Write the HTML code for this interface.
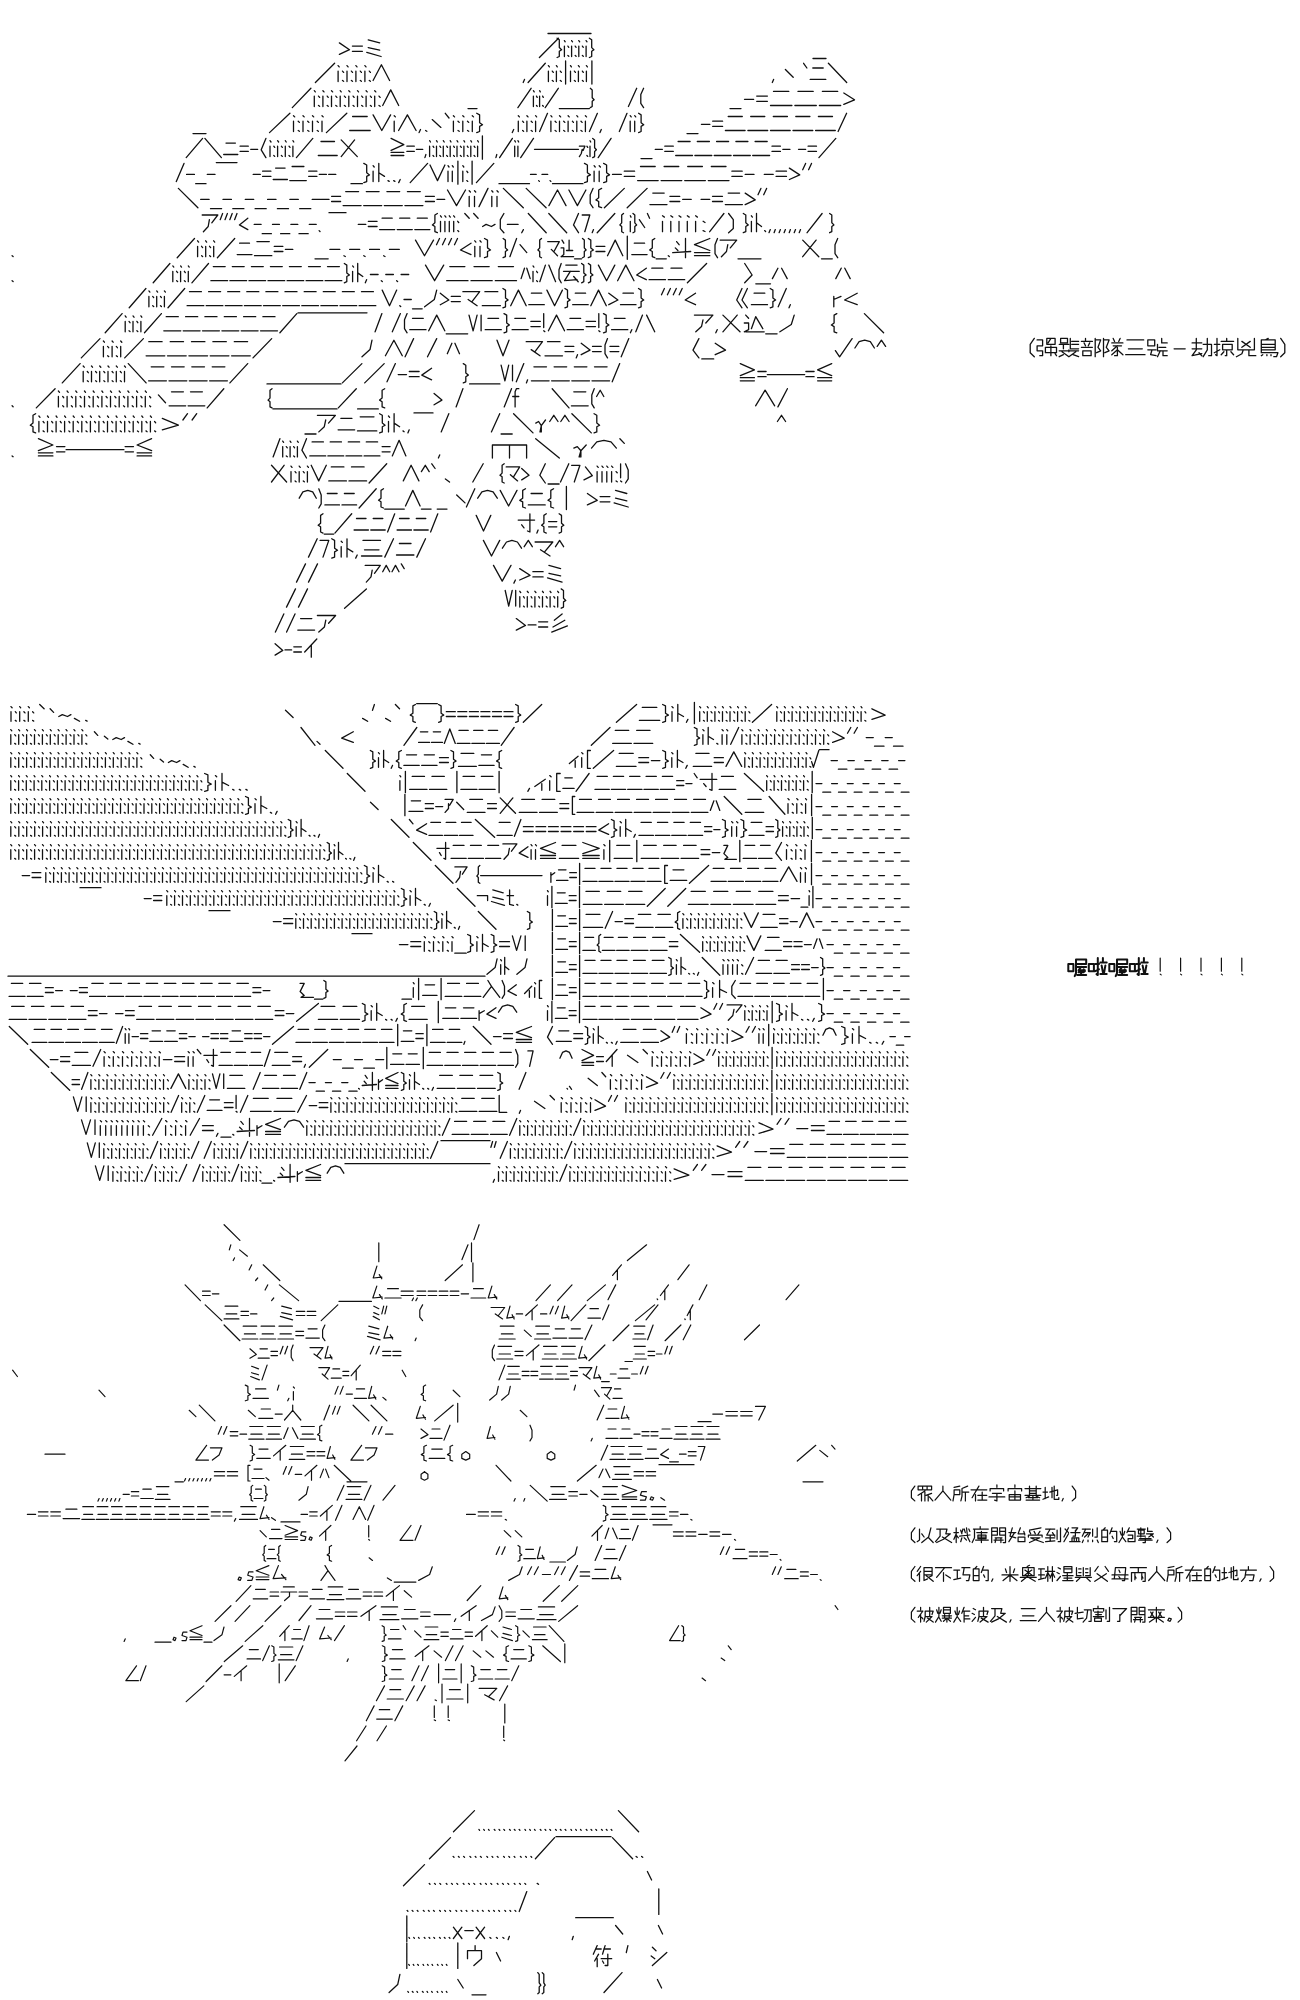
<!DOCTYPE html>
<html><head><meta charset="utf-8"><style>
html,body{margin:0;padding:0;background:#fff;width:1300px;height:2000px;overflow:hidden}
svg{position:absolute;left:0;top:0}
</style></head><body>
<svg width="1300" height="2000" viewBox="0 0 1300 2000"><g fill="none" stroke="#111" stroke-linecap="round" stroke-linejoin="round">
<path stroke-width="1.3" d="M548 33.5L562.3 33.5M562.3 33.5L576.7 33.5M576.7 33.5L591 33.5M339.4 42.9L349.5 49.7L339.4 54.4M352.4 46.1L362.4 46.1M352.4 51.3L362.4 51.3M368.2 39.8L379.7 42.9M368.2 47.6L379.7 50.2M366.8 52.3L381.1 56.5M539.4 57.5L558.5 38.2M557.1 38.2L559.3 39.8L559.3 47.6L561.6 49.7L559.3 51.3L559.3 56.5L557.1 57.5M564.4 40.6L565.2 41.8M564.4 46.1L564.4 56.5M567.9 46.1L568.8 47.3M567.9 55.4L568.8 56.2M571.6 40.6L572.5 41.8M571.6 46.1L571.6 56.5M575.2 46.1L576.1 47.3M575.2 55.4L576.1 56.2M578.8 40.6L579.7 41.8M578.8 46.1L578.8 56.5M582.4 46.1L583.3 47.3M582.4 55.4L583.3 56.2M586.1 40.6L587 41.8M586.1 46.1L586.1 56.5M589.4 38.2L591.7 39.8L591.7 47.6L593.9 49.7L591.7 51.3L591.7 56.5L589.4 57.5M813 58.5L826 58.5M315.4 82.5L334.6 63.3M338.1 65.6L339.2 66.9M338.1 71.1L338.1 81.5M342.5 71.1L343.6 72.4M342.5 80.5L343.6 81.3M347 65.6L348.1 66.9M347 71.1L347 81.5M351.4 71.1L352.5 72.4M351.4 80.5L352.5 81.3M355.9 65.6L357 66.9M355.9 71.1L355.9 81.5M360.3 71.1L361.4 72.4M360.3 80.5L361.4 81.3M364.9 65.6L366 66.9M364.9 71.1L364.9 81.5M369.3 71.1L370.4 72.4M369.3 80.5L370.4 81.3M373.1 80.5L381.4 64.8L389.6 80.5M524.5 79.4L523.2 82.5M528.1 82.5L545.3 63.3M548.4 65.6L549.4 66.9M548.4 71.1L548.4 81.5M552.3 71.1L553.3 72.4M552.3 80.5L553.3 81.3M556.4 65.6L557.3 66.9M556.4 71.1L556.4 81.5M560.3 71.1L561.3 72.4M560.3 80.5L561.3 81.3M565.6 60.9L565.6 84.1M570.5 65.6L571.4 66.9M570.5 71.1L570.5 81.5M574.4 71.1L575.4 72.4M574.4 80.5L575.4 81.3M578.4 65.6L579.4 66.9M578.4 71.1L578.4 81.5M582.4 71.1L583.3 72.4M582.4 80.5L583.3 81.3M586.4 65.6L587.4 66.9M586.4 71.1L586.4 81.5M591.9 60.9L591.9 84.1M773.6 79.4L772.3 82.5M785.4 69.5L793.2 77.3M803.6 63.3L806.9 68M812.8 68L823.2 68M810.2 79.4L825.8 79.4M828.4 63.3L846.7 82.5M292.3 107.6L310.9 88.3M314.3 90.7L315.3 91.9M314.3 96.1L314.3 106.5M318.5 96.1L319.6 97.4M318.5 105.5L319.6 106.3M322.9 90.7L324 91.9M322.9 96.1L322.9 106.5M327.2 96.1L328.2 97.4M327.2 105.5L328.2 106.3M331.5 90.7L332.6 91.9M331.5 96.1L331.5 106.5M335.8 96.1L336.9 97.4M335.8 105.5L336.9 106.3M340.2 90.7L341.2 91.9M340.2 96.1L340.2 106.5M344.4 96.1L345.5 97.4M344.4 105.5L345.5 106.3M348.8 90.7L349.9 91.9M348.8 96.1L348.8 106.5M353.1 96.1L354.1 97.4M353.1 105.5L354.1 106.3M357.5 90.7L358.5 91.9M357.5 96.1L357.5 106.5M361.7 96.1L362.8 97.4M361.7 105.5L362.8 106.3M366.1 90.7L367.2 91.9M366.1 96.1L366.1 106.5M370.4 96.1L371.4 97.4M370.4 105.5L371.4 106.3M374.7 90.7L375.8 91.9M374.7 96.1L374.7 106.5M379 96.1L380.1 97.4M379 105.5L380.1 106.3M382.7 105.5L390.7 89.9L398.7 105.5M468 108.6L477 108.6M517.9 107.6L531.1 88.3M533.4 90.7L534.2 91.9M533.4 96.1L533.4 106.5M536.5 96.1L537.2 97.4M536.5 105.5L537.2 106.3M539.6 90.7L540.3 91.9M539.6 96.1L539.6 106.5M542.6 96.1L543.3 97.4M542.6 105.5L543.3 106.3M545.2 107.6L558.3 88.3M559.3 108.6L574.3 108.6M574.3 108.6L589.4 108.6M590.3 88.3L592.2 89.9L592.2 97.7L594.1 99.8L592.2 101.3L592.2 106.5L590.3 107.6M628.4 106.5L636.7 88.3M643.6 88.3L640.8 94.6L640.8 103.4L643.6 107.6M730 108.6L741 108.6M744.5 99.3L753.7 99.3M756.7 96.1L767.4 96.1M756.7 101.3L767.4 101.3M773.5 91.4L788.8 91.4M770.5 105.5L791.9 105.5M798 91.4L813.2 91.4M794.9 105.5L816.3 105.5M822.4 91.4L837.7 91.4M819.4 105.5L840.7 105.5M843.8 93L854.5 99.8L843.8 104.4M193 133.6L206 133.6M269.5 132.6L289.9 113.3M293.5 115.7L294.7 116.9M293.5 121.2L293.5 131.5M298.2 121.2L299.4 122.4M298.2 130.5L299.4 131.3M303 115.7L304.2 116.9M303 121.2L303 131.5M307.7 121.2L308.9 122.4M307.7 130.5L308.9 131.3M312.5 115.7L313.7 116.9M312.5 121.2L312.5 131.5M317.2 121.2L318.4 122.4M317.2 130.5L318.4 131.3M322 115.7L323.2 116.9M322 121.2L322 131.5M326.4 132.6L346.8 113.3M352.6 116.5L367.2 116.5M349.7 130.5L370.2 130.5M373.1 114.9L381.8 130.5L390.6 114.9M394.2 115.7L395.4 116.9M394.2 121.2L394.2 131.5M398.6 130.5L407.4 114.9L416.1 130.5M420.5 129.5L419.1 132.6M425.6 130.5L426.8 131.3M432.2 119.6L440.9 127.4M445.3 113.3L449 118M453.4 115.7L454.5 116.9M453.4 121.2L453.4 131.5M458 121.2L459.2 122.4M458 130.5L459.2 131.3M462.8 115.7L464 116.9M462.8 121.2L462.8 131.5M467.5 121.2L468.7 122.4M467.5 130.5L468.7 131.3M472.3 115.7L473.5 116.9M472.3 121.2L472.3 131.5M476.7 113.3L479.6 114.9L479.6 122.7L482.5 124.8L479.6 126.4L479.6 131.5L476.7 132.6M513.7 129.5L512.3 132.6M518.3 115.7L519.4 116.9M518.3 121.2L518.3 131.5M522.6 121.2L523.6 122.4M522.6 130.5L523.6 131.3M526.9 115.7L528 116.9M526.9 121.2L526.9 131.5M531.2 121.2L532.3 122.4M531.2 130.5L532.3 131.3M535.6 115.7L536.6 116.9M535.6 121.2L535.6 131.5M539.6 131.5L547.5 113.3M550.9 115.7L551.9 116.9M550.9 121.2L550.9 131.5M555.1 121.2L556.2 122.4M555.1 130.5L556.2 131.3M559.5 115.7L560.6 116.9M559.5 121.2L559.5 131.5M563.7 121.2L564.8 122.4M563.7 130.5L564.8 131.3M568.1 115.7L569.2 116.9M568.1 121.2L568.1 131.5M572.4 121.2L573.4 122.4M572.4 130.5L573.4 131.3M576.8 115.7L577.8 116.9M576.8 121.2L576.8 131.5M581 121.2L582.1 122.4M581 130.5L582.1 131.3M585.4 115.7L586.5 116.9M585.4 121.2L585.4 131.5M589.4 131.5L597.4 113.3M601.3 129.5L600 132.6M619.3 131.5L627 113.3M630.2 115.7L631.2 116.9M630.2 121.2L630.2 131.5M634.7 115.7L635.7 116.9M634.7 121.2L634.7 131.5M638.6 113.3L641.1 114.9L641.1 122.7L643.7 124.8L641.1 126.4L641.1 131.5L638.6 132.6M687 133.6L698 133.6M701.4 124.3L709.9 124.3M712.7 121.2L722.6 121.2M712.7 126.4L722.6 126.4M728.2 116.5L742.3 116.5M725.4 130.5L745.1 130.5M750.7 116.5L764.8 116.5M747.9 130.5L767.7 130.5M773.3 116.5L787.4 116.5M770.5 130.5L790.2 130.5M795.8 116.5L809.9 116.5M793 130.5L812.8 130.5M818.4 116.5L832.5 116.5M815.6 130.5L835.3 130.5M838.1 131.5L846.6 113.3M186.2 157.6L202.6 138.4M204.9 138.4L221.4 157.6M226 143.1L235.4 143.1M223.7 154.5L237.8 154.5M240.1 146.2L248.3 146.2M240.1 151.4L248.3 151.4M250.7 149.3L257.7 149.3M265.9 138.4L261.2 149.8L265.9 157.6M270 140.7L271 142M270 146.2L270 156.6M273.8 146.2L274.7 147.4M273.8 155.5L274.7 156.4M277.6 140.7L278.6 142M277.6 146.2L277.6 156.6M281.4 146.2L282.3 147.4M281.4 155.5L282.3 156.4M285.3 140.7L286.2 142M285.3 146.2L285.3 156.6M289 146.2L290 147.4M289 155.5L290 156.4M292.9 140.7L293.8 142M292.9 146.2L292.9 156.6M296.4 157.6L312.8 138.4M321 141.5L334.5 141.5M318.3 155.5L337.2 155.5M341.2 139.9L357.3 156.6M354.6 139.9L341.2 156.6M391.1 138.4L403.8 144.6L391.1 150.4M391.1 152.4L403.8 152.4M391.1 155.5L403.8 155.5M406.9 146.2L414.3 146.2M406.9 151.4L414.3 151.4M416.4 149.3L422.8 149.3M425.9 154.5L424.9 157.6M429.6 140.7L430.5 142M429.6 146.2L429.6 156.6M433 146.2L433.8 147.4M433 155.5L433.8 156.4M436.5 140.7L437.3 142M436.5 146.2L436.5 156.6M439.8 146.2L440.7 147.4M439.8 155.5L440.7 156.4M443.3 140.7L444.2 142M443.3 146.2L443.3 156.6M446.7 146.2L447.5 147.4M446.7 155.5L447.5 156.4M450.2 140.7L451 142M450.2 146.2L450.2 156.6M453.6 146.2L454.4 147.4M453.6 155.5L454.4 156.4M457 140.7L457.9 142M457 146.2L457 156.6M460.4 146.2L461.3 147.4M460.4 155.5L461.3 156.4M463.9 140.7L464.7 142M463.9 146.2L463.9 156.6M467.3 146.2L468.1 147.4M467.3 155.5L468.1 156.4M470.8 140.7L471.6 142M470.8 146.2L470.8 156.6M474.1 146.2L475 147.4M474.1 155.5L475 156.4M477.6 140.7L478.5 142M477.6 146.2L477.6 156.6M482.4 136L482.4 159.2M496.8 154.5L495.9 157.6M499.6 157.6L512.4 138.4M514.7 140.7L515.5 142M514.7 146.2L514.7 156.6M517.9 140.7L518.7 142M517.9 146.2L517.9 156.6M520.7 157.6L533.5 138.4M534.5 149.3L549.1 149.3M549.1 149.3L563.8 149.3M563.8 149.3L578.5 149.3M579.4 146.2L584.9 146.2L583.1 150.4M582.2 149.3L581.3 153.5L579.4 156.6M586.9 146.2L587.7 147.4M586.9 155.5L587.7 156.4M590 140.7L590.7 142M590 146.2L590 156.6M592.7 138.4L594.6 139.9L594.6 147.8L596.4 149.8L594.6 151.4L594.6 156.6L592.7 157.6M598.2 157.6L611.1 138.4M641 158.6L652 158.6M655.2 149.3L662.4 149.3M664.8 146.2L673.3 146.2M664.8 151.4L673.3 151.4M678.1 141.5L690.1 141.5M675.7 155.5L692.5 155.5M697.3 141.5L709.4 141.5M694.9 155.5L711.8 155.5M716.6 141.5L728.6 141.5M714.2 155.5L731.1 155.5M735.9 141.5L747.9 141.5M733.5 155.5L750.3 155.5M755.1 141.5L767.2 141.5M752.7 155.5L769.6 155.5M772 146.2L780.4 146.2M772 151.4L780.4 151.4M782.8 149.3L790 149.3M798.5 149.3L805.7 149.3M808.1 146.2L816.5 146.2M808.1 151.4L816.5 151.4M818.9 157.6L835.8 138.4M176.3 181.6L184 163.4M186.6 174.4L194.4 174.4M195.7 183.7L206 183.7M207.3 174.4L215 174.4M216.3 162.6L237 162.6M253.2 174.4L260.3 174.4M262.6 171.2L270.9 171.2M262.6 176.4L270.9 176.4M275.6 168.1L285.1 168.1M273.2 179.5L287.4 179.5M292.1 166.5L303.9 166.5M289.8 180.6L306.3 180.6M308.7 171.2L316.9 171.2M308.7 176.4L316.9 176.4M319.3 174.4L326.4 174.4M328.7 174.4L335.8 174.4M351 183.7L362.4 183.7M363.8 163.4L366.7 165L366.7 172.8L369.5 174.9L366.7 176.4L366.7 181.6L363.8 182.6M373.1 165.7L374.2 167M373.1 171.2L373.1 181.6M378.8 163.4L378.8 181.6M378.8 172.8L384.5 176.4M388 180.6L389.2 181.4M393.7 180.6L394.9 181.4M400.2 179.5L398.7 182.6M410.2 182.6L427.6 163.4M430 165L437.5 180.6L444.9 165M448 165.7L449 167M448 171.2L448 181.6M452.3 165.7L453.3 167M452.3 171.2L452.3 181.6M457.9 161.1L457.9 184.2M462.8 165.7L463.8 167M462.8 171.2L462.8 181.6M466.8 171.2L467.8 172.5M466.8 180.6L467.8 181.4M472.1 161.1L472.1 184.2M476.4 182.6L493.8 163.4M499 183.7L514.3 183.7M514.3 183.7L529.5 183.7M530.5 174.4L536.2 174.4M538.6 180.6L539.4 181.4M542 174.4L547.7 174.4M550.1 180.6L550.8 181.4M552.5 183.7L567.7 183.7M567.7 183.7L583 183.7M584.5 163.4L587.4 165L587.4 172.8L590.4 174.9L587.4 176.4L587.4 181.6L584.5 182.6M594.1 165.7L595.2 167M594.1 171.2L594.1 181.6M599.2 165.7L600.4 167M599.2 171.2L599.2 181.6M603.6 163.4L606.6 165L606.6 172.8L609.5 174.9L606.6 176.4L606.6 181.6L603.6 182.6M612.5 174.4L621.3 174.4M624.3 171.2L634.6 171.2M624.3 176.4L634.6 176.4M640.5 166.5L655.2 166.5M637.6 180.6L658.2 180.6M664.1 166.5L678.8 166.5M661.1 180.6L681.8 180.6M687.7 166.5L702.4 166.5M684.7 180.6L705.4 180.6M711.3 166.5L726 166.5M708.3 180.6L729 180.6M731.9 171.2L742.2 171.2M731.9 176.4L742.2 176.4M745.2 174.4L754 174.4M764.3 174.4L773.2 174.4M776.1 171.2L786.5 171.2M776.1 176.4L786.5 176.4M789.4 168.1L799.7 174.9L789.4 179.5M805.6 163.4L802.7 169.7M811.5 163.4L808.6 169.7M178.4 188.4L197.9 207.7M200.7 199.4L209.1 199.4M210.5 208.7L221.6 208.7M223 199.4L231.4 199.4M232.8 208.7L243.9 208.7M245.3 199.4L253.7 199.4M255.1 208.7L266.2 208.7M267.6 199.4L276 199.4M277.4 208.7L288.5 208.7M289.9 199.4L298.3 199.4M299.7 208.7L310.8 208.7M312.2 199.4L320.6 199.4M321.3 199.4L329 199.4M331.6 196.3L340.6 196.3M331.6 201.5L340.6 201.5M345.7 191.6L358.6 191.6M343.1 205.6L361.1 205.6M366.3 191.6L379.1 191.6M363.7 205.6L381.7 205.6M386.9 191.6L399.7 191.6M384.3 205.6L402.3 205.6M407.4 191.6L420.3 191.6M404.9 205.6L422.9 205.6M425.4 196.3L434.4 196.3M425.4 201.5L434.4 201.5M437 199.4L444.7 199.4M447.5 190L456.5 205.6L465.5 190M469.2 190.8L470.4 192M469.2 196.3L469.2 206.6M474.5 190.8L475.7 192M474.5 196.3L474.5 206.6M479 206.6L488 188.4M491.8 190.8L492.9 192M491.8 196.3L491.8 206.6M497 190.8L498.2 192M497 196.3L497 206.6M503.4 188.4L523.3 207.7M526.2 188.4L546.1 207.7M548.9 205.6L557.5 190L566 205.6M568.9 190L577.4 205.6L585.9 190M593 188.4L590.2 194.7L590.2 203.5L593 207.7M601.6 188.4L598.7 190L598.7 197.8L595.9 199.9L598.7 201.5L598.7 206.6L601.6 207.7M604.4 207.7L624.3 188.4M627.2 207.7L647.1 188.4M652.8 193.1L664.2 193.1M649.9 204.6L667 204.6M669.9 196.3L679.8 196.3M669.9 201.5L679.8 201.5M682.7 199.4L691.2 199.4M701.1 199.4L709.7 199.4M712.5 196.3L722.5 196.3M712.5 201.5L722.5 201.5M728.2 193.1L739.6 193.1M725.3 204.6L742.4 204.6M745.2 193.1L755.2 199.9L745.2 204.6M760.9 188.4L758 194.7M766.6 188.4L763.7 194.7M202.2 215L217.8 215L211.8 222.8M209.4 219.7L208.2 226.5L203.4 231.7M222.6 213.5L220.2 219.7M227.4 213.5L225 219.7M232.2 213.5L229.8 219.7M237 213.5L234.6 219.7M247.8 218.2L239.4 224.9L247.8 229.6M254.2 224.4L261.1 224.4M262.2 233.7L271.4 233.7M272.5 224.4L279.4 224.4M280.6 233.7L289.8 233.7M290.9 224.4L297.8 224.4M299 233.7L308.2 233.7M309.3 224.4L316.2 224.4M319.1 230.6L320 231.5M329 212.7L346 212.7M358.3 224.4L365.8 224.4M368.3 221.3L377.1 221.3M368.3 226.5L377.1 226.5M382.1 218.2L392.2 218.2M379.6 229.6L394.7 229.6M399.7 218.2L409.8 218.2M397.2 229.6L412.3 229.6M417.3 218.2L427.3 218.2M414.8 229.6L429.9 229.6M437.4 213.5L434.9 215L434.9 222.8L432.4 224.9L434.9 226.5L434.9 231.7L437.4 232.7M440.5 215.8L441.5 217.1M440.5 221.3L440.5 231.7M444.9 215.8L445.9 217.1M444.9 221.3L444.9 231.7M449.3 215.8L450.3 217.1M449.3 221.3L449.3 231.7M453.7 215.8L454.7 217.1M453.7 221.3L453.7 231.7M457.7 221.3L458.7 222.5M457.7 230.6L458.7 231.5M464.8 213.5L469.2 218.2M473.7 213.5L478.1 218.2M482.6 226.5L486.1 224.4L491.4 226.5L495 224.4M503.9 213.5L500.3 219.7L500.3 228.6L503.9 232.7M507.4 224.4L518.1 224.4M523.4 229.6L521.7 232.7M528.3 213.5L546.2 232.7M548.8 213.5L566.7 232.7M578.5 213.5L573.5 224.9L578.5 232.7M582.2 215L589.8 215L584.8 231.7M593.5 229.6L592.2 232.7M597.2 232.7L614.8 213.5M623.5 213.5L621.7 215L621.7 222.8L619.9 224.9L621.7 226.5L621.7 231.7L623.5 232.7M630.3 215.8L631 217.1M630.3 221.3L630.3 231.7M633 213.5L634.8 215L634.8 222.8L636.6 224.9L634.8 226.5L634.8 231.7L633 232.7M639.3 219.7L644.7 227.5M647.4 213.5L649.6 218.2M662.5 215.8L664.4 217.1M662.5 221.3L662.5 231.7M670.8 215.8L672.7 217.1M670.8 221.3L670.8 231.7M679 215.8L680.9 217.1M679 221.3L679 231.7M687.3 215.8L689.2 217.1M687.3 221.3L687.3 231.7M695.6 215.8L697.4 217.1M695.6 221.3L695.6 231.7M703.1 221.3L705 222.5M703.1 230.6L705 231.5M709.7 231.7L723.9 213.5M728.6 213.5L733.3 219.7L733.3 228.6L728.6 232.7M743.3 213.5L745.8 215L745.8 222.8L748.3 224.9L745.8 226.5L745.8 231.7L743.3 232.7M751.4 215.8L752.4 217.1M751.4 221.3L751.4 231.7M756.5 213.5L756.5 231.7M756.5 222.8L761.5 226.5M764.6 230.6L765.6 231.5M770.3 229.6L769 232.7M775.3 229.6L774.1 232.7M780.4 229.6L779.1 232.7M785.4 229.6L784.1 232.7M790.4 229.6L789.2 232.7M795.5 229.6L794.2 232.7M800.5 229.6L799.2 232.7M807.1 232.7L822.1 213.5M829.6 213.5L831.8 215L831.8 222.8L833.9 224.9L831.8 226.5L831.8 231.7L829.6 232.7M12.1 255.7L13.1 256.5M177.2 257.7L194.5 238.5M197.6 240.8L198.6 242.1M197.6 246.3L197.6 256.7M201.6 246.3L202.6 247.6M201.6 255.7L202.6 256.5M205.7 240.8L206.6 242.1M205.7 246.3L205.7 256.7M209.6 246.3L210.6 247.6M209.6 255.7L210.6 256.5M213.7 240.8L214.7 242.1M213.7 246.3L213.7 256.7M217.4 257.7L234.7 238.5M239.6 243.2L249.5 243.2M237.2 254.6L252 254.6M256.9 241.6L269.3 241.6M254.5 255.7L271.8 255.7M274.2 246.3L282.9 246.3M274.2 251.5L282.9 251.5M285.4 249.4L292.8 249.4M315 258.8L328.2 258.8M329.9 249.4L339.8 249.4M343.9 255.7L345.3 256.5M349.7 249.4L359.7 249.4M363.8 255.7L365.1 256.5M369.6 249.4L379.5 249.4M383.6 255.7L385 256.5M389.4 249.4L399.3 249.4M415.5 240.1L424.5 255.7L433.5 240.1M439.5 238.5L436.5 244.7M445.5 238.5L442.5 244.7M451.5 238.5L448.5 244.7M457.5 238.5L454.5 244.7M471 243.2L460.5 250L471 254.6M474.8 240.8L475.9 242.1M474.8 246.3L474.8 256.7M480 240.8L481.2 242.1M480 246.3L480 256.7M484.5 238.5L487.5 240.1L487.5 247.9L490.5 250L487.5 251.5L487.5 256.7L484.5 257.7M503.1 238.5L505.4 240.1L505.4 247.9L507.6 250L505.4 251.5L505.4 256.7L503.1 257.7M509.9 256.7L516.6 238.5M520 244.7L526.8 252.6M541.5 238.5L539.7 240.1L539.7 247.9L537.9 250L539.7 251.5L539.7 256.7L541.5 257.7M547.7 241.6L559.3 241.6L554 251.5M551.3 249.4L557.5 255.7M562 240.1L563.8 243.2M561.1 247.9L563.8 247.9L563.8 254.6L561.1 256.7M562 256.7L573.6 256.7M566.5 250.5L572.7 250.5M569.1 240.1L569.1 250.5M574.5 258.8L581.6 258.8M582.5 238.5L584.3 240.1L584.3 247.9L586.1 250L584.3 251.5L584.3 256.7L582.5 257.7M588.3 238.5L590.8 240.1L590.8 247.9L593.4 250L590.8 251.5L590.8 256.7L588.3 257.7M596 246.3L604.9 246.3M596 251.5L604.9 251.5M607.5 255.7L615.2 240.1L622.8 255.7M627.3 236.1L627.3 259.3M634.3 243.2L644.6 243.2M631.8 254.6L647.1 254.6M654.8 238.5L652.3 240.1L652.3 247.9L649.7 250L652.3 251.5L652.3 256.7L654.8 257.7M656.1 258.8L666.3 258.8M668.3 255.7L669.3 256.5M676.6 241.6L679.1 244.7M675.3 247.9L677.9 250.5M672.7 252.6L690.7 251.5M685.5 238.5L685.5 257.7M709.8 238.5L694.5 244.7L709.8 250.5M694.5 252.6L709.8 252.6M694.5 255.7L709.8 255.7M717.5 238.5L715 244.7L715 253.6L717.5 257.7M720.1 240.1L736.7 240.1L730.3 247.9M727.8 244.7L726.5 251.5L721.4 256.7M738 258.8L749.5 258.8M749.5 258.8L761 258.8M802.7 240.1L818.8 256.7M816.1 240.1L802.7 256.7M821.5 258.8L832.3 258.8M837.7 238.5L835 244.7L835 253.6L837.7 257.7M12.1 280.7L13.1 281.5M153.2 282.8L169.9 263.5M172.8 265.9L173.8 267.1M172.8 271.3L172.8 281.7M176.6 271.3L177.6 272.6M176.6 280.7L177.6 281.5M180.6 265.9L181.5 267.1M180.6 271.3L180.6 281.7M184.4 271.3L185.3 272.6M184.4 280.7L185.3 281.5M188.3 265.9L189.2 267.1M188.3 271.3L188.3 281.7M191.9 282.8L208.5 263.5M213.3 266.6L225.2 266.6M210.9 280.7L227.6 280.7M232.3 266.6L244.2 266.6M229.9 280.7L246.6 280.7M251.4 266.6L263.3 266.6M249 280.7L265.6 280.7M270.4 266.6L282.3 266.6M268 280.7L284.7 280.7M289.4 266.6L301.3 266.6M287.1 280.7L303.7 280.7M308.5 266.6L320.4 266.6M306.1 280.7L322.8 280.7M327.5 266.6L339.4 266.6M325.1 280.7L341.8 280.7M344.3 263.5L346.8 265.1L346.8 272.9L349.4 275L346.8 276.5L346.8 281.7L344.3 282.8M352.6 265.9L353.6 267.1M352.6 271.3L352.6 281.7M357.7 263.5L357.7 281.7M357.7 272.9L362.8 276.5M366.6 279.7L365.3 282.8M370.4 274.5L378.1 274.5M381.3 280.7L382.3 281.5M385.8 274.5L393.4 274.5M396.6 280.7L397.6 281.5M401.1 274.5L408.7 274.5M425.5 265.1L434.6 280.7L443.7 265.1M449.8 266.6L464.9 266.6M446.7 280.7L468 280.7M474 266.6L489.2 266.6M471 280.7L492.2 280.7M498.3 266.6L513.5 266.6M495.3 280.7L516.5 280.7M524.5 268.2L521.1 278.6M526.8 268.2L530.2 278.6M533 265.9L533.9 267.1M533 271.3L533 281.7M536.6 271.3L537.5 272.6M536.6 280.7L537.5 281.5M545.4 265.1L539.8 281.7M548.8 265.1L555.6 281.7M561.2 263.5L559 269.8L559 278.6L561.2 282.8M565.8 265.1L577.1 265.1M563.5 271.3L579.3 271.3M570.3 271.3L564.6 280.7L577.1 279.7M573.7 276.5L578.2 281.7M581.6 263.5L583.8 265.1L583.8 272.9L586.1 275L583.8 276.5L583.8 281.7L581.6 282.8M588.4 263.5L590.6 265.1L590.6 272.9L592.9 275L590.6 276.5L590.6 281.7L588.4 282.8M598.4 265.1L606.6 280.7L614.8 265.1M617.6 280.7L625.8 265.1L634 280.7M646.3 268.2L636.7 275L646.3 279.7M651.8 268.2L662.8 268.2M649.1 279.7L665.5 279.7M671 268.2L682 268.2M668.3 279.7L684.7 279.7M687.4 282.8L706.6 263.5M744.7 263.5L752.1 275L744.7 282.8M755.8 283.8L770.5 283.8M777.9 268.2L772.4 278.6M781.6 268.2L787.2 278.6M841.2 268.2L835.8 278.6M844.8 268.2L850.2 278.6M129.2 307.8L145.9 288.5M148.9 290.9L149.9 292.1M148.9 296.4L148.9 306.8M152.7 296.4L153.7 297.6M152.7 305.7L153.7 306.5M156.7 290.9L157.6 292.1M156.7 296.4L156.7 306.8M160.5 296.4L161.4 297.6M160.5 305.7L161.4 306.5M164.4 290.9L165.4 292.1M164.4 296.4L164.4 306.8M168 307.8L184.7 288.5M189.5 291.7L201.4 291.7M187.1 305.7L203.8 305.7M208.6 291.7L220.6 291.7M206.2 305.7L222.9 305.7M227.7 291.7L239.7 291.7M225.3 305.7L242.1 305.7M246.8 291.7L258.8 291.7M244.4 305.7L261.2 305.7M265.9 291.7L277.9 291.7M263.5 305.7L280.3 305.7M285 291.7L297 291.7M282.7 305.7L299.4 305.7M304.2 291.7L316.1 291.7M301.8 305.7L318.5 305.7M323.3 291.7L335.2 291.7M320.9 305.7L337.6 305.7M342.4 291.7L354.3 291.7M340 305.7L356.7 305.7M361.5 291.7L373.4 291.7M359.1 305.7L375.8 305.7M382.2 290.1L389.5 305.7L396.7 290.1M399.8 305.7L400.7 306.5M404 299.5L411.3 299.5M412.5 308.8L422.2 308.8M436.7 290.1L434.3 299.5L424.6 306.8M440.3 293.2L448.8 300L440.3 304.7M451.3 296.4L460.3 296.4M451.3 301.6L460.3 301.6M462.9 291.7L479.7 291.7L472 301.6M468.1 299.5L477.1 305.7M484.9 291.7L497.8 291.7M482.3 305.7L500.4 305.7M502.9 288.5L505.5 290.1L505.5 297.9L508.1 300L505.5 301.6L505.5 306.8L502.9 307.8M510.7 305.7L518.4 290.1L526.2 305.7M531.4 293.2L541.7 293.2M528.8 304.7L544.3 304.7M546.9 290.1L554.6 305.7L562.4 290.1M564.9 288.5L567.5 290.1L567.5 297.9L570.1 300L567.5 301.6L567.5 306.8L564.9 307.8M575.3 293.2L585.6 293.2M572.7 304.7L588.2 304.7M590.8 305.7L598.5 290.1L606.3 305.7M608.8 293.2L617.9 300L608.8 304.7M623 293.2L633.4 293.2M620.5 304.7L636 304.7M638.5 288.5L641.1 290.1L641.1 297.9L643.7 300L641.1 301.6L641.1 306.8L638.5 307.8M664.4 288.5L661.5 294.8M670.4 288.5L667.4 294.8M676.3 288.5L673.3 294.8M682.2 288.5L679.2 294.8M695.5 293.2L685.2 300L695.5 304.7M742 288.5L736.7 300L742 307.8M747.4 288.5L742 300L747.4 307.8M754.1 293.2L764.8 293.2M751.4 304.7L767.5 304.7M770.2 288.5L772.9 290.1L772.9 297.9L775.6 300L772.9 301.6L772.9 306.8L770.2 307.8M778.2 306.8L786.3 288.5M790.3 304.7L789 307.8M833.8 296.4L833.8 306.8M833.8 299.5L841 296.4M857.2 293.2L844.6 300L857.2 304.7M105.2 332.8L122.1 313.6M125.2 315.9L126.1 317.2M125.2 321.4L125.2 331.8M129 321.4L130 322.7M129 330.8L130 331.6M133 315.9L134 317.2M133 321.4L133 331.8M136.9 321.4L137.8 322.7M136.9 330.8L137.8 331.6M140.9 315.9L141.8 317.2M140.9 321.4L140.9 331.8M144.5 332.8L161.4 313.6M166.2 316.7L178.3 316.7M163.8 330.8L180.8 330.8M185.6 316.7L197.7 316.7M183.2 330.8L200.1 330.8M204.9 316.7L217 316.7M202.5 330.8L219.4 330.8M224.3 316.7L236.4 316.7M221.9 330.8L238.8 330.8M243.6 316.7L255.7 316.7M241.2 330.8L258.1 330.8M262.9 316.7L275 316.7M260.5 330.8L277.5 330.8M279.9 332.8L296.8 313.6M298 312.8L315.2 312.8M315.2 312.8L332.5 312.8M332.5 312.8L349.8 312.8M349.8 312.8L367 312.8M375.1 331.8L381.9 313.6M392.3 331.8L400.4 313.6M407.1 313.6L404.5 319.8L404.5 328.7L407.1 332.8M412.5 318.3L423.3 318.3M409.8 329.7L426 329.7M428.7 330.8L436.7 315.1L444.8 330.8M446.2 333.8L467.7 333.8M469 315.1L473.1 330.8L477.1 315.1M481.1 315.1L481.1 330.8M487.9 318.3L498.6 318.3M485.2 329.7L501.3 329.7M504 313.6L506.7 315.1L506.7 323L509.4 325L506.7 326.6L506.7 331.8L504 332.8M514.8 318.3L525.5 318.3M512.1 329.7L528.2 329.7M530.9 321.4L540.3 321.4M530.9 326.6L540.3 326.6M543.7 313.6L543.7 327.6M543.7 330.8L544.8 331.6M548.4 330.8L556.5 315.1L564.5 330.8M569.9 318.3L580.7 318.3M567.2 329.7L583.4 329.7M586.1 321.4L595.5 321.4M586.1 326.6L595.5 326.6M598.8 313.6L598.8 327.6M598.8 330.8L599.9 331.6M603.5 313.6L606.2 315.1L606.2 323L608.9 325L606.2 326.6L606.2 331.8L603.5 332.8M614.3 318.3L625.1 318.3M611.6 329.7L627.8 329.7M631.8 329.7L630.4 332.8M642.5 315.1L635.8 331.8M646.6 315.1L654.7 331.8M694.4 315.1L712.9 315.1L705.8 323M703 319.8L701.5 326.6L695.8 331.8M717.2 329.7L715.8 332.8M722.9 315.1L740 331.8M737.2 315.1L722.9 331.8M745.7 315.1L748.6 318.3M744.3 323L748.6 323L748.6 329.7L744.3 331.8M745.7 331.8L764.2 331.8M755.7 316.7L751.4 328.7M755.7 316.7L762.8 328.7M765.7 333.8L777.1 333.8M794.2 315.1L791.3 324.5L779.9 331.8M836.8 313.6L834.1 315.1L834.1 323L831.4 325L834.1 326.6L834.1 331.8L836.8 332.8M864.4 313.6L883.6 332.8M81.3 357.9L100 338.6M103.4 341L104.4 342.2M103.4 346.4L103.4 356.8M107.6 346.4L108.7 347.7M107.6 355.8L108.7 356.6M112.1 341L113.1 342.2M112.1 346.4L112.1 356.8M116.3 346.4L117.4 347.7M116.3 355.8L117.4 356.6M120.7 341L121.8 342.2M120.7 346.4L120.7 356.8M124.7 357.9L143.4 338.6M148.8 341.7L162.1 341.7M146.1 355.8L164.8 355.8M170.2 341.7L183.5 341.7M167.5 355.8L186.2 355.8M191.5 341.7L204.9 341.7M188.9 355.8L207.6 355.8M212.9 341.7L226.3 341.7M210.2 355.8L228.9 355.8M234.3 341.7L247.6 341.7M231.6 355.8L250.3 355.8M253 357.9L271.7 338.6M372 340.2L370 349.6L362 356.8M385.4 355.8L393.9 340.2L402.3 355.8M405.1 356.8L413.6 338.6M427.5 356.8L436.7 338.6M451.9 343.3L447.3 353.7M454.9 343.3L459.5 353.7M497 340.2L503 355.8L509 340.2M526.2 341.7L542.5 341.7L535 351.6M531.2 349.6L540 355.8M547.5 341.7L560 341.7M545 355.8L562.5 355.8M565 346.4L573.8 346.4M565 351.6L573.8 351.6M577.5 354.7L576.2 357.9M581.2 343.3L590 350.1L581.2 354.7M592.5 346.4L601.2 346.4M592.5 351.6L601.2 351.6M607.5 338.6L605 344.9L605 353.7L607.5 357.9M610 346.4L618.8 346.4M610 351.6L618.8 351.6M621.2 356.8L628.8 338.6M698.9 338.6L693 350.1L698.9 357.9M701.8 358.9L713.7 358.9M715.2 343.3L725.5 350.1L715.2 354.7M835.4 350.6L839.6 356.8L852.1 338.6M854.9 348L859.1 341.7L864.7 340.2L870.3 341.7L874.4 348M877.2 346.4L881.4 340.2L885.6 346.4M62.3 382.9L80.1 363.6M83.2 366L84.2 367.2M83.2 371.5L83.2 381.8M87.3 371.5L88.3 372.7M87.3 380.8L88.3 381.6M91.5 366L92.5 367.2M91.5 371.5L91.5 381.8M95.6 371.5L96.6 372.7M95.6 380.8L96.6 381.6M99.7 366L100.8 367.2M99.7 371.5L99.7 381.8M103.8 371.5L104.8 372.7M103.8 380.8L104.8 381.6M108 366L109 367.2M108 371.5L108 381.8M112.1 371.5L113.1 372.7M112.1 380.8L113.1 381.6M116.3 366L117.3 367.2M116.3 371.5L116.3 381.8M120.3 371.5L121.3 372.7M120.3 380.8L121.3 381.6M124.5 366L125.5 367.2M124.5 371.5L124.5 381.8M128.3 363.6L146.1 382.9M151.2 366.8L163.9 366.8M148.6 380.8L166.4 380.8M171.5 366.8L184.2 366.8M169 380.8L186.8 380.8M191.8 366.8L204.5 366.8M189.3 380.8L207.1 380.8M212.2 366.8L224.9 366.8M209.6 380.8L227.4 380.8M229.9 382.9L247.7 363.6M267 383.9L281.8 383.9M281.8 383.9L296.6 383.9M296.6 383.9L311.4 383.9M311.4 383.9L326.2 383.9M326.2 383.9L341 383.9M342.4 382.9L361.9 363.6M364.7 382.9L384.2 363.6M387 381.8L395.4 363.6M398.2 374.6L406.5 374.6M409.3 371.5L419.1 371.5M409.3 376.7L419.1 376.7M431.6 368.3L421.8 375.1L431.6 379.8M463.3 363.6L465.8 365.2L465.8 373L468.3 375.1L465.8 376.7L465.8 381.8L463.3 382.9M469.6 383.9L489.8 383.9M489.8 383.9L499.9 383.9M501.1 365.2L504.9 380.8L508.7 365.2M512.5 365.2L512.5 380.8M516.3 381.8L523.8 363.6M527.6 379.8L526.4 382.9M533.9 366.8L546.5 366.8M531.4 380.8L549.1 380.8M554.1 366.8L566.7 366.8M551.6 380.8L569.3 380.8M574.3 366.8L586.9 366.8M571.8 380.8L589.5 380.8M594.5 366.8L607.1 366.8M592 380.8L609.6 380.8M612.2 381.8L619.7 363.6M740.3 363.6L754.4 369.9L740.3 375.6M740.3 377.7L754.4 377.7M740.3 380.8L754.4 380.8M757.9 371.5L766.1 371.5M757.9 376.7L766.1 376.7M767.3 374.6L786 374.6M786 374.6L804.7 374.6M805.9 371.5L814.1 371.5M805.9 376.7L814.1 376.7M831.7 363.6L817.6 369.9L831.7 375.6M817.6 377.7L831.7 377.7M817.6 380.8L831.7 380.8M12.1 405.8L13.1 406.7M36.3 407.9L55.1 388.7M58.4 391L59.5 392.3M58.4 396.5L58.4 406.9M62.7 396.5L63.7 397.7M62.7 405.8L63.7 406.7M67.1 391L68.2 392.3M67.1 396.5L67.1 406.9M71.4 396.5L72.4 397.7M71.4 405.8L72.4 406.7M75.8 391L76.9 392.3M75.8 396.5L75.8 406.9M80.1 396.5L81.1 397.7M80.1 405.8L81.1 406.7M84.5 391L85.5 392.3M84.5 396.5L84.5 406.9M88.8 396.5L89.8 397.7M88.8 405.8L89.8 406.7M93.2 391L94.2 392.3M93.2 396.5L93.2 406.9M97.4 396.5L98.5 397.7M97.4 405.8L98.5 406.7M101.9 391L102.9 392.3M101.9 396.5L101.9 406.9M106.1 396.5L107.2 397.7M106.1 405.8L107.2 406.7M110.5 391L111.6 392.3M110.5 396.5L110.5 406.9M114.8 396.5L115.9 397.7M114.8 405.8L115.9 406.7M119.2 391L120.3 392.3M119.2 396.5L119.2 406.9M123.5 396.5L124.6 397.7M123.5 405.8L124.6 406.7M127.9 391L129 392.3M127.9 396.5L127.9 406.9M132.2 396.5L133.3 397.7M132.2 405.8L133.3 406.7M136.6 391L137.7 392.3M136.6 396.5L136.6 406.9M140.9 396.5L142 397.7M140.9 405.8L142 406.7M145.3 391L146.4 392.3M145.3 396.5L145.3 406.9M149.6 396.5L150.7 397.7M149.6 405.8L150.7 406.7M158.4 394.9L165.5 402.7M171.5 391.8L183.4 391.8M169.1 405.8L185.7 405.8M190.5 391.8L202.4 391.8M188.1 405.8L204.8 405.8M207.2 407.9L223.8 388.7M272 388.7L270 390.2L270 398.1L268 400.1L270 401.7L270 406.9L272 407.9M273 408.9L289 408.9M289 408.9L305 408.9M305 408.9L321 408.9M321 408.9L337 408.9M338.3 407.9L356.3 388.7M357.6 408.9L378.3 408.9M384.7 388.7L382.1 390.2L382.1 398.1L379.6 400.1L382.1 401.7L382.1 406.9L384.7 407.9M434.1 393.4L441.9 400.1L434.1 404.8M456.1 406.9L462.9 388.7M504.2 406.9L511.5 388.7M518.8 388.7L516.4 388.7L515.1 391.8L515.1 406.9M512.7 396.5L518.8 396.5M552.2 388.7L569 407.9M573.8 391.8L585.8 391.8M571.4 405.8L588.2 405.8M594.2 388.7L591.8 394.9L591.8 403.8L594.2 407.9M596.6 396.5L600.2 390.2L603.8 396.5M755.6 405.8L765.1 390.2L774.7 405.8M777.9 406.9L787.4 388.7M35.6 413.7L33 415.3L33 423.1L30.3 425.2L33 426.7L33 431.9L35.6 432.9M38.9 416L40 417.3M38.9 421.5L38.9 431.9M43.1 421.5L44.2 422.8M43.1 430.9L44.2 431.7M47.5 416L48.5 417.3M47.5 421.5L47.5 431.9M51.7 421.5L52.8 422.8M51.7 430.9L52.8 431.7M56.1 416L57.1 417.3M56.1 421.5L56.1 431.9M60.3 421.5L61.3 422.8M60.3 430.9L61.3 431.7M64.6 416L65.7 417.3M64.6 421.5L64.6 431.9M68.9 421.5L69.9 422.8M68.9 430.9L69.9 431.7M73.2 416L74.3 417.3M73.2 421.5L73.2 431.9M77.4 421.5L78.5 422.8M77.4 430.9L78.5 431.7M81.8 416L82.8 417.3M81.8 421.5L81.8 431.9M86 421.5L87.1 422.8M86 430.9L87.1 431.7M90.4 416L91.4 417.3M90.4 421.5L90.4 431.9M94.6 421.5L95.6 422.8M94.6 430.9L95.6 431.7M98.9 416L100 417.3M98.9 421.5L98.9 431.9M103.2 421.5L104.2 422.8M103.2 430.9L104.2 431.7M107.5 416L108.6 417.3M107.5 421.5L107.5 431.9M111.7 421.5L112.8 422.8M111.7 430.9L112.8 431.7M116.1 416L117.1 417.3M116.1 421.5L116.1 431.9M120.3 421.5L121.4 422.8M120.3 430.9L121.4 431.7M124.7 416L125.7 417.3M124.7 421.5L124.7 431.9M128.9 421.5L129.9 422.8M128.9 430.9L129.9 431.7M133.2 416L134.3 417.3M133.2 421.5L133.2 431.9M137.5 421.5L138.5 422.8M137.5 430.9L138.5 431.7M141.8 416L142.9 417.3M141.8 421.5L141.8 431.9M146 421.5L147.1 422.8M146 430.9L147.1 431.7M150.4 416L151.5 417.3M150.4 421.5L150.4 431.9M154.6 421.5L155.7 422.8M154.6 430.9L155.7 431.7M162.3 418.4L178.4 425.2L162.3 429.8M187.5 413.7L182.9 420M196.7 413.7L192.1 420M305 434L316 434M317.4 415.3L335.4 415.3L328.5 423.1M325.7 420L324.3 426.7L318.8 431.9M340.9 418.4L351.9 418.4M338.1 429.8L354.7 429.8M360.2 416.8L374 416.8M357.5 430.9L376.8 430.9M379.6 413.7L382.3 415.3L382.3 423.1L385.1 425.2L382.3 426.7L382.3 431.9L379.6 432.9M388.5 416L389.6 417.3M388.5 421.5L388.5 431.9M394.1 413.7L394.1 431.9M394.1 423.1L399.6 426.7M403 430.9L404.1 431.7M409.2 429.8L407.9 432.9M414 412.9L433 412.9M441.2 431.9L448.8 413.7M491.4 431.9L499.7 413.7M501.1 434L512.2 434M513.6 413.7L533 432.9M535.8 423.1L538.6 421.5L541.3 425.7L541.3 431.9L540 431.9L541.3 425.7L545.5 420M549.7 421.5L553.8 415.3L558 421.5M560.8 421.5L564.9 415.3L569.1 421.5M571.9 413.7L591.3 432.9M594.1 413.7L596.8 415.3L596.8 423.1L599.6 425.2L596.8 426.7L596.8 431.9L594.1 432.9M777.4 421.5L781.5 415.3L785.6 421.5M12.1 455.9L13.1 456.7M38.4 438.7L52.9 445L38.4 450.7M38.4 452.8L52.9 452.8M38.4 455.9L52.9 455.9M56.5 446.6L64.9 446.6M56.5 451.8L64.9 451.8M66.1 449.7L85.4 449.7M85.4 449.7L104.6 449.7M104.6 449.7L123.9 449.7M125.1 446.6L133.5 446.6M125.1 451.8L133.5 451.8M151.6 438.7L137.1 445L151.6 450.7M137.1 452.8L151.6 452.8M137.1 455.9L151.6 455.9M273.1 456.9L279.9 438.7M282.7 441.1L283.6 442.3M282.7 446.6L282.7 456.9M286.3 446.6L287.3 447.8M286.3 455.9L287.3 456.7M290.1 441.1L291 442.3M290.1 446.6L290.1 456.9M293.7 446.6L294.6 447.8M293.7 455.9L294.6 456.7M297.4 441.1L298.3 442.3M297.4 446.6L297.4 456.9M306.5 438.7L301.9 450.2L306.5 458M312.1 441.9L323.4 441.9M309.8 455.9L325.7 455.9M330.2 441.9L341.5 441.9M327.9 455.9L343.7 455.9M348.3 441.9L359.6 441.9M346 455.9L361.8 455.9M366.3 441.9L377.6 441.9M364.1 455.9L379.9 455.9M382.1 446.6L390.1 446.6M382.1 451.8L390.1 451.8M392.3 455.9L399.1 440.3L405.9 455.9M439.7 454.9L438.4 458M502.7 445L492.4 445L492.4 458M502.7 445L516.3 445M509.5 445L509.5 458M516.3 445L526.6 445L526.6 458M535.7 438.7L559.3 458M573.8 448.1L577.3 446.6L580.9 450.7L580.9 456.9L579.1 456.9L580.9 450.7L586.2 445M591.5 448.1L596.8 441.9L603.9 440.3L611 441.9L616.4 448.1M619.9 438.7L624.3 443.4M271.5 465.3L286.6 482M284.1 465.3L271.5 482M291 466.1L292 467.4M291 471.6L291 482M295.1 471.6L296.1 472.8M295.1 480.9L296.1 481.8M299.2 466.1L300.2 467.4M299.2 471.6L299.2 482M303.3 471.6L304.3 472.8M303.3 480.9L304.3 481.8M307.4 466.1L308.4 467.4M307.4 471.6L307.4 482M311.2 465.3L318.7 480.9L326.3 465.3M331.3 466.9L343.9 466.9M328.8 480.9L346.4 480.9M351.5 466.9L364.1 466.9M349 480.9L366.6 480.9M369.1 483L386.7 463.8M403.3 480.9L411.1 465.3L418.9 480.9M421.4 471.6L425.3 465.3L429.2 471.6M431.8 463.8L435.1 468.5M445.4 478.9L449.5 482M472.8 482L483.2 463.8M504.2 463.8L502.1 465.3L502.1 473.1L500 475.2L502.1 476.8L502.1 482L504.2 483M506.2 466.9L519.7 466.9L513.5 476.8M510.4 474.7L517.6 480.9M521.7 468.5L529 475.2L521.7 479.9M545.3 463.8L539.8 475.2L545.3 483M548.1 484L559.1 484M560.5 482L568.8 463.8M571.6 465.3L579.9 465.3L574.3 482M585.4 466.9L592.3 475.7L584 479.9M597.1 466.1L598.2 467.4M597.1 471.6L597.1 482M602 466.1L603.1 467.4M602 471.6L602 482M606.8 466.1L607.9 467.4M606.8 471.6L606.8 482M611.6 466.1L612.8 467.4M611.6 471.6L611.6 482M616.1 471.6L617.2 472.8M616.1 480.9L617.2 481.8M620.6 463.8L620.6 477.8M620.6 480.9L621.7 481.8M625.5 463.8L628.2 470L628.2 478.9L625.5 483M299.2 498.2L302.9 491.9L307.8 490.4L312.7 491.9L316.3 498.2M318.8 488.8L321.2 495L321.2 503.9L318.8 508M327.3 493.5L337.1 493.5M324.9 504.9L339.5 504.9M344.4 493.5L354.2 493.5M342 504.9L356.6 504.9M359.1 508L376.2 488.8M383.5 488.8L381 490.4L381 498.2L378.6 500.3L381 501.8L381 507L383.5 508M384.7 509.1L404.3 509.1M405.5 506L412.8 490.4L420.1 506M421.4 509.1L431.1 509.1M437.2 509.1L447 509.1M456.7 495L465 502.9M466.4 507L474.8 488.8M477.7 498.2L481.9 491.9L487.5 490.4L493.1 491.9L497.3 498.2M500.2 490.4L508.6 506L517 490.4M525.5 488.8L522.7 490.4L522.7 498.2L519.8 500.3L522.7 501.8L522.7 507L525.5 508M531.1 493.5L542.3 493.5M528.3 504.9L545.2 504.9M553.6 488.8L550.8 490.4L550.8 498.2L548 500.3L550.8 501.8L550.8 507L553.6 508M566.4 486.4L566.4 509.6M587.4 493.5L597.2 500.3L587.4 504.9M600.1 496.6L609.9 496.6M600.1 501.8L609.9 501.8M615.5 490.4L626.8 493.5M615.5 498.2L626.8 500.8M614.1 502.9L628.2 507M323 513.8L320.6 515.4L320.6 523.2L318.2 525.3L320.6 526.8L320.6 532L323 533.1M324.2 534.1L333.7 534.1M334.9 533.1L351.7 513.8M356.5 518.5L366 518.5M354.1 530L368.4 530M373.2 518.5L382.8 518.5M370.8 530L385.2 530M387.6 532L394.7 513.8M399.5 518.5L409.1 518.5M397.1 530L411.5 530M416.3 518.5L425.8 518.5M413.9 530L428.2 530M430.6 532L437.8 513.8M476.2 515.4L483.5 531L490.8 515.4M518.2 520.1L534.6 520.1M529.9 513.8L529.9 532L527.5 531M521.7 524.8L524 527.9M538.1 530L536.9 533.1M546.3 513.8L543.9 515.4L543.9 523.2L541.6 525.3L543.9 526.8L543.9 532L546.3 533.1M548.6 521.6L556.8 521.6M548.6 526.8L556.8 526.8M559.1 513.8L561.5 515.4L561.5 523.2L563.8 525.3L561.5 526.8L561.5 532L559.1 533.1M308.5 557.1L317.2 538.8M320.1 540.4L328.8 540.4L323 557.1M331.7 538.8L334.6 540.4L334.6 548.2L337.5 550.3L334.6 551.9L334.6 557.1L331.7 558.1M341.2 541.2L342.3 542.4M341.2 546.7L341.2 557.1M347 538.8L347 557.1M347 548.2L352.8 551.9M357.2 555L355.7 558.1M363 540.4L380.5 540.4M364.5 549.8L379 549.8M361.5 556L381.9 556M384.8 557.1L393.5 538.8M399.4 543.5L411 543.5M396.5 555L413.9 555M416.8 557.1L425.5 538.8M483.4 540.4L491.5 556L499.7 540.4M502.4 548.2L506.5 542L511.9 540.4L517.4 542L521.5 548.2M524.2 546.7L528.3 540.4L532.3 546.7M535.1 542L552.8 542L544.6 551.9M540.5 549.8L550 556M555.5 546.7L559.6 540.4L563.6 546.7M296.5 582.1L305.5 563.9M308.5 582.1L317.5 563.9M365.2 565.4L380.3 565.4L374.5 573.3M372.2 570.1L371 576.9L366.3 582.1M382.7 571.7L386.2 565.4L389.7 571.7M392 571.7L395.5 565.4L399 571.7M401.3 563.9L404.2 568.6M493.5 565.4L502.2 581.1L511 565.4M515.4 580L513.9 583.1M519.7 568.6L530 575.3L519.7 580M532.9 571.7L543.1 571.7M532.9 576.9L543.1 576.9M548.9 565.4L560.6 568.6M548.9 573.3L560.6 575.9M547.5 577.9L562.1 582.1M286.5 607.1L295.5 588.9M298.5 607.1L307.5 588.9M344.6 608.2L366.4 588.9M505.2 590.5L508.7 606.1L512.2 590.5M515.7 590.5L515.7 606.1M519.8 591.3L520.7 592.5M519.8 596.7L519.8 607.1M523.5 596.7L524.4 598M523.5 606.1L524.4 606.9M527.3 591.3L528.3 592.5M527.3 596.7L527.3 607.1M531.1 596.7L532 598M531.1 606.1L532 606.9M534.9 591.3L535.9 592.5M534.9 596.7L534.9 607.1M538.7 596.7L539.6 598M538.7 606.1L539.6 606.9M542.5 591.3L543.4 592.5M542.5 596.7L542.5 607.1M546.2 596.7L547.2 598M546.2 606.1L547.2 606.9M550.1 591.3L551 592.5M550.1 596.7L550.1 607.1M553.8 596.7L554.8 598M553.8 606.1L554.8 606.9M557.7 591.3L558.6 592.5M557.7 596.7L557.7 607.1M561.2 588.9L563.5 590.5L563.5 598.3L565.8 600.4L563.5 601.9L563.5 607.1L561.2 608.2M275.4 632.1L283.8 613.9M286.6 632.1L295 613.9M300.6 618.6L311.8 618.6M297.8 630.1L314.6 630.1M317.4 615.5L335.6 615.5L328.6 623.3M325.8 620.2L324.4 627L318.8 632.1M516.3 618.6L525.5 625.4L516.3 630.1M528.1 624.9L536 624.9M538.6 621.8L547.7 621.8M538.6 627L547.7 627M562.1 613.9L554.3 620.2M564.8 620.2L553 627M567.4 625.9L551.7 632.1M275.1 643.7L282.8 650.4L275.1 655.1M285 649.9L291.6 649.9M293.8 646.8L301.4 646.8M293.8 652L301.4 652M316.8 639L304.7 652M311.3 645.2L311.3 657.2"/>
<path stroke-width="1.3" d="M11 706.6L12.1 707.8M11 711.7L11 721.3M15.3 711.7L16.3 712.9M15.3 720.4L16.3 721.1M19.7 706.6L20.7 707.8M19.7 711.7L19.7 721.3M23.9 711.7L25 712.9M23.9 720.4L25 721.1M28.3 706.6L29.4 707.8M28.3 711.7L28.3 721.3M32.6 711.7L33.7 712.9M32.6 720.4L33.7 721.1M39.7 704.5L44.1 708.8M50.1 708.8L53.6 712.4M58.8 716.5L62.3 714.6L67.5 716.5L70.9 714.6M74.4 718.4L79.6 721.3M85.7 720.4L87.1 721.1M285.5 710.3L293.1 717.5M362.6 718.4L367.6 721.3M374.4 704.5L372.5 710.3M385.6 718.4L390.5 721.3M395.4 704.5L399.5 708.8M415.4 704.5L412.9 705.9L412.9 713.2L410.3 715.1L412.9 716.5L412.9 721.3L415.4 722.3M416.7 703.7L437.3 703.7M438.6 704.5L441.1 705.9L441.1 713.2L443.7 715.1L441.1 716.5L441.1 721.3L438.6 722.3M446.3 711.7L455.3 711.7M446.3 716.5L455.3 716.5M457.8 711.7L466.8 711.7M457.8 716.5L466.8 716.5M469.4 711.7L478.4 711.7M469.4 716.5L478.4 716.5M480.9 711.7L489.9 711.7M480.9 716.5L489.9 716.5M492.5 711.7L501.5 711.7M492.5 716.5L501.5 716.5M504 711.7L513 711.7M504 716.5L513 716.5M515.6 704.5L518.2 705.9L518.2 713.2L520.7 715.1L518.2 716.5L518.2 721.3L515.6 722.3M523.3 722.3L541.7 704.5M616.4 722.3L636.6 704.5M642.3 707.4L656.8 707.4M639.4 720.4L659.7 720.4M662.6 704.5L665.5 705.9L665.5 713.2L668.4 715.1L665.5 716.5L665.5 721.3L662.6 722.3M672 706.6L673.1 707.8M672 711.7L672 721.3M677.8 704.5L677.8 721.3M677.8 713.2L683.5 716.5M687.9 719.4L686.4 722.3M694.4 702.3L694.4 723.7M699.7 706.6L700.7 707.8M699.7 711.7L699.7 721.3M703.5 711.7L704.4 712.9M703.5 720.4L704.4 721.1M707.3 706.6L708.3 707.8M707.3 711.7L707.3 721.3M711 711.7L712 712.9M711 720.4L712 721.1M714.9 706.6L715.8 707.8M714.9 711.7L714.9 721.3M718.6 711.7L719.5 712.9M718.6 720.4L719.5 721.1M722.5 706.6L723.4 707.8M722.5 711.7L722.5 721.3M726.2 711.7L727.1 712.9M726.2 720.4L727.1 721.1M730 706.6L731 707.8M730 711.7L730 721.3M733.8 711.7L734.7 712.9M733.8 720.4L734.7 721.1M737.6 706.6L738.5 707.8M737.6 711.7L737.6 721.3M741.3 711.7L742.3 712.9M741.3 720.4L742.3 721.1M745.2 706.6L746.1 707.8M745.2 711.7L745.2 721.3M748.9 711.7L749.8 712.9M748.9 720.4L749.8 721.1M752.4 722.3L771.6 704.5M776.8 706.6L777.7 707.8M776.8 711.7L776.8 721.3M780.5 711.7L781.5 712.9M780.5 720.4L781.5 721.1M784.4 706.6L785.4 707.8M784.4 711.7L784.4 721.3M788.2 711.7L789.2 712.9M788.2 720.4L789.2 721.1M792.1 706.6L793 707.8M792.1 711.7L792.1 721.3M795.9 711.7L796.8 712.9M795.9 720.4L796.8 721.1M799.8 706.6L800.7 707.8M799.8 711.7L799.8 721.3M803.5 711.7L804.5 712.9M803.5 720.4L804.5 721.1M807.4 706.6L808.4 707.8M807.4 711.7L807.4 721.3M811.2 711.7L812.2 712.9M811.2 720.4L812.2 721.1M815.1 706.6L816 707.8M815.1 711.7L815.1 721.3M818.9 711.7L819.8 712.9M818.9 720.4L819.8 721.1M822.8 706.6L823.7 707.8M822.8 711.7L822.8 721.3M826.5 711.7L827.5 712.9M826.5 720.4L827.5 721.1M830.4 706.6L831.4 707.8M830.4 711.7L830.4 721.3M834.2 711.7L835.2 712.9M834.2 720.4L835.2 721.1M838.1 706.6L839 707.8M838.1 711.7L838.1 721.3M841.9 711.7L842.8 712.9M841.9 720.4L842.8 721.1M845.8 706.6L846.7 707.8M845.8 711.7L845.8 721.3M849.5 711.7L850.5 712.9M849.5 720.4L850.5 721.1M853.4 706.6L854.4 707.8M853.4 711.7L853.4 721.3M857.2 711.7L858.2 712.9M857.2 720.4L858.2 721.1M861.1 706.6L862 707.8M861.1 711.7L861.1 721.3M864.9 711.7L865.8 712.9M864.9 720.4L865.8 721.1M871.9 708.8L885.1 715.1L871.9 719.4M10.8 729.6L11.8 730.8M10.8 734.7L10.8 744.3M14.7 734.7L15.7 735.9M14.7 743.4L15.7 744.1M18.7 729.6L19.7 730.8M18.7 734.7L18.7 744.3M22.6 734.7L23.6 735.9M22.6 743.4L23.6 744.1M26.6 729.6L27.6 730.8M26.6 734.7L26.6 744.3M30.5 734.7L31.5 735.9M30.5 743.4L31.5 744.1M34.5 729.6L35.5 730.8M34.5 734.7L34.5 744.3M38.4 734.7L39.4 735.9M38.4 743.4L39.4 744.1M42.4 729.6L43.4 730.8M42.4 734.7L42.4 744.3M46.3 734.7L47.3 735.9M46.3 743.4L47.3 744.1M50.3 729.6L51.3 730.8M50.3 734.7L50.3 744.3M54.2 734.7L55.2 735.9M54.2 743.4L55.2 744.1M58.2 729.6L59.2 730.8M58.2 734.7L58.2 744.3M62.1 734.7L63.1 735.9M62.1 743.4L63.1 744.1M66.1 729.6L67.1 730.8M66.1 734.7L66.1 744.3M70 734.7L71 735.9M70 743.4L71 744.1M74 729.6L75 730.8M74 734.7L74 744.3M77.9 734.7L78.9 735.9M77.9 743.4L78.9 744.1M81.9 729.6L82.9 730.8M81.9 734.7L81.9 744.3M85.8 734.7L86.8 735.9M85.8 743.4L86.8 744.1M94.4 731.8L97.7 735.4M104.4 736.2L107.8 739M112.8 739.5L116.2 737.6L121.2 739.5L124.5 737.6M127.9 741.4L132.9 744.3M138.8 743.4L140.1 744.1M301 727.5L315 745.3M317 741.4L320 744.3M353.3 731.8L341.7 738.1L353.3 742.4M403.9 745.3L416.8 727.5M420.4 731.8L427.8 731.8M418.6 742.4L429.6 742.4M433.3 731.8L440.6 731.8M431.5 742.4L442.5 742.4M444.3 743.4L449.8 728.9L455.3 743.4M459 730.4L468.2 730.4M457.2 743.4L470 743.4M473.7 730.4L482.9 730.4M471.9 743.4L484.7 743.4M488.4 730.4L497.6 730.4M486.5 743.4L499.4 743.4M501.2 745.3L514.1 727.5M591.3 745.3L610 727.5M615.3 730.4L628.7 730.4M612.7 743.4L631.3 743.4M636.7 730.4L650 730.4M634 743.4L652.7 743.4M694.3 727.5L697 728.9L697 736.2L699.6 738.1L697 739.5L697 744.3L694.3 745.3M702.9 729.6L704 730.8M702.9 734.7L702.9 744.3M708.2 727.5L708.2 744.3M708.2 736.2L713.5 739.5M716.8 743.4L717.9 744.1M722.1 729.6L723.2 730.8M722.1 734.7L722.1 744.3M726.8 729.6L727.8 730.8M726.8 734.7L726.8 744.3M730.7 744.3L738.7 727.5M741.9 729.6L742.9 730.8M741.9 734.7L741.9 744.3M745.9 734.7L746.9 735.9M745.9 743.4L746.9 744.1M750.1 729.6L751.1 730.8M750.1 734.7L750.1 744.3M754.1 734.7L755.1 735.9M754.1 743.4L755.1 744.1M758.3 729.6L759.3 730.8M758.3 734.7L758.3 744.3M762.3 734.7L763.3 735.9M762.3 743.4L763.3 744.1M766.4 729.6L767.4 730.8M766.4 734.7L766.4 744.3M770.5 734.7L771.5 735.9M770.5 743.4L771.5 744.1M774.6 729.6L775.6 730.8M774.6 734.7L774.6 744.3M778.6 734.7L779.7 735.9M778.6 743.4L779.7 744.1M782.8 729.6L783.8 730.8M782.8 734.7L782.8 744.3M786.8 734.7L787.8 735.9M786.8 743.4L787.8 744.1M791 729.6L792 730.8M791 734.7L791 744.3M795 734.7L796 735.9M795 743.4L796 744.1M799.2 729.6L800.2 730.8M799.2 734.7L799.2 744.3M803.2 734.7L804.2 735.9M803.2 743.4L804.2 744.1M807.3 729.6L808.3 730.8M807.3 734.7L807.3 744.3M811.4 734.7L812.4 735.9M811.4 743.4L812.4 744.1M815.5 729.6L816.5 730.8M815.5 734.7L815.5 744.3M819.6 734.7L820.6 735.9M819.6 743.4L820.6 744.1M823.7 729.6L824.7 730.8M823.7 734.7L823.7 744.3M827.7 734.7L828.7 735.9M827.7 743.4L828.7 744.1M832.6 731.8L844.2 738.1L832.6 742.4M850.8 727.5L847.5 733.3M857.4 727.5L854.1 733.3M866.2 737.6L873.3 737.6M874.5 746.2L884 746.2M885.2 737.6L892.3 737.6M893.5 746.2L903 746.2M10.8 752.6L11.8 753.8M10.8 757.7L10.8 767.3M14.7 757.7L15.7 758.9M14.7 766.4L15.7 767.1M18.7 752.6L19.7 753.8M18.7 757.7L18.7 767.3M22.6 757.7L23.6 758.9M22.6 766.4L23.6 767.1M26.6 752.6L27.6 753.8M26.6 757.7L26.6 767.3M30.5 757.7L31.4 758.9M30.5 766.4L31.4 767.1M34.5 752.6L35.4 753.8M34.5 757.7L34.5 767.3M38.3 757.7L39.3 758.9M38.3 766.4L39.3 767.1M42.3 752.6L43.3 753.8M42.3 757.7L42.3 767.3M46.2 757.7L47.2 758.9M46.2 766.4L47.2 767.1M50.2 752.6L51.2 753.8M50.2 757.7L50.2 767.3M54.1 757.7L55.1 758.9M54.1 766.4L55.1 767.1M58.1 752.6L59.1 753.8M58.1 757.7L58.1 767.3M62 757.7L63 758.9M62 766.4L63 767.1M66 752.6L67 753.8M66 757.7L66 767.3M69.9 757.7L70.8 758.9M69.9 766.4L70.8 767.1M73.9 752.6L74.8 753.8M73.9 757.7L73.9 767.3M77.8 757.7L78.7 758.9M77.8 766.4L78.7 767.1M81.8 752.6L82.7 753.8M81.8 757.7L81.8 767.3M85.6 757.7L86.6 758.9M85.6 766.4L86.6 767.1M89.6 752.6L90.6 753.8M89.6 757.7L89.6 767.3M93.5 757.7L94.5 758.9M93.5 766.4L94.5 767.1M97.5 752.6L98.5 753.8M97.5 757.7L97.5 767.3M101.4 757.7L102.4 758.9M101.4 766.4L102.4 767.1M105.4 752.6L106.4 753.8M105.4 757.7L105.4 767.3M109.3 757.7L110.3 758.9M109.3 766.4L110.3 767.1M113.3 752.6L114.3 753.8M113.3 757.7L113.3 767.3M117.2 757.7L118.1 758.9M117.2 766.4L118.1 767.1M121.2 752.6L122.1 753.8M121.2 757.7L121.2 767.3M125.1 757.7L126 758.9M125.1 766.4L126 767.1M129.1 752.6L130 753.8M129.1 757.7L129.1 767.3M132.9 757.7L133.9 758.9M132.9 766.4L133.9 767.1M136.9 752.6L137.9 753.8M136.9 757.7L136.9 767.3M140.8 757.7L141.8 758.9M140.8 766.4L141.8 767.1M150.3 754.8L153.6 758.4M160.2 759.2L163.5 762M168.4 762.5L171.7 760.6L176.6 762.5L179.9 760.6M183.2 764.4L188.1 767.3M193.9 766.4L195.2 767.1M325.3 750.5L343 768.3M370.3 750.5L372.8 751.9L372.8 759.2L375.4 761.1L372.8 762.5L372.8 767.3L370.3 768.3M378.5 752.6L379.5 753.8M378.5 757.7L378.5 767.3M383.6 750.5L383.6 767.3M383.6 759.2L388.7 762.5M392.5 765.4L391.2 768.3M401.4 750.5L398.8 751.9L398.8 759.2L396.3 761.1L398.8 762.5L398.8 767.3L401.4 768.3M406.5 754.8L416.6 754.8M403.9 765.4L419.2 765.4M424.3 754.8L434.4 754.8M421.7 765.4L437 765.4M439.5 757.7L448.4 757.7M439.5 762.5L448.4 762.5M450.9 750.5L453.5 751.9L453.5 759.2L456 761.1L453.5 762.5L453.5 767.3L450.9 768.3M461.1 753.4L473.8 753.4M458.5 766.4L476.3 766.4M481.4 754.8L491.6 754.8M478.9 765.4L494.1 765.4M501.7 750.5L499.2 751.9L499.2 759.2L496.6 761.1L499.2 762.5L499.2 767.3L501.7 768.3M578.1 756.3L569.4 763.5M575.2 760.6L575.2 767.3M581.7 752.6L582.9 753.8M581.7 757.7L581.7 767.3M590.4 750.5L587.5 750.5L587.5 768.3L590.4 768.3M593.3 768.3L613.6 750.5M619.2 753.4L633.2 753.4M616.4 766.4L636 766.4M638.8 757.7L648.6 757.7M638.8 762.5L648.6 762.5M651.4 760.6L659.9 760.6M662.7 750.5L665.5 751.9L665.5 759.2L668.3 761.1L665.5 762.5L665.5 767.3L662.7 768.3M671.8 752.6L672.9 753.8M671.8 757.7L671.8 767.3M677.4 750.5L677.4 767.3M677.4 759.2L683 762.5M687.2 765.4L685.8 768.3M695.9 753.4L709 753.4M693.3 766.4L711.6 766.4M714.2 757.7L723.4 757.7M714.2 762.5L723.4 762.5M726 766.4L733.8 751.9L741.7 766.4M744.8 752.6L745.7 753.8M744.8 757.7L744.8 767.3M748.5 757.7L749.5 758.9M748.5 766.4L749.5 767.1M752.4 752.6L753.4 753.8M752.4 757.7L752.4 767.3M756.2 757.7L757.2 758.9M756.2 766.4L757.2 767.1M760.1 752.6L761 753.8M760.1 757.7L760.1 767.3M763.9 757.7L764.8 758.9M763.9 766.4L764.8 767.1M767.8 752.6L768.7 753.8M767.8 757.7L767.8 767.3M771.5 757.7L772.5 758.9M771.5 766.4L772.5 767.1M775.4 752.6L776.4 753.8M775.4 757.7L775.4 767.3M779.2 757.7L780.2 758.9M779.2 766.4L780.2 767.1M783.1 752.6L784 753.8M783.1 757.7L783.1 767.3M786.9 757.7L787.8 758.9M786.9 766.4L787.8 767.1M790.8 752.6L791.7 753.8M790.8 757.7L790.8 767.3M794.5 757.7L795.5 758.9M794.5 766.4L795.5 767.1M798.4 752.6L799.4 753.8M798.4 757.7L798.4 767.3M802.2 757.7L803.2 758.9M802.2 766.4L803.2 767.1M806.1 752.6L807 753.8M806.1 757.7L806.1 767.3M809.9 757.7L810.8 758.9M809.9 766.4L810.8 767.1M811.6 761.6L813.4 767.3L818.8 750.5M819.4 749.7L829 749.7M831.1 760.6L837.4 760.6M838.4 769.2L846.9 769.2M847.9 760.6L854.3 760.6M855.3 769.2L863.8 769.2M864.8 760.6L871.2 760.6M872.2 769.2L880.7 769.2M881.7 760.6L888.1 760.6M889.1 769.2L897.6 769.2M898.6 760.6L904.9 760.6M10.8 775.6L11.7 776.8M10.8 780.7L10.8 790.3M14.6 780.7L15.6 781.9M14.6 789.4L15.6 790.1M18.6 775.6L19.5 776.8M18.6 780.7L18.6 790.3M22.4 780.7L23.3 781.9M22.4 789.4L23.3 790.1M26.3 775.6L27.3 776.8M26.3 780.7L26.3 790.3M30.1 780.7L31.1 781.9M30.1 789.4L31.1 790.1M34.1 775.6L35 776.8M34.1 780.7L34.1 790.3M37.9 780.7L38.8 781.9M37.9 789.4L38.8 790.1M41.8 775.6L42.8 776.8M41.8 780.7L41.8 790.3M45.7 780.7L46.6 781.9M45.7 789.4L46.6 790.1M49.6 775.6L50.5 776.8M49.6 780.7L49.6 790.3M53.4 780.7L54.4 781.9M53.4 789.4L54.4 790.1M57.4 775.6L58.3 776.8M57.4 780.7L57.4 790.3M61.2 780.7L62.1 781.9M61.2 789.4L62.1 790.1M65.1 775.6L66.1 776.8M65.1 780.7L65.1 790.3M68.9 780.7L69.9 781.9M68.9 789.4L69.9 790.1M72.9 775.6L73.8 776.8M72.9 780.7L72.9 790.3M76.7 780.7L77.6 781.9M76.7 789.4L77.6 790.1M80.6 775.6L81.6 776.8M80.6 780.7L80.6 790.3M84.5 780.7L85.4 781.9M84.5 789.4L85.4 790.1M88.4 775.6L89.3 776.8M88.4 780.7L88.4 790.3M92.2 780.7L93.2 781.9M92.2 789.4L93.2 790.1M96.2 775.6L97.1 776.8M96.2 780.7L96.2 790.3M100 780.7L100.9 781.9M100 789.4L100.9 790.1M103.9 775.6L104.9 776.8M103.9 780.7L103.9 790.3M107.7 780.7L108.7 781.9M107.7 789.4L108.7 790.1M111.7 775.6L112.6 776.8M111.7 780.7L111.7 790.3M115.5 780.7L116.4 781.9M115.5 789.4L116.4 790.1M119.4 775.6L120.4 776.8M119.4 780.7L119.4 790.3M123.3 780.7L124.2 781.9M123.3 789.4L124.2 790.1M127.2 775.6L128.1 776.8M127.2 780.7L127.2 790.3M131 780.7L132 781.9M131 789.4L132 790.1M135 775.6L135.9 776.8M135 780.7L135 790.3M138.8 780.7L139.7 781.9M138.8 789.4L139.7 790.1M142.7 775.6L143.7 776.8M142.7 780.7L142.7 790.3M146.5 780.7L147.5 781.9M146.5 789.4L147.5 790.1M150.5 775.6L151.4 776.8M150.5 780.7L150.5 790.3M154.3 780.7L155.2 781.9M154.3 789.4L155.2 790.1M158.2 775.6L159.2 776.8M158.2 780.7L158.2 790.3M162.1 780.7L163 781.9M162.1 789.4L163 790.1M166 775.6L166.9 776.8M166 780.7L166 790.3M169.8 780.7L170.8 781.9M169.8 789.4L170.8 790.1M173.8 775.6L174.7 776.8M173.8 780.7L173.8 790.3M177.6 780.7L178.5 781.9M177.6 789.4L178.5 790.1M181.5 775.6L182.5 776.8M181.5 780.7L181.5 790.3M185.3 780.7L186.3 781.9M185.3 789.4L186.3 790.1M189.3 775.6L190.2 776.8M189.3 780.7L189.3 790.3M193.1 780.7L194 781.9M193.1 789.4L194 790.1M197 775.6L198 776.8M197 780.7L197 790.3M200.9 780.7L201.8 781.9M200.9 789.4L201.8 790.1M204.6 773.5L207.9 774.9L207.9 782.2L211.2 784.1L207.9 785.5L207.9 790.3L204.6 791.3M215.4 775.6L216.7 776.8M215.4 780.7L215.4 790.3M222 773.5L222 790.3M222 782.2L228.6 785.5M232.7 789.4L234 790.1M239.3 789.4L240.6 790.1M245.9 789.4L247.2 790.1M347.3 773.5L365 791.3M399.9 775.6L400.8 776.8M399.9 780.7L399.9 790.3M405.4 771.3L405.4 792.7M412.2 776.4L424.5 776.4M409.7 789.4L427 789.4M432 776.4L444.3 776.4M429.5 789.4L446.8 789.4M456.9 771.3L456.9 792.7M463.1 776.4L474.6 776.4M460.9 789.4L476.9 789.4M481.4 776.4L492.9 776.4M479.1 789.4L495.1 789.4M499.1 771.3L499.1 792.7M529.5 788.4L527.8 791.3M545.3 779.3L534.8 786.5M541.8 783.6L541.8 790.3M549.7 775.6L551.1 776.8M549.7 780.7L549.7 790.3M560.2 773.5L556.7 773.5L556.7 791.3L560.2 791.3M564.8 777.8L572.3 777.8M562.9 788.4L574.1 788.4M576 791.3L589.1 773.5M597.1 776.4L607.3 776.4M595 789.4L609.3 789.4M613.4 776.4L623.6 776.4M611.4 789.4L625.6 789.4M629.7 776.4L639.9 776.4M627.7 789.4L642 789.4M646.1 776.4L656.3 776.4M644 789.4L658.3 789.4M662.4 776.4L672.6 776.4M660.3 789.4L674.6 789.4M676.7 780.7L683.8 780.7M676.7 785.5L683.8 785.5M685.9 783.6L692 783.6M694.2 773.5L697.2 777.8M700.1 779.3L716.8 779.3M712 773.5L712 790.3L709.6 789.4M703.7 783.6L706.1 786.5M721.5 776.4L733.4 776.4M719.2 789.4L735.8 789.4M744.4 773.5L763.6 791.3M766.7 775.6L767.6 776.8M766.7 780.7L766.7 790.3M770.3 780.7L771.2 781.9M770.3 789.4L771.2 790.1M774.1 775.6L775 776.8M774.1 780.7L774.1 790.3M777.7 780.7L778.6 781.9M777.7 789.4L778.6 790.1M781.5 775.6L782.4 776.8M781.5 780.7L781.5 790.3M785.1 780.7L786 781.9M785.1 789.4L786 790.1M788.9 775.6L789.8 776.8M788.9 780.7L788.9 790.3M792.5 780.7L793.4 781.9M792.5 789.4L793.4 790.1M796.2 775.6L797.2 776.8M796.2 780.7L796.2 790.3M799.9 780.7L800.8 781.9M799.9 789.4L800.8 790.1M803.6 775.6L804.5 776.8M803.6 780.7L803.6 790.3M807.3 780.7L808.2 781.9M807.3 789.4L808.2 790.1M812.2 771.3L812.2 792.7M816 783.6L821.9 783.6M822.8 792.2L830.7 792.2M831.6 783.6L837.5 783.6M838.5 792.2L846.3 792.2M847.3 783.6L853.2 783.6M854.2 792.2L862 792.2M863 783.6L868.9 783.6M869.8 792.2L877.7 792.2M878.6 783.6L884.5 783.6M885.5 792.2L893.3 792.2M894.3 783.6L900.2 783.6M901.2 792.2L909 792.2M10.8 798.6L11.8 799.8M10.8 803.7L10.8 813.3M14.7 803.7L15.6 804.9M14.7 812.4L15.6 813.1M18.6 798.6L19.6 799.8M18.6 803.7L18.6 813.3M22.5 803.7L23.5 804.9M22.5 812.4L23.5 813.1M26.5 798.6L27.4 799.8M26.5 803.7L26.5 813.3M30.3 803.7L31.3 804.9M30.3 812.4L31.3 813.1M34.3 798.6L35.3 799.8M34.3 803.7L34.3 813.3M38.2 803.7L39.1 804.9M38.2 812.4L39.1 813.1M42.1 798.6L43.1 799.8M42.1 803.7L42.1 813.3M46 803.7L47 804.9M46 812.4L47 813.1M50 798.6L50.9 799.8M50 803.7L50 813.3M53.8 803.7L54.8 804.9M53.8 812.4L54.8 813.1M57.8 798.6L58.8 799.8M57.8 803.7L57.8 813.3M61.7 803.7L62.6 804.9M61.7 812.4L62.6 813.1M65.6 798.6L66.6 799.8M65.6 803.7L65.6 813.3M69.5 803.7L70.5 804.9M69.5 812.4L70.5 813.1M73.5 798.6L74.4 799.8M73.5 803.7L73.5 813.3M77.3 803.7L78.3 804.9M77.3 812.4L78.3 813.1M81.3 798.6L82.3 799.8M81.3 803.7L81.3 813.3M85.2 803.7L86.1 804.9M85.2 812.4L86.1 813.1M89.1 798.6L90.1 799.8M89.1 803.7L89.1 813.3M93 803.7L94 804.9M93 812.4L94 813.1M97 798.6L97.9 799.8M97 803.7L97 813.3M100.8 803.7L101.8 804.9M100.8 812.4L101.8 813.1M104.8 798.6L105.8 799.8M104.8 803.7L104.8 813.3M108.7 803.7L109.6 804.9M108.7 812.4L109.6 813.1M112.6 798.6L113.6 799.8M112.6 803.7L112.6 813.3M116.5 803.7L117.5 804.9M116.5 812.4L117.5 813.1M120.5 798.6L121.4 799.8M120.5 803.7L120.5 813.3M124.3 803.7L125.3 804.9M124.3 812.4L125.3 813.1M128.3 798.6L129.3 799.8M128.3 803.7L128.3 813.3M132.2 803.7L133.1 804.9M132.2 812.4L133.1 813.1M136.1 798.6L137.1 799.8M136.1 803.7L136.1 813.3M140 803.7L141 804.9M140 812.4L141 813.1M144 798.6L144.9 799.8M144 803.7L144 813.3M147.8 803.7L148.8 804.9M147.8 812.4L148.8 813.1M151.8 798.6L152.8 799.8M151.8 803.7L151.8 813.3M155.7 803.7L156.6 804.9M155.7 812.4L156.6 813.1M159.6 798.6L160.6 799.8M159.6 803.7L159.6 813.3M163.5 803.7L164.5 804.9M163.5 812.4L164.5 813.1M167.5 798.6L168.4 799.8M167.5 803.7L167.5 813.3M171.3 803.7L172.3 804.9M171.3 812.4L172.3 813.1M175.3 798.6L176.3 799.8M175.3 803.7L175.3 813.3M179.2 803.7L180.1 804.9M179.2 812.4L180.1 813.1M183.1 798.6L184.1 799.8M183.1 803.7L183.1 813.3M187 803.7L188 804.9M187 812.4L188 813.1M191 798.6L191.9 799.8M191 803.7L191 813.3M194.8 803.7L195.8 804.9M194.8 812.4L195.8 813.1M198.8 798.6L199.8 799.8M198.8 803.7L198.8 813.3M202.7 803.7L203.6 804.9M202.7 812.4L203.6 813.1M206.6 798.6L207.6 799.8M206.6 803.7L206.6 813.3M210.5 803.7L211.5 804.9M210.5 812.4L211.5 813.1M214.5 798.6L215.4 799.8M214.5 803.7L214.5 813.3M218.3 803.7L219.3 804.9M218.3 812.4L219.3 813.1M222.3 798.6L223.3 799.8M222.3 803.7L222.3 813.3M226.2 803.7L227.1 804.9M226.2 812.4L227.1 813.1M230.1 798.6L231.1 799.8M230.1 803.7L230.1 813.3M234 803.7L235 804.9M234 812.4L235 813.1M238 798.6L238.9 799.8M238 803.7L238 813.3M241.8 803.7L242.8 804.9M241.8 812.4L242.8 813.1M245.5 796.5L248.4 797.9L248.4 805.2L251.3 807.1L248.4 808.5L248.4 813.3L245.5 814.3M255 798.6L256.2 799.8M255 803.7L255 813.3M260.9 796.5L260.9 813.3M260.9 805.2L266.8 808.5M270.4 812.4L271.6 813.1M277.1 811.4L275.6 814.3M370.5 802.3L378.1 809.5M404.9 794.3L404.9 815.7M411.3 800.8L420.6 800.8M409 811.4L422.9 811.4M425.3 803.7L433.4 803.7M425.3 808.5L433.4 808.5M435.7 806.6L442.7 806.6M445.1 799.4L453.2 799.4L449.7 805.2M448.5 803.7L448.5 808.5L445.1 812.4M456.7 802.3L463.7 809.5M469.8 799.4L482.5 799.4M467.3 812.4L485 812.4M487.6 803.7L496.4 803.7M487.6 808.5L496.4 808.5M500.2 797.9L515.5 813.3M512.9 797.9L500.2 813.3M521.8 799.4L534.5 799.4M519.3 812.4L537 812.4M542.1 799.4L554.8 799.4M539.6 812.4L557.3 812.4M559.9 803.7L568.7 803.7M559.9 808.5L568.7 808.5M574.8 796.5L572.4 796.5L572.4 814.3L574.8 814.3M579.5 799.4L591.4 799.4M577.1 812.4L593.8 812.4M598.5 799.4L610.4 799.4M596.2 812.4L612.8 812.4M617.6 799.4L629.4 799.4M615.2 812.4L631.8 812.4M636.6 799.4L648.5 799.4M634.2 812.4L650.9 812.4M655.6 799.4L667.5 799.4M653.2 812.4L669.9 812.4M674.6 799.4L686.5 799.4M672.3 812.4L688.9 812.4M693.7 799.4L705.5 799.4M691.3 812.4L707.9 812.4M713.9 800.8L710.3 810.4M716.2 800.8L719.8 810.4M724.2 796.5L741.8 814.3M747.9 799.4L761.1 799.4M745.3 812.4L763.7 812.4M769.1 796.5L784.9 814.3M788 798.6L789.1 799.8M788 803.7L788 813.3M792.3 803.7L793.4 804.9M792.3 812.4L793.4 813.1M796.8 798.6L797.9 799.8M796.8 803.7L796.8 813.3M801.1 803.7L802.2 804.9M801.1 812.4L802.2 813.1M805.6 798.6L806.6 799.8M805.6 803.7L805.6 813.3M811.6 794.3L811.6 815.7M816 806.6L821.9 806.6M822.8 815.2L830.7 815.2M831.6 806.6L837.5 806.6M838.5 815.2L846.3 815.2M847.3 806.6L853.2 806.6M854.2 815.2L862 815.2M863 806.6L868.9 806.6M869.8 815.2L877.7 815.2M878.6 806.6L884.5 806.6M885.5 815.2L893.3 815.2M894.3 806.6L900.2 806.6M901.2 815.2L909 815.2M10.8 821.6L11.8 822.8M10.8 826.7L10.8 836.3M14.7 826.7L15.7 827.9M14.7 835.4L15.7 836.1M18.8 821.6L19.8 822.8M18.8 826.7L18.8 836.3M22.7 826.7L23.7 827.9M22.7 835.4L23.7 836.1M26.7 821.6L27.7 822.8M26.7 826.7L26.7 836.3M30.6 826.7L31.6 827.9M30.6 835.4L31.6 836.1M34.7 821.6L35.6 822.8M34.7 826.7L34.7 836.3M38.6 826.7L39.5 827.9M38.6 835.4L39.5 836.1M42.6 821.6L43.6 822.8M42.6 826.7L42.6 836.3M46.5 826.7L47.5 827.9M46.5 835.4L47.5 836.1M50.5 821.6L51.5 822.8M50.5 826.7L50.5 836.3M54.5 826.7L55.4 827.9M54.5 835.4L55.4 836.1M58.5 821.6L59.5 822.8M58.5 826.7L58.5 836.3M62.4 826.7L63.4 827.9M62.4 835.4L63.4 836.1M66.4 821.6L67.4 822.8M66.4 826.7L66.4 836.3M70.3 826.7L71.3 827.9M70.3 835.4L71.3 836.1M74.4 821.6L75.4 822.8M74.4 826.7L74.4 836.3M78.3 826.7L79.3 827.9M78.3 835.4L79.3 836.1M82.3 821.6L83.3 822.8M82.3 826.7L82.3 836.3M86.2 826.7L87.2 827.9M86.2 835.4L87.2 836.1M90.3 821.6L91.2 822.8M90.3 826.7L90.3 836.3M94.2 826.7L95.1 827.9M94.2 835.4L95.1 836.1M98.2 821.6L99.2 822.8M98.2 826.7L98.2 836.3M102.1 826.7L103.1 827.9M102.1 835.4L103.1 836.1M106.1 821.6L107.1 822.8M106.1 826.7L106.1 836.3M110.1 826.7L111 827.9M110.1 835.4L111 836.1M114.1 821.6L115.1 822.8M114.1 826.7L114.1 836.3M118 826.7L119 827.9M118 835.4L119 836.1M122 821.6L123 822.8M122 826.7L122 836.3M125.9 826.7L126.9 827.9M125.9 835.4L126.9 836.1M130 821.6L131 822.8M130 826.7L130 836.3M133.9 826.7L134.9 827.9M133.9 835.4L134.9 836.1M137.9 821.6L138.9 822.8M137.9 826.7L137.9 836.3M141.8 826.7L142.8 827.9M141.8 835.4L142.8 836.1M145.9 821.6L146.8 822.8M145.9 826.7L145.9 836.3M149.8 826.7L150.7 827.9M149.8 835.4L150.7 836.1M153.8 821.6L154.8 822.8M153.8 826.7L153.8 836.3M157.7 826.7L158.7 827.9M157.7 835.4L158.7 836.1M161.7 821.6L162.7 822.8M161.7 826.7L161.7 836.3M165.7 826.7L166.6 827.9M165.7 835.4L166.6 836.1M169.7 821.6L170.7 822.8M169.7 826.7L169.7 836.3M173.6 826.7L174.6 827.9M173.6 835.4L174.6 836.1M177.6 821.6L178.6 822.8M177.6 826.7L177.6 836.3M181.5 826.7L182.5 827.9M181.5 835.4L182.5 836.1M185.6 821.6L186.6 822.8M185.6 826.7L185.6 836.3M189.5 826.7L190.5 827.9M189.5 835.4L190.5 836.1M193.5 821.6L194.5 822.8M193.5 826.7L193.5 836.3M197.4 826.7L198.4 827.9M197.4 835.4L198.4 836.1M201.5 821.6L202.4 822.8M201.5 826.7L201.5 836.3M205.4 826.7L206.3 827.9M205.4 835.4L206.3 836.1M209.4 821.6L210.4 822.8M209.4 826.7L209.4 836.3M213.3 826.7L214.3 827.9M213.3 835.4L214.3 836.1M217.3 821.6L218.3 822.8M217.3 826.7L217.3 836.3M221.3 826.7L222.2 827.9M221.3 835.4L222.2 836.1M225.3 821.6L226.3 822.8M225.3 826.7L225.3 836.3M229.2 826.7L230.2 827.9M229.2 835.4L230.2 836.1M233.2 821.6L234.2 822.8M233.2 826.7L233.2 836.3M237.1 826.7L238.1 827.9M237.1 835.4L238.1 836.1M241.2 821.6L242.2 822.8M241.2 826.7L241.2 836.3M245.1 826.7L246.1 827.9M245.1 835.4L246.1 836.1M249.1 821.6L250.1 822.8M249.1 826.7L249.1 836.3M253 826.7L254 827.9M253 835.4L254 836.1M257.1 821.6L258 822.8M257.1 826.7L257.1 836.3M261 826.7L261.9 827.9M261 835.4L261.9 836.1M265 821.6L266 822.8M265 826.7L265 836.3M268.9 826.7L269.9 827.9M268.9 835.4L269.9 836.1M272.9 821.6L273.9 822.8M272.9 826.7L272.9 836.3M276.9 826.7L277.8 827.9M276.9 835.4L277.8 836.1M280.9 821.6L281.9 822.8M280.9 826.7L280.9 836.3M284.8 826.7L285.8 827.9M284.8 835.4L285.8 836.1M288.2 819.5L290.7 820.9L290.7 828.2L293.1 830.1L290.7 831.5L290.7 836.3L288.2 837.3M296.2 821.6L297.2 822.8M296.2 826.7L296.2 836.3M301.1 819.5L301.1 836.3M301.1 828.2L306 831.5M309.1 835.4L310.1 836.1M314 835.4L315 836.1M319.5 834.4L318.3 837.3M391.3 819.5L409 837.3M409.4 819.5L413 823.8M426.6 823.8L416.6 830.1L426.6 834.4M430.9 822.4L440.5 822.4M429 835.4L442.4 835.4M446.2 822.4L455.8 822.4M444.3 835.4L457.7 835.4M461.5 822.4L471.1 822.4M459.6 835.4L473 835.4M475.4 819.5L494.6 837.3M499.2 822.4L510.1 822.4M497.1 835.4L512.2 835.4M514.4 836.3L520.9 819.5M523.4 826.7L533.2 826.7M523.4 831.5L533.2 831.5M536 826.7L545.7 826.7M536 831.5L545.7 831.5M548.5 826.7L558.3 826.7M548.5 831.5L558.3 831.5M561.1 826.7L570.9 826.7M561.1 831.5L570.9 831.5M573.7 826.7L583.5 826.7M573.7 831.5L583.5 831.5M586.3 826.7L596 826.7M586.3 831.5L596 831.5M608.6 823.8L598.8 830.1L608.6 834.4M611.4 819.5L614.1 820.9L614.1 828.2L616.8 830.1L614.1 831.5L614.1 836.3L611.4 837.3M620.2 821.6L621.3 822.8M620.2 826.7L620.2 836.3M625.7 819.5L625.7 836.3M625.7 828.2L631.2 831.5M635.3 834.4L633.9 837.3M641.1 822.4L651.3 822.4M639 835.4L653.4 835.4M657.5 822.4L667.7 822.4M655.4 835.4L669.8 835.4M673.9 822.4L684.1 822.4M671.8 835.4L686.2 835.4M690.3 822.4L700.5 822.4M688.2 835.4L702.6 835.4M704.6 826.7L711.8 826.7M704.6 831.5L711.8 831.5M713.8 829.6L720 829.6M722.4 819.5L725.3 820.9L725.3 828.2L728.1 830.1L725.3 831.5L725.3 836.3L722.4 837.3M731.7 821.6L732.8 822.8M731.7 826.7L731.7 836.3M736.6 821.6L737.8 822.8M736.6 826.7L736.6 836.3M740.9 819.5L743.7 820.9L743.7 828.2L746.6 830.1L743.7 831.5L743.7 836.3L740.9 837.3M751.2 822.4L761.8 822.4M749.1 835.4L764 835.4M766.1 826.7L773.5 826.7M766.1 831.5L773.5 831.5M775.7 819.5L777.8 820.9L777.8 828.2L779.9 830.1L777.8 831.5L777.8 836.3L775.7 837.3M782.6 821.6L783.5 822.8M782.6 826.7L782.6 836.3M786.2 826.7L787 827.9M786.2 835.4L787 836.1M789.8 821.6L790.7 822.8M789.8 826.7L789.8 836.3M793.3 826.7L794.2 827.9M793.3 835.4L794.2 836.1M796.9 821.6L797.8 822.8M796.9 826.7L796.9 836.3M800.4 826.7L801.3 827.9M800.4 835.4L801.3 836.1M804 821.6L804.9 822.8M804 826.7L804 836.3M807.5 826.7L808.4 827.9M807.5 835.4L808.4 836.1M812.3 817.3L812.3 838.7M816 829.6L821.9 829.6M822.8 838.2L830.7 838.2M831.6 829.6L837.5 829.6M838.5 838.2L846.3 838.2M847.3 829.6L853.2 829.6M854.2 838.2L862 838.2M863 829.6L868.9 829.6M869.8 838.2L877.7 838.2M878.6 829.6L884.5 829.6M885.5 838.2L893.3 838.2M894.3 829.6L900.2 829.6M901.2 838.2L909 838.2M10.8 844.6L11.8 845.8M10.8 849.7L10.8 859.3M14.7 849.7L15.7 850.9M14.7 858.4L15.7 859.1M18.8 844.6L19.7 845.8M18.8 849.7L18.8 859.3M22.7 849.7L23.6 850.9M22.7 858.4L23.6 859.1M26.7 844.6L27.7 845.8M26.7 849.7L26.7 859.3M30.6 849.7L31.6 850.9M30.6 858.4L31.6 859.1M34.6 844.6L35.6 845.8M34.6 849.7L34.6 859.3M38.5 849.7L39.5 850.9M38.5 858.4L39.5 859.1M42.5 844.6L43.5 845.8M42.5 849.7L42.5 859.3M46.4 849.7L47.4 850.9M46.4 858.4L47.4 859.1M50.5 844.6L51.4 845.8M50.5 849.7L50.5 859.3M54.4 849.7L55.3 850.9M54.4 858.4L55.3 859.1M58.4 844.6L59.4 845.8M58.4 849.7L58.4 859.3M62.3 849.7L63.3 850.9M62.3 858.4L63.3 859.1M66.3 844.6L67.3 845.8M66.3 849.7L66.3 859.3M70.2 849.7L71.2 850.9M70.2 858.4L71.2 859.1M74.2 844.6L75.2 845.8M74.2 849.7L74.2 859.3M78.1 849.7L79.1 850.9M78.1 858.4L79.1 859.1M82.2 844.6L83.1 845.8M82.2 849.7L82.2 859.3M86.1 849.7L87 850.9M86.1 858.4L87 859.1M90.1 844.6L91.1 845.8M90.1 849.7L90.1 859.3M94 849.7L95 850.9M94 858.4L95 859.1M98 844.6L99 845.8M98 849.7L98 859.3M101.9 849.7L102.9 850.9M101.9 858.4L102.9 859.1M105.9 844.6L106.9 845.8M105.9 849.7L105.9 859.3M109.8 849.7L110.8 850.9M109.8 858.4L110.8 859.1M113.9 844.6L114.8 845.8M113.9 849.7L113.9 859.3M117.8 849.7L118.7 850.9M117.8 858.4L118.7 859.1M121.8 844.6L122.8 845.8M121.8 849.7L121.8 859.3M125.7 849.7L126.7 850.9M125.7 858.4L126.7 859.1M129.7 844.6L130.7 845.8M129.7 849.7L129.7 859.3M133.6 849.7L134.6 850.9M133.6 858.4L134.6 859.1M137.6 844.6L138.6 845.8M137.6 849.7L137.6 859.3M141.5 849.7L142.5 850.9M141.5 858.4L142.5 859.1M145.6 844.6L146.5 845.8M145.6 849.7L145.6 859.3M149.5 849.7L150.4 850.9M149.5 858.4L150.4 859.1M153.5 844.6L154.5 845.8M153.5 849.7L153.5 859.3M157.4 849.7L158.4 850.9M157.4 858.4L158.4 859.1M161.4 844.6L162.4 845.8M161.4 849.7L161.4 859.3M165.3 849.7L166.3 850.9M165.3 858.4L166.3 859.1M169.3 844.6L170.3 845.8M169.3 849.7L169.3 859.3M173.2 849.7L174.2 850.9M173.2 858.4L174.2 859.1M177.3 844.6L178.2 845.8M177.3 849.7L177.3 859.3M181.2 849.7L182.1 850.9M181.2 858.4L182.1 859.1M185.2 844.6L186.2 845.8M185.2 849.7L185.2 859.3M189.1 849.7L190.1 850.9M189.1 858.4L190.1 859.1M193.1 844.6L194.1 845.8M193.1 849.7L193.1 859.3M197 849.7L198 850.9M197 858.4L198 859.1M201 844.6L202 845.8M201 849.7L201 859.3M204.9 849.7L205.9 850.9M204.9 858.4L205.9 859.1M209 844.6L209.9 845.8M209 849.7L209 859.3M212.9 849.7L213.8 850.9M212.9 858.4L213.8 859.1M216.9 844.6L217.9 845.8M216.9 849.7L216.9 859.3M220.8 849.7L221.8 850.9M220.8 858.4L221.8 859.1M224.8 844.6L225.8 845.8M224.8 849.7L224.8 859.3M228.7 849.7L229.7 850.9M228.7 858.4L229.7 859.1M232.7 844.6L233.7 845.8M232.7 849.7L232.7 859.3M236.6 849.7L237.6 850.9M236.6 858.4L237.6 859.1M240.7 844.6L241.6 845.8M240.7 849.7L240.7 859.3M244.6 849.7L245.5 850.9M244.6 858.4L245.5 859.1M248.6 844.6L249.6 845.8M248.6 849.7L248.6 859.3M252.5 849.7L253.5 850.9M252.5 858.4L253.5 859.1M256.5 844.6L257.5 845.8M256.5 849.7L256.5 859.3M260.4 849.7L261.4 850.9M260.4 858.4L261.4 859.1M264.4 844.6L265.4 845.8M264.4 849.7L264.4 859.3M268.3 849.7L269.3 850.9M268.3 858.4L269.3 859.1M272.4 844.6L273.3 845.8M272.4 849.7L272.4 859.3M276.3 849.7L277.2 850.9M276.3 858.4L277.2 859.1M280.3 844.6L281.3 845.8M280.3 849.7L280.3 859.3M284.2 849.7L285.2 850.9M284.2 858.4L285.2 859.1M288.2 844.6L289.2 845.8M288.2 849.7L288.2 859.3M292.1 849.7L293.1 850.9M292.1 858.4L293.1 859.1M296.1 844.6L297.1 845.8M296.1 849.7L296.1 859.3M300 849.7L301 850.9M300 858.4L301 859.1M304.1 844.6L305 845.8M304.1 849.7L304.1 859.3M308 849.7L308.9 850.9M308 858.4L308.9 859.1M312 844.6L313 845.8M312 849.7L312 859.3M315.9 849.7L316.9 850.9M315.9 858.4L316.9 859.1M319.9 844.6L320.9 845.8M319.9 849.7L319.9 859.3M323.8 849.7L324.8 850.9M323.8 858.4L324.8 859.1M327.1 842.5L329.3 843.9L329.3 851.2L331.4 853.1L329.3 854.5L329.3 859.3L327.1 860.3M334.2 844.6L335 845.8M334.2 849.7L334.2 859.3M338.5 842.5L338.5 859.3M338.5 851.2L342.9 854.5M345.6 858.4L346.4 859.1M349.9 858.4L350.8 859.1M354.8 857.4L353.7 860.3M413.3 842.5L431 860.3M436.9 848.3L449.1 848.3M445.6 842.5L445.6 859.3L443.9 858.4M439.5 852.6L441.2 855.5M453.2 845.4L464 845.4M451.1 858.4L466.2 858.4M470.5 845.4L481.3 845.4M468.3 858.4L483.5 858.4M487.8 845.4L498.6 845.4M485.6 858.4L500.7 858.4M502.9 843.9L516.9 843.9L511.5 851.2M509.4 848.3L508.3 854.5L504 859.3M528 846.8L519.2 853.1L528 857.4M531.1 844.6L532.1 845.8M531.1 849.7L531.1 859.3M535.5 844.6L536.5 845.8M535.5 849.7L535.5 859.3M555.5 842.5L540.5 848.3L555.5 853.6M540.5 855.5L555.5 855.5M540.5 858.4L555.5 858.4M562.1 845.4L575.9 845.4M559.4 858.4L578.6 858.4M582.8 842.5L599.2 848.3L582.8 853.6M582.8 855.5L599.2 855.5M582.8 858.4L599.2 858.4M603.9 844.6L605 845.8M603.9 849.7L603.9 859.3M609.7 840.3L609.7 861.7M616.8 845.4L629.7 845.4M614.2 858.4L632.3 858.4M636.8 840.3L636.8 861.7M643.7 845.4L656.2 845.4M641.2 858.4L658.7 858.4M663.7 845.4L676.1 845.4M661.2 858.4L678.6 858.4M683.6 845.4L696.1 845.4M681.1 858.4L698.6 858.4M701.1 849.7L709.8 849.7M701.1 854.5L709.8 854.5M712.3 852.6L719.8 852.6M723.9 845.4L727.8 845.4L723.9 853.6L727.8 857.4L724.9 859.3M724.9 859.3L736.4 859.3M739.8 840.3L739.8 861.7M745.1 845.4L754.7 845.4M743.2 858.4L756.6 858.4M760.5 845.4L770.1 845.4M758.6 858.4L772 858.4M781.5 842.5L775.8 853.1L781.5 860.3M786.5 844.6L787.7 845.8M786.5 849.7L786.5 859.3M791.1 849.7L792.2 850.9M791.1 858.4L792.2 859.1M795.8 844.6L796.9 845.8M795.8 849.7L795.8 859.3M800.3 849.7L801.5 850.9M800.3 858.4L801.5 859.1M805 844.6L806.2 845.8M805 849.7L805 859.3M811.4 840.3L811.4 861.7M816 852.6L821.9 852.6M822.8 861.2L830.7 861.2M831.6 852.6L837.5 852.6M838.5 861.2L846.3 861.2M847.3 852.6L853.2 852.6M854.2 861.2L862 861.2M863 852.6L868.9 852.6M869.8 861.2L877.7 861.2M878.6 852.6L884.5 852.6M885.5 861.2L893.3 861.2M894.3 852.6L900.2 852.6M901.2 861.2L909 861.2M22.2 875.6L29.6 875.6M32.1 872.7L40.8 872.7M32.1 877.5L40.8 877.5M45.8 867.6L46.8 868.8M45.8 872.7L45.8 882.3M49.6 872.7L50.6 873.9M49.6 881.4L50.6 882.1M53.6 867.6L54.5 868.8M53.6 872.7L53.6 882.3M57.4 872.7L58.4 873.9M57.4 881.4L58.4 882.1M61.4 867.6L62.3 868.8M61.4 872.7L61.4 882.3M65.2 872.7L66.1 873.9M65.2 881.4L66.1 882.1M69.1 867.6L70.1 868.8M69.1 872.7L69.1 882.3M73 872.7L73.9 873.9M73 881.4L73.9 882.1M76.9 867.6L77.9 868.8M76.9 872.7L76.9 882.3M80.7 872.7L81.7 873.9M80.7 881.4L81.7 882.1M84.7 867.6L85.7 868.8M84.7 872.7L84.7 882.3M88.5 872.7L89.5 873.9M88.5 881.4L89.5 882.1M92.5 867.6L93.4 868.8M92.5 872.7L92.5 882.3M96.3 872.7L97.3 873.9M96.3 881.4L97.3 882.1M100.3 867.6L101.2 868.8M100.3 872.7L100.3 882.3M104.1 872.7L105 873.9M104.1 881.4L105 882.1M108 867.6L109 868.8M108 872.7L108 882.3M111.9 872.7L112.8 873.9M111.9 881.4L112.8 882.1M115.8 867.6L116.8 868.8M115.8 872.7L115.8 882.3M119.7 872.7L120.6 873.9M119.7 881.4L120.6 882.1M123.6 867.6L124.6 868.8M123.6 872.7L123.6 882.3M127.4 872.7L128.4 873.9M127.4 881.4L128.4 882.1M131.4 867.6L132.3 868.8M131.4 872.7L131.4 882.3M135.2 872.7L136.2 873.9M135.2 881.4L136.2 882.1M139.2 867.6L140.1 868.8M139.2 872.7L139.2 882.3M143 872.7L143.9 873.9M143 881.4L143.9 882.1M146.9 867.6L147.9 868.8M146.9 872.7L146.9 882.3M150.8 872.7L151.7 873.9M150.8 881.4L151.7 882.1M154.7 867.6L155.7 868.8M154.7 872.7L154.7 882.3M158.6 872.7L159.5 873.9M158.6 881.4L159.5 882.1M162.5 867.6L163.5 868.8M162.5 872.7L162.5 882.3M166.3 872.7L167.3 873.9M166.3 881.4L167.3 882.1M170.3 867.6L171.2 868.8M170.3 872.7L170.3 882.3M174.1 872.7L175.1 873.9M174.1 881.4L175.1 882.1M178.1 867.6L179 868.8M178.1 872.7L178.1 882.3M181.9 872.7L182.9 873.9M181.9 881.4L182.9 882.1M185.8 867.6L186.8 868.8M185.8 872.7L185.8 882.3M189.7 872.7L190.6 873.9M189.7 881.4L190.6 882.1M193.6 867.6L194.6 868.8M193.6 872.7L193.6 882.3M197.5 872.7L198.4 873.9M197.5 881.4L198.4 882.1M201.4 867.6L202.4 868.8M201.4 872.7L201.4 882.3M205.2 872.7L206.2 873.9M205.2 881.4L206.2 882.1M209.2 867.6L210.1 868.8M209.2 872.7L209.2 882.3M213 872.7L214 873.9M213 881.4L214 882.1M217 867.6L217.9 868.8M217 872.7L217 882.3M220.8 872.7L221.8 873.9M220.8 881.4L221.8 882.1M224.7 867.6L225.7 868.8M224.7 872.7L224.7 882.3M228.6 872.7L229.5 873.9M228.6 881.4L229.5 882.1M232.5 867.6L233.5 868.8M232.5 872.7L232.5 882.3M236.4 872.7L237.3 873.9M236.4 881.4L237.3 882.1M240.3 867.6L241.3 868.8M240.3 872.7L240.3 882.3M244.1 872.7L245.1 873.9M244.1 881.4L245.1 882.1M248.1 867.6L249 868.8M248.1 872.7L248.1 882.3M251.9 872.7L252.9 873.9M251.9 881.4L252.9 882.1M255.9 867.6L256.8 868.8M255.9 872.7L255.9 882.3M259.7 872.7L260.7 873.9M259.7 881.4L260.7 882.1M263.6 867.6L264.6 868.8M263.6 872.7L263.6 882.3M267.5 872.7L268.4 873.9M267.5 881.4L268.4 882.1M271.4 867.6L272.4 868.8M271.4 872.7L271.4 882.3M275.3 872.7L276.2 873.9M275.3 881.4L276.2 882.1M279.2 867.6L280.2 868.8M279.2 872.7L279.2 882.3M283 872.7L284 873.9M283 881.4L284 882.1M287 867.6L287.9 868.8M287 872.7L287 882.3M290.8 872.7L291.8 873.9M290.8 881.4L291.8 882.1M294.8 867.6L295.7 868.8M294.8 872.7L294.8 882.3M298.6 872.7L299.6 873.9M298.6 881.4L299.6 882.1M302.6 867.6L303.5 868.8M302.6 872.7L302.6 882.3M306.4 872.7L307.3 873.9M306.4 881.4L307.3 882.1M310.3 867.6L311.3 868.8M310.3 872.7L310.3 882.3M314.2 872.7L315.1 873.9M314.2 881.4L315.1 882.1M318.1 867.6L319.1 868.8M318.1 872.7L318.1 882.3M321.9 872.7L322.9 873.9M321.9 881.4L322.9 882.1M325.9 867.6L326.9 868.8M325.9 872.7L325.9 882.3M329.7 872.7L330.7 873.9M329.7 881.4L330.7 882.1M333.7 867.6L334.6 868.8M333.7 872.7L333.7 882.3M337.5 872.7L338.5 873.9M337.5 881.4L338.5 882.1M341.5 867.6L342.4 868.8M341.5 872.7L341.5 882.3M345.3 872.7L346.2 873.9M345.3 881.4L346.2 882.1M349.2 867.6L350.2 868.8M349.2 872.7L349.2 882.3M353.1 872.7L354 873.9M353.1 881.4L354 882.1M357 867.6L358 868.8M357 872.7L357 882.3M360.8 872.7L361.8 873.9M360.8 881.4L361.8 882.1M364.3 865.5L367 866.9L367 874.2L369.7 876.1L367 877.5L367 882.3L364.3 883.3M373.1 867.6L374.2 868.8M373.1 872.7L373.1 882.3M378.5 865.5L378.5 882.3M378.5 874.2L383.9 877.5M387.2 881.4L388.3 882.1M392.6 881.4L393.7 882.1M435.3 865.5L453 883.3M454.9 866.9L467.1 866.9L462.4 874.2M460.5 871.3L459.6 877.5L455.9 882.3M479.8 865.5L478.3 866.9L478.3 874.2L476.8 876.1L478.3 877.5L478.3 882.3L479.8 883.3M480.6 875.6L492.9 875.6M492.9 875.6L505.2 875.6M505.2 875.6L517.4 875.6M517.4 875.6L529.7 875.6M529.7 875.6L542 875.6M550.9 872.7L550.9 882.3M550.9 875.6L554.7 872.7M558.5 869.8L566 869.8M556.6 880.4L567.9 880.4M569.8 872.7L576.4 872.7M569.8 877.5L576.4 877.5M579.6 863.3L579.6 884.7M585 868.4L595 868.4M583 881.4L597 881.4M601 868.4L611 868.4M599 881.4L613 881.4M617 868.4L627 868.4M615 881.4L629 881.4M633 868.4L643 868.4M631 881.4L645 881.4M649 868.4L659 868.4M647 881.4L661 881.4M667.5 865.5L664.7 865.5L664.7 883.3L667.5 883.3M673 869.8L683.9 869.8M670.2 880.4L686.7 880.4M689.4 883.3L708.6 865.5M713.2 868.4L724 868.4M711.1 881.4L726.2 881.4M730.5 868.4L741.3 868.4M728.3 881.4L743.4 881.4M747.7 868.4L758.5 868.4M745.6 881.4L760.7 881.4M765 868.4L775.8 868.4M762.8 881.4L777.9 881.4M780.4 881.4L788.7 866.9L797 881.4M800.5 867.6L801.6 868.8M800.5 872.7L800.5 882.3M805.3 867.6L806.4 868.8M805.3 872.7L805.3 882.3M811.5 863.3L811.5 884.7M816 875.6L821.9 875.6M822.8 884.2L830.7 884.2M831.6 875.6L837.5 875.6M838.5 884.2L846.3 884.2M847.3 875.6L853.2 875.6M854.2 884.2L862 884.2M863 875.6L868.9 875.6M869.8 884.2L877.7 884.2M878.6 875.6L884.5 875.6M885.5 884.2L893.3 884.2M894.3 875.6L900.2 875.6M901.2 884.2L909 884.2M80 887.7L101 887.7M144.2 898.6L151.2 898.6M153.6 895.7L161.8 895.7M153.6 900.5L161.8 900.5M166.8 890.6L167.8 891.8M166.8 895.7L166.8 905.3M170.7 895.7L171.6 896.9M170.7 904.4L171.6 905.1M174.6 890.6L175.6 891.8M174.6 895.7L174.6 905.3M178.5 895.7L179.5 896.9M178.5 904.4L179.5 905.1M182.5 890.6L183.4 891.8M182.5 895.7L182.5 905.3M186.3 895.7L187.3 896.9M186.3 904.4L187.3 905.1M190.3 890.6L191.3 891.8M190.3 895.7L190.3 905.3M194.2 895.7L195.1 896.9M194.2 904.4L195.1 905.1M198.1 890.6L199.1 891.8M198.1 895.7L198.1 905.3M202 895.7L203 896.9M202 904.4L203 905.1M206 890.6L206.9 891.8M206 895.7L206 905.3M209.8 895.7L210.8 896.9M209.8 904.4L210.8 905.1M213.8 890.6L214.8 891.8M213.8 895.7L213.8 905.3M217.7 895.7L218.6 896.9M217.7 904.4L218.6 905.1M221.6 890.6L222.6 891.8M221.6 895.7L221.6 905.3M225.5 895.7L226.5 896.9M225.5 904.4L226.5 905.1M229.5 890.6L230.4 891.8M229.5 895.7L229.5 905.3M233.3 895.7L234.3 896.9M233.3 904.4L234.3 905.1M237.3 890.6L238.3 891.8M237.3 895.7L237.3 905.3M241.2 895.7L242.1 896.9M241.2 904.4L242.1 905.1M245.1 890.6L246.1 891.8M245.1 895.7L245.1 905.3M249 895.7L250 896.9M249 904.4L250 905.1M253 890.6L253.9 891.8M253 895.7L253 905.3M256.8 895.7L257.8 896.9M256.8 904.4L257.8 905.1M260.8 890.6L261.8 891.8M260.8 895.7L260.8 905.3M264.7 895.7L265.6 896.9M264.7 904.4L265.6 905.1M268.6 890.6L269.6 891.8M268.6 895.7L268.6 905.3M272.5 895.7L273.5 896.9M272.5 904.4L273.5 905.1M276.5 890.6L277.4 891.8M276.5 895.7L276.5 905.3M280.3 895.7L281.3 896.9M280.3 904.4L281.3 905.1M284.3 890.6L285.3 891.8M284.3 895.7L284.3 905.3M288.2 895.7L289.1 896.9M288.2 904.4L289.1 905.1M292.1 890.6L293.1 891.8M292.1 895.7L292.1 905.3M296 895.7L297 896.9M296 904.4L297 905.1M300 890.6L300.9 891.8M300 895.7L300 905.3M303.8 895.7L304.8 896.9M303.8 904.4L304.8 905.1M307.8 890.6L308.8 891.8M307.8 895.7L307.8 905.3M311.7 895.7L312.6 896.9M311.7 904.4L312.6 905.1M315.6 890.6L316.6 891.8M315.6 895.7L315.6 905.3M319.5 895.7L320.5 896.9M319.5 904.4L320.5 905.1M323.5 890.6L324.4 891.8M323.5 895.7L323.5 905.3M327.3 895.7L328.3 896.9M327.3 904.4L328.3 905.1M331.3 890.6L332.3 891.8M331.3 895.7L331.3 905.3M335.2 895.7L336.1 896.9M335.2 904.4L336.1 905.1M339.1 890.6L340.1 891.8M339.1 895.7L339.1 905.3M343 895.7L344 896.9M343 904.4L344 905.1M347 890.6L347.9 891.8M347 895.7L347 905.3M350.8 895.7L351.8 896.9M350.8 904.4L351.8 905.1M354.8 890.6L355.8 891.8M354.8 895.7L354.8 905.3M358.7 895.7L359.6 896.9M358.7 904.4L359.6 905.1M362.6 890.6L363.6 891.8M362.6 895.7L362.6 905.3M366.5 895.7L367.5 896.9M366.5 904.4L367.5 905.1M370.5 890.6L371.4 891.8M370.5 895.7L370.5 905.3M374.3 895.7L375.3 896.9M374.3 904.4L375.3 905.1M378.3 890.6L379.3 891.8M378.3 895.7L378.3 905.3M382.2 895.7L383.1 896.9M382.2 904.4L383.1 905.1M386.1 890.6L387.1 891.8M386.1 895.7L386.1 905.3M390 895.7L391 896.9M390 904.4L391 905.1M394 890.6L394.9 891.8M394 895.7L394 905.3M397.8 895.7L398.8 896.9M397.8 904.4L398.8 905.1M401.3 888.5L404 889.9L404 897.2L406.7 899.1L404 900.5L404 905.3L401.3 906.3M410.1 890.6L411.2 891.8M410.1 895.7L410.1 905.3M415.5 888.5L415.5 905.3M415.5 897.2L420.9 900.5M424.2 904.4L425.3 905.1M430.3 903.4L429 906.3M457.3 888.5L475 906.3M477.3 895.7L487.6 895.7L487.6 900.5M492.8 889.9L503.2 892.8M492.8 897.2L503.2 899.6M491.5 901.5L504.5 905.3M509.6 889.9L509.6 904.4L513.5 905.3M507.1 895.7L513.5 895.7M516.8 904.4L517.8 905.1M547.5 890.6L548.3 891.8M547.5 895.7L547.5 905.3M551.9 886.3L551.9 907.7M557.3 892.8L565.2 892.8M555.4 903.4L567.2 903.4M569.2 895.7L576.1 895.7M569.2 900.5L576.1 900.5M579.5 886.3L579.5 907.7M586 891.4L599.3 891.4M583.3 904.4L602 904.4M607.3 891.4L620.7 891.4M604.7 904.4L623.3 904.4M628.7 891.4L642 891.4M626 904.4L644.7 904.4M647.3 906.3L665.2 888.5M667.8 906.3L685.7 888.5M691.2 891.4L705.3 891.4M688.4 904.4L708.1 904.4M713.7 891.4L727.8 891.4M710.9 904.4L730.6 904.4M736.3 891.4L750.3 891.4M733.4 904.4L753.1 904.4M758.8 891.4L772.9 891.4M756 904.4L775.7 904.4M778.5 895.7L788.3 895.7M778.5 900.5L788.3 900.5M791.1 898.6L799.6 898.6M801 907.2L807.8 907.2M809.1 890.6L809.7 891.8M809.1 895.7L809.1 905.3M812.9 886.3L812.9 907.7M816 898.6L821.9 898.6M822.8 907.2L830.7 907.2M831.6 898.6L837.5 898.6M838.5 907.2L846.3 907.2M847.3 898.6L853.2 898.6M854.2 907.2L862 907.2M863 898.6L868.9 898.6M869.8 907.2L877.7 907.2M878.6 898.6L884.5 898.6M885.5 907.2L893.3 907.2M894.3 898.6L900.2 898.6M901.2 907.2L909 907.2M209 910.7L230 910.7M273.3 921.6L281.1 921.6M283.6 918.7L292.7 918.7M283.6 923.5L292.7 923.5M295.8 913.6L296.7 914.8M295.8 918.7L295.8 928.3M299.6 918.7L300.5 919.9M299.6 927.4L300.5 928.1M303.5 913.6L304.5 914.8M303.5 918.7L303.5 928.3M307.3 918.7L308.3 919.9M307.3 927.4L308.3 928.1M311.2 913.6L312.2 914.8M311.2 918.7L311.2 928.3M315 918.7L316 919.9M315 927.4L316 928.1M318.9 913.6L319.9 914.8M318.9 918.7L318.9 928.3M322.8 918.7L323.7 919.9M322.8 927.4L323.7 928.1M326.7 913.6L327.6 914.8M326.7 918.7L326.7 928.3M330.5 918.7L331.4 919.9M330.5 927.4L331.4 928.1M334.4 913.6L335.3 914.8M334.4 918.7L334.4 928.3M338.2 918.7L339.1 919.9M338.2 927.4L339.1 928.1M342.1 913.6L343.1 914.8M342.1 918.7L342.1 928.3M345.9 918.7L346.9 919.9M345.9 927.4L346.9 928.1M349.8 913.6L350.8 914.8M349.8 918.7L349.8 928.3M353.6 918.7L354.6 919.9M353.6 927.4L354.6 928.1M357.6 913.6L358.5 914.8M357.6 918.7L357.6 928.3M361.4 918.7L362.3 919.9M361.4 927.4L362.3 928.1M365.3 913.6L366.2 914.8M365.3 918.7L365.3 928.3M369.1 918.7L370 919.9M369.1 927.4L370 928.1M373 913.6L374 914.8M373 918.7L373 928.3M376.8 918.7L377.8 919.9M376.8 927.4L377.8 928.1M380.7 913.6L381.7 914.8M380.7 918.7L380.7 928.3M384.5 918.7L385.5 919.9M384.5 927.4L385.5 928.1M388.4 913.6L389.4 914.8M388.4 918.7L388.4 928.3M392.3 918.7L393.2 919.9M392.3 927.4L393.2 928.1M396.2 913.6L397.1 914.8M396.2 918.7L396.2 928.3M400 918.7L400.9 919.9M400 927.4L400.9 928.1M403.9 913.6L404.8 914.8M403.9 918.7L403.9 928.3M407.7 918.7L408.6 919.9M407.7 927.4L408.6 928.1M411.6 913.6L412.6 914.8M411.6 918.7L411.6 928.3M415.4 918.7L416.4 919.9M415.4 927.4L416.4 928.1M419.3 913.6L420.3 914.8M419.3 918.7L419.3 928.3M423.1 918.7L424.1 919.9M423.1 927.4L424.1 928.1M427.1 913.6L428 914.8M427.1 918.7L427.1 928.3M430.9 918.7L431.8 919.9M430.9 927.4L431.8 928.1M434.2 911.5L436.6 912.9L436.6 920.2L438.9 922.1L436.6 923.5L436.6 928.3L434.2 929.3M441.9 913.6L442.8 914.8M441.9 918.7L441.9 928.3M446.6 911.5L446.6 928.3M446.6 920.2L451.3 923.5M454.3 927.4L455.3 928.1M459.6 926.4L458.4 929.3M478.3 911.5L496 929.3M527.3 911.5L529.8 912.9L529.8 920.2L532.3 922.1L529.8 923.5L529.8 928.3L527.3 929.3M552.4 909.3L552.4 930.7M557.8 915.8L565.5 915.8M555.8 926.4L567.5 926.4M569.4 918.7L576.2 918.7M569.4 923.5L576.2 923.5M579.6 909.3L579.6 930.7M586.1 914.4L599.9 914.4M583.4 927.4L602.6 927.4M605.2 928.3L612.6 911.5M615.1 921.6L622.4 921.6M624.9 918.7L633.5 918.7M624.9 923.5L633.5 923.5M638.4 914.4L650.7 914.4M635.9 927.4L653.1 927.4M658 914.4L670.3 914.4M655.6 927.4L672.8 927.4M679.9 911.5L677.6 912.9L677.6 920.2L675.2 922.1L677.6 923.5L677.6 928.3L679.9 929.3M682.9 913.6L683.9 914.8M682.9 918.7L682.9 928.3M686.7 918.7L687.7 919.9M686.7 927.4L687.7 928.1M690.7 913.6L691.6 914.8M690.7 918.7L690.7 928.3M694.5 918.7L695.4 919.9M694.5 927.4L695.4 928.1M698.4 913.6L699.3 914.8M698.4 918.7L698.4 928.3M702.2 918.7L703.1 919.9M702.2 927.4L703.1 928.1M706.1 913.6L707.1 914.8M706.1 918.7L706.1 928.3M709.9 918.7L710.9 919.9M709.9 927.4L710.9 928.1M713.9 913.6L714.8 914.8M713.9 918.7L713.9 928.3M717.7 918.7L718.6 919.9M717.7 927.4L718.6 928.1M721.6 913.6L722.5 914.8M721.6 918.7L721.6 928.3M725.4 918.7L726.3 919.9M725.4 927.4L726.3 928.1M729.3 913.6L730.3 914.8M729.3 918.7L729.3 928.3M733.1 918.7L734.1 919.9M733.1 927.4L734.1 928.1M737.1 913.6L738 914.8M737.1 918.7L737.1 928.3M740.9 918.7L741.8 919.9M740.9 927.4L741.8 928.1M744.2 912.9L751.3 927.4L758.3 912.9M763.1 914.4L774.9 914.4M760.7 927.4L777.2 927.4M779.6 918.7L787.9 918.7M779.6 923.5L787.9 923.5M790.2 921.6L797.3 921.6M799.7 927.4L806.7 912.9L813.8 927.4M816 921.6L821.9 921.6M822.8 930.2L830.7 930.2M831.6 921.6L837.5 921.6M838.5 930.2L846.3 930.2M847.3 921.6L853.2 921.6M854.2 930.2L862 930.2M863 921.6L868.9 921.6M869.8 930.2L877.7 930.2M878.6 921.6L884.5 921.6M885.5 930.2L893.3 930.2M894.3 921.6L900.2 921.6M901.2 930.2L909 930.2M352 933.7L372 933.7M399.4 944.6L407.9 944.6M410.8 941.7L420.7 941.7M410.8 946.5L420.7 946.5M424.3 936.6L425.4 937.8M424.3 941.7L424.3 951.3M428.8 941.7L430 942.9M428.8 950.4L430 951.1M433.5 936.6L434.7 937.8M433.5 941.7L433.5 951.3M438.1 941.7L439.2 942.9M438.1 950.4L439.2 951.1M442.8 936.6L443.9 937.8M442.8 941.7L442.8 951.3M447.3 941.7L448.4 942.9M447.3 950.4L448.4 951.1M452 936.6L453.1 937.8M452 941.7L452 951.3M454.8 953.2L466.2 953.2M467.6 934.5L470.5 935.9L470.5 943.2L473.3 945.1L470.5 946.5L470.5 951.3L467.6 952.3M476.9 936.6L478 937.8M476.9 941.7L476.9 951.3M482.5 934.5L482.5 951.3M482.5 943.2L488.2 946.5M491.1 934.5L493.9 935.9L493.9 943.2L496.7 945.1L493.9 946.5L493.9 951.3L491.1 952.3M499.6 941.7L509.5 941.7M499.6 946.5L509.5 946.5M512.4 935.9L516.6 950.4L520.9 935.9M525.2 935.9L525.2 950.4M552.4 932.3L552.4 953.7M557.8 938.8L565.5 938.8M555.8 949.4L567.5 949.4M569.4 941.7L576.2 941.7M569.4 946.5L576.2 946.5M579.6 932.3L579.6 953.7M584.7 937.4L593.6 937.4M582.9 950.4L595.3 950.4M600.7 934.5L598.9 935.9L598.9 943.2L597.1 945.1L598.9 946.5L598.9 951.3L600.7 952.3M604.2 937.4L613.1 937.4M602.4 950.4L614.9 950.4M618.4 937.4L627.3 937.4M616.7 950.4L629.1 950.4M633.6 937.4L645.5 937.4M631.2 950.4L647.9 950.4M652.7 937.4L664.7 937.4M650.3 950.4L667 950.4M669.4 941.7L677.8 941.7M669.4 946.5L677.8 946.5M680.4 934.5L699.6 952.3M702.7 936.6L703.6 937.8M702.7 941.7L702.7 951.3M706.4 941.7L707.3 942.9M706.4 950.4L707.3 951.1M710.2 936.6L711.1 937.8M710.2 941.7L710.2 951.3M713.9 941.7L714.8 942.9M713.9 950.4L714.8 951.1M717.7 936.6L718.6 937.8M717.7 941.7L717.7 951.3M721.4 941.7L722.3 942.9M721.4 950.4L722.3 951.1M725.2 936.6L726.1 937.8M725.2 941.7L725.2 951.3M728.9 941.7L729.8 942.9M728.9 950.4L729.8 951.1M732.7 936.6L733.6 937.8M732.7 941.7L732.7 951.3M736.3 941.7L737.3 942.9M736.3 950.4L737.3 951.1M740.1 936.6L741.1 937.8M740.1 941.7L740.1 951.3M743.8 941.7L744.7 942.9M743.8 950.4L744.7 951.1M747 935.9L753.9 950.4L760.8 935.9M767.5 937.4L779 937.4M765.2 950.4L781.3 950.4M783.6 941.7L791.7 941.7M783.6 946.5L791.7 946.5M794 941.7L802.1 941.7M794 946.5L802.1 946.5M804.4 944.6L811.3 944.6M817.1 938.8L813.6 948.4M819.4 938.8L822.8 948.4M827 944.6L833.3 944.6M834.3 953.2L842.6 953.2M843.6 944.6L849.9 944.6M850.9 953.2L859.2 953.2M860.2 944.6L866.5 944.6M867.5 953.2L875.8 953.2M876.8 944.6L883.1 944.6M884.1 953.2L892.4 953.2M893.4 944.6L899.7 944.6M900.7 953.2L909 953.2M8 976.2L23.4 976.2M23.4 976.2L38.8 976.2M38.8 976.2L54.2 976.2M54.2 976.2L69.5 976.2M69.5 976.2L84.9 976.2M84.9 976.2L100.3 976.2M100.3 976.2L115.7 976.2M115.7 976.2L131.1 976.2M131.1 976.2L146.5 976.2M146.5 976.2L161.9 976.2M161.9 976.2L177.3 976.2M177.3 976.2L192.6 976.2M192.6 976.2L208 976.2M208 976.2L223.4 976.2M223.4 976.2L238.8 976.2M238.8 976.2L254.2 976.2M254.2 976.2L269.6 976.2M269.6 976.2L285 976.2M285 976.2L300.4 976.2M300.4 976.2L315.7 976.2M315.7 976.2L331.1 976.2M331.1 976.2L346.5 976.2M346.5 976.2L361.9 976.2M361.9 976.2L377.3 976.2M377.3 976.2L392.7 976.2M392.7 976.2L408.1 976.2M408.1 976.2L423.5 976.2M423.5 976.2L438.8 976.2M438.8 976.2L454.2 976.2M454.2 976.2L469.6 976.2M469.6 976.2L485 976.2M497.1 958.9L495.1 967.6L487 974.3M500.7 959.6L501.5 960.8M500.7 964.7L500.7 974.3M504.7 957.5L504.7 974.3M504.7 966.2L508.8 969.5M527 958.9L525 967.6L516.9 974.3M552.4 955.3L552.4 976.7M557.8 961.8L565.5 961.8M555.8 972.4L567.5 972.4M569.4 964.7L576.2 964.7M569.4 969.5L576.2 969.5M579.6 955.3L579.6 976.7M585 960.4L595 960.4M583 973.4L597 973.4M601 960.4L611 960.4M599 973.4L613 973.4M617 960.4L627 960.4M615 973.4L629 973.4M633.5 960.4L645.3 960.4M631.2 973.4L647.6 973.4M652.3 960.4L664 960.4M650 973.4L666.4 973.4M668.7 957.5L671.1 958.9L671.1 966.2L673.4 968.1L671.1 969.5L671.1 974.3L668.7 975.3M676.4 959.6L677.3 960.8M676.4 964.7L676.4 974.3M681 957.5L681 974.3M681 966.2L685.7 969.5M688.7 973.4L689.6 974.1M693.4 973.4L694.3 974.1M698.7 972.4L697.5 975.3M702.2 957.5L719.8 975.3M723 959.6L724.1 960.8M723 964.7L723 974.3M727.8 959.6L728.9 960.8M727.8 964.7L727.8 974.3M732.6 959.6L733.6 960.8M732.6 964.7L732.6 974.3M737.3 959.6L738.4 960.8M737.3 964.7L737.3 974.3M741.7 964.7L742.8 965.9M741.7 973.4L742.8 974.1M745.5 974.3L753.6 957.5M758.3 960.4L769.4 960.4M756.1 973.4L771.6 973.4M776.1 960.4L787.2 960.4M773.9 973.4L789.4 973.4M791.6 964.7L799.4 964.7M791.6 969.5L799.4 969.5M801.6 964.7L809.4 964.7M801.6 969.5L809.4 969.5M811.6 967.6L818.2 967.6M820.5 957.5L822.7 958.9L822.7 966.2L824.9 968.1L822.7 969.5L822.7 974.3L820.5 975.3M827 967.6L833.3 967.6M834.3 976.2L842.6 976.2M843.6 967.6L849.9 967.6M850.9 976.2L859.2 976.2M860.2 967.6L866.5 967.6M867.5 976.2L875.8 976.2M876.8 967.6L883.1 967.6M884.1 976.2L892.4 976.2M893.4 967.6L899.7 967.6M900.7 976.2L909 976.2M11.4 983.4L22.7 983.4M9.1 996.4L25 996.4M29.5 983.4L40.9 983.4M27.3 996.4L43.1 996.4M45.4 987.7L53.3 987.7M45.4 992.5L53.3 992.5M55.6 990.6L62.4 990.6M70.3 990.6L77.2 990.6M79.4 987.7L87.4 987.7M79.4 992.5L87.4 992.5M91.9 983.4L103.2 983.4M89.6 996.4L105.5 996.4M110 983.4L121.4 983.4M107.8 996.4L123.6 996.4M128.2 983.4L139.5 983.4M125.9 996.4L141.8 996.4M146.3 983.4L157.6 983.4M144 996.4L159.9 996.4M164.4 983.4L175.8 983.4M162.2 996.4L178 996.4M182.6 983.4L193.9 983.4M180.3 996.4L196.2 996.4M200.7 983.4L212.1 983.4M198.4 996.4L214.3 996.4M218.9 983.4L230.2 983.4M216.6 996.4L232.5 996.4M237 983.4L248.3 983.4M234.7 996.4L250.6 996.4M252.9 987.7L260.8 987.7M252.9 992.5L260.8 992.5M263.1 990.6L269.9 990.6M300.1 983.4L304.2 983.4L300.1 991.6L304.2 995.4L301.1 997.3M301.1 997.3L313.5 997.3M314.5 999.2L322.8 999.2M323.8 980.5L325.9 981.9L325.9 989.2L328 991.1L325.9 992.5L325.9 997.3L323.8 998.3M402 999.2L411.5 999.2M413.3 982.6L414.2 983.8M413.3 987.7L413.3 997.3M418.6 978.3L418.6 999.7M425.1 984.8L434.6 984.8M422.7 995.4L437 995.4M441.1 978.3L441.1 999.7M447.6 983.4L459.5 983.4M445.2 996.4L461.8 996.4M466.6 983.4L478.4 983.4M464.2 996.4L480.8 996.4M487.9 980.5L491.5 986.3L483.2 997.3M491.5 986.3L499.8 997.3M502.1 980.5L504.5 986.3L504.5 994.4L502.1 998.3M516.3 984.8L508 991.1L516.3 995.4M531.7 986.3L524.6 993.5M529.4 990.6L529.4 997.3M534.7 982.6L535.7 983.8M534.7 987.7L534.7 997.3M541.8 980.5L539.4 980.5L539.4 998.3L541.8 998.3M552.4 978.3L552.4 999.7M557.8 984.8L565.5 984.8M555.8 995.4L567.5 995.4M569.4 987.7L576.2 987.7M569.4 992.5L576.2 992.5M579.6 978.3L579.6 999.7M585 983.4L595 983.4M583 996.4L597 996.4M601 983.4L611 983.4M599 996.4L613 996.4M617 983.4L627 983.4M615 996.4L629 996.4M633.4 983.4L644.9 983.4M631.1 996.4L647.1 996.4M651.7 983.4L663.1 983.4M649.4 996.4L665.4 996.4M670 983.4L681.4 983.4M667.7 996.4L683.7 996.4M688.3 983.4L699.7 983.4M686 996.4L702 996.4M704.3 980.5L706.6 981.9L706.6 989.2L708.9 991.1L706.6 992.5L706.6 997.3L704.3 998.3M712.6 982.6L714 983.8M712.6 987.7L712.6 997.3M719.6 980.5L719.6 997.3M719.6 989.2L726.5 992.5M735.3 980.5L731.8 986.3L731.8 994.4L735.3 998.3M740.1 983.4L750.6 983.4M738 996.4L752.7 996.4M756.9 983.4L767.4 983.4M754.8 996.4L769.5 996.4M773.6 983.4L784.1 983.4M771.6 996.4L786.2 996.4M790.4 983.4L800.9 983.4M788.3 996.4L803 996.4M807.2 983.4L817.6 983.4M805.1 996.4L819.7 996.4M823.4 978.3L823.4 999.7M827 990.6L833.3 990.6M834.3 999.2L842.6 999.2M843.6 990.6L849.9 990.6M850.9 999.2L859.2 999.2M860.2 990.6L866.5 990.6M867.5 999.2L875.8 999.2M876.8 990.6L883.1 990.6M884.1 999.2L892.4 999.2M893.4 990.6L899.7 990.6M900.7 999.2L909 999.2M11.7 1006.4L24.1 1006.4M9.2 1019.4L26.6 1019.4M31.5 1006.4L43.9 1006.4M29 1019.4L46.3 1019.4M51.3 1006.4L63.7 1006.4M48.8 1019.4L66.1 1019.4M71.1 1006.4L83.5 1006.4M68.6 1019.4L85.9 1019.4M88.4 1010.7L97.1 1010.7M88.4 1015.5L97.1 1015.5M99.5 1013.6L107 1013.6M115.6 1013.6L123 1013.6M125.5 1010.7L134.2 1010.7M125.5 1015.5L134.2 1015.5M139.1 1006.4L151.5 1006.4M136.7 1019.4L154 1019.4M158.9 1006.4L171.3 1006.4M156.4 1019.4L173.8 1019.4M178.7 1006.4L191.1 1006.4M176.2 1019.4L193.6 1019.4M198.5 1006.4L210.9 1006.4M196 1019.4L213.4 1019.4M218.3 1006.4L230.7 1006.4M215.8 1019.4L233.1 1019.4M238.1 1006.4L250.5 1006.4M235.6 1019.4L252.9 1019.4M257.9 1006.4L270.3 1006.4M255.4 1019.4L272.7 1019.4M275.2 1010.7L283.9 1010.7M275.2 1015.5L283.9 1015.5M286.3 1013.6L293.8 1013.6M296.6 1021.3L318.4 1003.5M321.1 1006.4L334.8 1006.4M318.4 1019.4L337.6 1019.4M343.1 1006.4L356.8 1006.4M340.3 1019.4L359.5 1019.4M362.3 1003.5L365 1004.9L365 1012.2L367.8 1014.1L365 1015.5L365 1020.3L362.3 1021.3M371.2 1005.6L372.3 1006.8M371.2 1010.7L371.2 1020.3M376.7 1003.5L376.7 1020.3M376.7 1012.2L382.2 1015.5M385.6 1019.4L386.7 1020.1M391.1 1019.4L392.2 1020.1M397.3 1018.4L395.9 1021.3M406.5 1003.5L403.9 1004.9L403.9 1012.2L401.3 1014.1L403.9 1015.5L403.9 1020.3L406.5 1021.3M411.7 1006.4L424.6 1006.4M409.1 1019.4L427.2 1019.4M438.3 1001.3L438.3 1022.7M445.4 1007.8L455.8 1007.8M442.8 1018.4L458.4 1018.4M463.5 1007.8L473.9 1007.8M460.9 1018.4L476.5 1018.4M479.1 1010.7L479.1 1020.3M479.1 1013.6L484.3 1010.7M496 1007.8L486.9 1014.1L496 1018.4M498.5 1012.2L502.4 1006.4L507.6 1004.9L512.8 1006.4L516.7 1012.2M547.5 1005.6L548.3 1006.8M547.5 1010.7L547.5 1020.3M551.9 1001.3L551.9 1022.7M557.3 1007.8L565.2 1007.8M555.4 1018.4L567.2 1018.4M569.2 1010.7L576.1 1010.7M569.2 1015.5L576.1 1015.5M579.5 1001.3L579.5 1022.7M585 1006.4L595 1006.4M583 1019.4L597 1019.4M601 1006.4L611 1006.4M599 1019.4L613 1019.4M617 1006.4L627 1006.4M615 1019.4L629 1019.4M634.3 1006.4L648.8 1006.4M631.4 1019.4L651.7 1019.4M657.5 1006.4L671.9 1006.4M654.6 1019.4L674.8 1019.4M680.6 1006.4L695.1 1006.4M677.7 1019.4L698 1019.4M700.9 1007.8L711 1014.1L700.9 1018.4M716.8 1003.5L713.9 1009.3M722.6 1003.5L719.7 1009.3M727.1 1004.9L742 1004.9L736.3 1012.2M734 1009.3L732.8 1015.5L728.3 1020.3M744.8 1005.6L745.7 1006.8M744.8 1010.7L744.8 1020.3M748.4 1010.7L749.4 1011.9M748.4 1019.4L749.4 1020.1M752.2 1005.6L753.1 1006.8M752.2 1010.7L752.2 1020.3M755.9 1010.7L756.8 1011.9M755.9 1019.4L756.8 1020.1M759.6 1005.6L760.5 1006.8M759.6 1010.7L759.6 1020.3M763.3 1010.7L764.2 1011.9M763.3 1019.4L764.2 1020.1M767 1005.6L767.9 1006.8M767 1010.7L767 1020.3M772.2 1001.3L772.2 1022.7M776.5 1003.5L779.4 1004.9L779.4 1012.2L782.4 1014.1L779.4 1015.5L779.4 1020.3L776.5 1021.3M786.1 1005.6L787.3 1006.8M786.1 1010.7L786.1 1020.3M792 1003.5L792 1020.3M792 1012.2L797.9 1015.5M801.6 1019.4L802.8 1020.1M807.5 1019.4L808.7 1020.1M814.2 1018.4L812.7 1021.3M818.6 1003.5L821.6 1004.9L821.6 1012.2L824.5 1014.1L821.6 1015.5L821.6 1020.3L818.6 1021.3M827 1013.6L833.3 1013.6M834.3 1022.2L842.6 1022.2M843.6 1013.6L849.9 1013.6M850.9 1022.2L859.2 1022.2M860.2 1013.6L866.5 1013.6M867.5 1022.2L875.8 1022.2M876.8 1013.6L883.1 1013.6M884.1 1022.2L892.4 1022.2M893.4 1013.6L899.7 1013.6M900.7 1022.2L909 1022.2M9.3 1026.5L27.7 1044.3M34.2 1029.4L44.7 1029.4M32.1 1042.4L46.8 1042.4M51 1029.4L61.5 1029.4M48.9 1042.4L63.6 1042.4M67.8 1029.4L78.4 1029.4M65.7 1042.4L80.5 1042.4M84.7 1029.4L95.2 1029.4M82.6 1042.4L97.3 1042.4M101.5 1029.4L112.1 1029.4M99.4 1042.4L114.2 1042.4M116.3 1043.3L122.6 1026.5M125.2 1028.6L126.1 1029.8M125.2 1033.7L125.2 1043.3M128.9 1028.6L129.7 1029.8M128.9 1033.7L128.9 1043.3M132.1 1036.6L138.4 1036.6M140.5 1033.7L147.8 1033.7M140.5 1038.5L147.8 1038.5M152.1 1030.8L160.5 1030.8M149.9 1041.4L162.6 1041.4M166.8 1030.8L175.2 1030.8M164.7 1041.4L177.3 1041.4M179.4 1033.7L186.8 1033.7M179.4 1038.5L186.8 1038.5M188.9 1036.6L195.2 1036.6M202.6 1036.6L208.9 1036.6M211 1033.7L218.4 1033.7M211 1038.5L218.4 1038.5M220.5 1033.7L227.8 1033.7M220.5 1038.5L227.8 1038.5M232.1 1030.8L240.5 1030.8M229.9 1041.4L242.6 1041.4M244.7 1033.7L252.1 1033.7M244.7 1038.5L252.1 1038.5M254.2 1033.7L261.5 1033.7M254.2 1038.5L261.5 1038.5M263.6 1036.6L269.9 1036.6M272.5 1044.3L293.5 1026.5M298.1 1029.4L308.6 1029.4M296 1042.4L310.6 1042.4M314.8 1029.4L325.2 1029.4M312.7 1042.4L327.3 1042.4M331.5 1029.4L341.9 1029.4M329.4 1042.4L344 1042.4M348.2 1029.4L358.6 1029.4M346.1 1042.4L360.7 1042.4M364.8 1029.4L375.3 1029.4M362.8 1042.4L377.4 1042.4M381.5 1029.4L391.9 1029.4M379.4 1042.4L394 1042.4M397.7 1024.3L397.7 1045.7M403.4 1030.8L411.8 1030.8M401.3 1041.4L413.8 1041.4M415.9 1033.7L423.2 1033.7M415.9 1038.5L423.2 1038.5M426.9 1024.3L426.9 1045.7M432.6 1029.4L443 1029.4M430.5 1042.4L445.1 1042.4M449.3 1029.4L459.7 1029.4M447.2 1042.4L461.8 1042.4M464.9 1041.4L463.9 1044.3M473.3 1026.5L491 1044.3M493.5 1036.6L501.1 1036.6M503.6 1033.7L512.5 1033.7M503.6 1038.5L512.5 1038.5M531.5 1026.5L516.3 1032.3L531.5 1037.6M516.3 1039.5L531.5 1039.5M516.3 1042.4L531.5 1042.4M552.5 1026.5L547.5 1037.1L552.5 1044.3M558.8 1030.8L568.8 1030.8M556.3 1041.4L571.3 1041.4M573.8 1033.7L582.6 1033.7M573.8 1038.5L582.6 1038.5M585.1 1026.5L587.6 1027.9L587.6 1035.2L590.1 1037.1L587.6 1038.5L587.6 1043.3L585.1 1044.3M593.3 1028.6L594.3 1029.8M593.3 1033.7L593.3 1043.3M598.3 1026.5L598.3 1043.3M598.3 1035.2L603.3 1038.5M606.4 1042.4L607.4 1043.1M611.4 1042.4L612.4 1043.1M617.1 1041.4L615.8 1044.3M623.3 1029.4L635.9 1029.4M620.8 1042.4L638.4 1042.4M643.4 1029.4L655.9 1029.4M640.9 1042.4L658.4 1042.4M660.9 1030.8L669.7 1037.1L660.9 1041.4M674.7 1026.5L672.2 1032.3M679.7 1026.5L677.2 1032.3M686.4 1028.6L687.6 1029.8M686.4 1033.7L686.4 1043.3M691.4 1033.7L692.6 1034.9M691.4 1042.4L692.6 1043.1M696.6 1028.6L697.8 1029.8M696.6 1033.7L696.6 1043.3M701.6 1033.7L702.8 1034.9M701.6 1042.4L702.8 1043.1M706.8 1028.6L708 1029.8M706.8 1033.7L706.8 1043.3M711.8 1033.7L713 1034.9M711.8 1042.4L713 1043.1M717 1028.6L718.2 1029.8M717 1033.7L717 1043.3M722 1033.7L723.2 1034.9M722 1042.4L723.2 1043.1M727.2 1028.6L728.4 1029.8M727.2 1033.7L727.2 1043.3M731.9 1030.8L742.9 1037.1L731.9 1041.4M749.2 1026.5L746 1032.3M755.4 1026.5L752.3 1032.3M758.9 1028.6L759.8 1029.8M758.9 1033.7L758.9 1043.3M763.2 1028.6L764.2 1029.8M763.2 1033.7L763.2 1043.3M768.7 1024.3L768.7 1045.7M773.7 1028.6L774.7 1029.8M773.7 1033.7L773.7 1043.3M777.6 1033.7L778.6 1034.9M777.6 1042.4L778.6 1043.1M781.7 1028.6L782.7 1029.8M781.7 1033.7L781.7 1043.3M785.7 1033.7L786.6 1034.9M785.7 1042.4L786.6 1043.1M789.7 1028.6L790.7 1029.8M789.7 1033.7L789.7 1043.3M793.7 1033.7L794.7 1034.9M793.7 1042.4L794.7 1043.1M797.8 1028.6L798.8 1029.8M797.8 1033.7L797.8 1043.3M801.7 1033.7L802.7 1034.9M801.7 1042.4L802.7 1043.1M805.8 1028.6L806.8 1029.8M805.8 1033.7L805.8 1043.3M809.7 1033.7L810.7 1034.9M809.7 1042.4L810.7 1043.1M813.8 1028.6L814.8 1029.8M813.8 1033.7L813.8 1043.3M817.8 1033.7L818.8 1034.9M817.8 1042.4L818.8 1043.1M822.9 1035.2L825.8 1029.4L829.5 1027.9L833.2 1029.4L836.1 1035.2M841.6 1026.5L844.9 1027.9L844.9 1035.2L848.2 1037.1L844.9 1038.5L844.9 1043.3L841.6 1044.3M852.4 1028.6L853.7 1029.8M852.4 1033.7L852.4 1043.3M859 1026.5L859 1043.3M859 1035.2L865.6 1038.5M869.7 1042.4L871 1043.1M876.3 1042.4L877.6 1043.1M883.7 1041.4L882.1 1044.3M889.9 1036.6L895.4 1036.6M896.3 1045.2L903.7 1045.2M904.6 1036.6L910.1 1036.6M30.3 1049.5L48.7 1067.3M50.3 1059.6L58 1059.6M60.6 1056.7L69.7 1056.7M60.6 1061.5L69.7 1061.5M74.9 1052.4L87.8 1052.4M72.3 1065.4L90.4 1065.4M93 1066.3L100.7 1049.5M104.1 1051.6L105.2 1052.8M104.1 1056.7L104.1 1066.3M108.6 1056.7L109.8 1057.9M108.6 1065.4L109.8 1066.1M113.3 1051.6L114.4 1052.8M113.3 1056.7L113.3 1066.3M117.8 1056.7L119 1057.9M117.8 1065.4L119 1066.1M122.5 1051.6L123.6 1052.8M122.5 1056.7L122.5 1066.3M127 1056.7L128.1 1057.9M127 1065.4L128.1 1066.1M131.7 1051.6L132.8 1052.8M131.7 1056.7L131.7 1066.3M136.2 1056.7L137.3 1057.9M136.2 1065.4L137.3 1066.1M140.8 1051.6L142 1052.8M140.8 1056.7L140.8 1066.3M145.4 1056.7L146.5 1057.9M145.4 1065.4L146.5 1066.1M150 1051.6L151.2 1052.8M150 1056.7L150 1066.3M154.5 1056.7L155.7 1057.9M154.5 1065.4L155.7 1066.1M159.2 1051.6L160.3 1052.8M159.2 1056.7L159.2 1066.3M163.4 1059.6L171.9 1059.6M174.7 1056.7L184.6 1056.7M174.7 1061.5L184.6 1061.5M188.2 1051.6L189.3 1052.8M188.2 1056.7L188.2 1066.3M193.1 1051.6L194.2 1052.8M193.1 1056.7L193.1 1066.3M197.3 1049.5L200.9 1053.8M203.9 1055.3L217.2 1055.3M213.4 1049.5L213.4 1066.3L211.5 1065.4M206.8 1059.6L208.7 1062.5M220.9 1052.4L230.4 1052.4M219.1 1065.4L232.3 1065.4M236.1 1052.4L245.5 1052.4M234.2 1065.4L247.4 1065.4M251.2 1052.4L260.6 1052.4M249.3 1065.4L262.5 1065.4M264.4 1066.3L270.1 1049.5M274.8 1052.4L287.6 1052.4M272.3 1065.4L290.1 1065.4M292.7 1056.7L301.6 1056.7M292.7 1061.5L301.6 1061.5M305.4 1064.4L304.2 1067.3M309.3 1067.3L327.7 1049.5M333.3 1059.6L341.3 1059.6M342.6 1068.2L353.2 1068.2M354.5 1059.6L362.5 1059.6M363.8 1068.2L374.4 1068.2M375.7 1059.6L383.7 1059.6M386.8 1047.3L386.8 1068.7M392.8 1053.8L401.7 1053.8M390.6 1064.4L403.9 1064.4M408.3 1053.8L417.2 1053.8M406.1 1064.4L419.4 1064.4M423.3 1047.3L423.3 1068.7M429.3 1052.4L440.4 1052.4M427.1 1065.4L442.6 1065.4M447 1052.4L458.1 1052.4M444.8 1065.4L460.3 1065.4M464.7 1052.4L475.8 1052.4M462.5 1065.4L478 1065.4M482.4 1052.4L493.5 1052.4M480.2 1065.4L495.7 1065.4M500.1 1052.4L511.2 1052.4M497.9 1065.4L513.4 1065.4M515.6 1049.5L517.8 1055.3L517.8 1063.4L515.6 1067.3M527.9 1050.9L533.1 1050.9L529.6 1066.3M559.9 1058.2L562.5 1052.4L566 1050.9L569.5 1052.4L572.1 1058.2M582 1049.5L593.6 1055.3L582 1060.6M582 1062.5L593.6 1062.5M582 1065.4L593.6 1065.4M596.6 1056.7L603.4 1056.7M596.6 1061.5L603.4 1061.5M617 1049.5L606.3 1061.5M612.2 1055.3L612.2 1066.3M627.5 1055.3L637.9 1062.5M643.1 1049.5L647.4 1053.8M652.2 1051.6L653.3 1052.8M652.2 1056.7L652.2 1066.3M656.8 1056.7L657.9 1057.9M656.8 1065.4L657.9 1066.1M661.5 1051.6L662.7 1052.8M661.5 1056.7L661.5 1066.3M666.1 1056.7L667.3 1057.9M666.1 1065.4L667.3 1066.1M670.9 1051.6L672 1052.8M670.9 1056.7L670.9 1066.3M675.5 1056.7L676.7 1057.9M675.5 1065.4L676.7 1066.1M680.3 1051.6L681.4 1052.8M680.3 1056.7L680.3 1066.3M684.9 1056.7L686 1057.9M684.9 1065.4L686 1066.1M689.6 1051.6L690.8 1052.8M689.6 1056.7L689.6 1066.3M693.9 1053.8L704 1060.1L693.9 1064.4M709.8 1049.5L706.9 1055.3M715.6 1049.5L712.7 1055.3M718.7 1051.6L719.6 1052.8M718.7 1056.7L718.7 1066.3M722.4 1056.7L723.3 1057.9M722.4 1065.4L723.3 1066.1M726.2 1051.6L727.1 1052.8M726.2 1056.7L726.2 1066.3M729.9 1056.7L730.8 1057.9M729.9 1065.4L730.8 1066.1M733.7 1051.6L734.6 1052.8M733.7 1056.7L733.7 1066.3M737.3 1056.7L738.2 1057.9M737.3 1065.4L738.2 1066.1M741.1 1051.6L742 1052.8M741.1 1056.7L741.1 1066.3M744.8 1056.7L745.7 1057.9M744.8 1065.4L745.7 1066.1M748.6 1051.6L749.5 1052.8M748.6 1056.7L748.6 1066.3M752.3 1056.7L753.2 1057.9M752.3 1065.4L753.2 1066.1M756 1051.6L757 1052.8M756 1056.7L756 1066.3M759.7 1056.7L760.6 1057.9M759.7 1065.4L760.6 1066.1M763.5 1051.6L764.4 1052.8M763.5 1056.7L763.5 1066.3M767.2 1056.7L768.1 1057.9M767.2 1065.4L768.1 1066.1M772.1 1047.3L772.1 1068.7M776.8 1051.6L777.8 1052.8M776.8 1056.7L776.8 1066.3M780.7 1056.7L781.7 1057.9M780.7 1065.4L781.7 1066.1M784.7 1051.6L785.7 1052.8M784.7 1056.7L784.7 1066.3M788.6 1056.7L789.6 1057.9M788.6 1065.4L789.6 1066.1M792.6 1051.6L793.6 1052.8M792.6 1056.7L792.6 1066.3M796.5 1056.7L797.4 1057.9M796.5 1065.4L797.4 1066.1M800.5 1051.6L801.4 1052.8M800.5 1056.7L800.5 1066.3M804.3 1056.7L805.3 1057.9M804.3 1065.4L805.3 1066.1M808.3 1051.6L809.3 1052.8M808.3 1056.7L808.3 1066.3M812.2 1056.7L813.2 1057.9M812.2 1065.4L813.2 1066.1M816.2 1051.6L817.2 1052.8M816.2 1056.7L816.2 1066.3M820.1 1056.7L821.1 1057.9M820.1 1065.4L821.1 1066.1M824.1 1051.6L825.1 1052.8M824.1 1056.7L824.1 1066.3M828 1056.7L829 1057.9M828 1065.4L829 1066.1M832 1051.6L833 1052.8M832 1056.7L832 1066.3M835.9 1056.7L836.8 1057.9M835.9 1065.4L836.8 1066.1M839.9 1051.6L840.8 1052.8M839.9 1056.7L839.9 1066.3M843.8 1056.7L844.7 1057.9M843.8 1065.4L844.7 1066.1M847.8 1051.6L848.7 1052.8M847.8 1056.7L847.8 1066.3M851.6 1056.7L852.6 1057.9M851.6 1065.4L852.6 1066.1M855.6 1051.6L856.6 1052.8M855.6 1056.7L855.6 1066.3M859.5 1056.7L860.5 1057.9M859.5 1065.4L860.5 1066.1M863.5 1051.6L864.5 1052.8M863.5 1056.7L863.5 1066.3M867.4 1056.7L868.4 1057.9M867.4 1065.4L868.4 1066.1M871.4 1051.6L872.4 1052.8M871.4 1056.7L871.4 1066.3M875.3 1056.7L876.3 1057.9M875.3 1065.4L876.3 1066.1M879.3 1051.6L880.3 1052.8M879.3 1056.7L879.3 1066.3M883.2 1056.7L884.1 1057.9M883.2 1065.4L884.1 1066.1M887.2 1051.6L888.1 1052.8M887.2 1056.7L887.2 1066.3M891.1 1056.7L892 1057.9M891.1 1065.4L892 1066.1M895.1 1051.6L896 1052.8M895.1 1056.7L895.1 1066.3M898.9 1056.7L899.9 1057.9M898.9 1065.4L899.9 1066.1M902.9 1051.6L903.9 1052.8M902.9 1056.7L902.9 1066.3M906.8 1056.7L907.8 1057.9M906.8 1065.4L907.8 1066.1M51.3 1072.5L69.7 1090.3M72.1 1079.7L79.5 1079.7M72.1 1084.5L79.5 1084.5M81.6 1089.3L87.9 1072.5M90.9 1074.6L91.9 1075.8M90.9 1079.7L90.9 1089.3M94.8 1079.7L95.8 1080.9M94.8 1088.4L95.8 1089.1M98.9 1074.6L99.9 1075.8M98.9 1079.7L98.9 1089.3M102.9 1079.7L103.9 1080.9M102.9 1088.4L103.9 1089.1M107 1074.6L108 1075.8M107 1079.7L107 1089.3M111 1079.7L112 1080.9M111 1088.4L112 1089.1M115.1 1074.6L116.1 1075.8M115.1 1079.7L115.1 1089.3M119 1079.7L120 1080.9M119 1088.4L120 1089.1M123.1 1074.6L124.1 1075.8M123.1 1079.7L123.1 1089.3M127.1 1079.7L128.1 1080.9M127.1 1088.4L128.1 1089.1M131.2 1074.6L132.2 1075.8M131.2 1079.7L131.2 1089.3M135.2 1079.7L136.2 1080.9M135.2 1088.4L136.2 1089.1M139.3 1074.6L140.3 1075.8M139.3 1079.7L139.3 1089.3M143.2 1079.7L144.2 1080.9M143.2 1088.4L144.2 1089.1M147.3 1074.6L148.3 1075.8M147.3 1079.7L147.3 1089.3M151.3 1079.7L152.3 1080.9M151.3 1088.4L152.3 1089.1M155.4 1074.6L156.4 1075.8M155.4 1079.7L155.4 1089.3M159.4 1079.7L160.4 1080.9M159.4 1088.4L160.4 1089.1M163.5 1074.6L164.5 1075.8M163.5 1079.7L163.5 1089.3M167.4 1079.7L168.4 1080.9M167.4 1088.4L168.4 1089.1M170.9 1088.4L178.4 1073.9L185.8 1088.4M188.9 1074.6L189.9 1075.8M188.9 1079.7L188.9 1089.3M192.9 1079.7L193.9 1080.9M192.9 1088.4L193.9 1089.1M197 1074.6L198 1075.8M197 1079.7L197 1089.3M200.9 1079.7L201.9 1080.9M200.9 1088.4L201.9 1089.1M205 1074.6L206 1075.8M205 1079.7L205 1089.3M209 1079.7L210 1080.9M209 1088.4L210 1089.1M212.5 1073.9L216.2 1088.4L219.9 1073.9M223.7 1073.9L223.7 1088.4M229.9 1075.4L242.3 1075.4M227.4 1088.4L244.8 1088.4M253.2 1089.3L260.2 1072.5M264.8 1075.4L276.5 1075.4M262.5 1088.4L278.8 1088.4M283.5 1075.4L295.2 1075.4M281.2 1088.4L297.5 1088.4M299.8 1089.3L306.8 1072.5M309 1082.6L315.2 1082.6M316.2 1091.2L324.4 1091.2M325.4 1082.6L331.5 1082.6M332.5 1091.2L340.7 1091.2M341.7 1082.6L347.9 1082.6M348.9 1091.2L357.1 1091.2M358.6 1088.4L359.4 1089.1M365.2 1075.4L367.3 1078.3M364.2 1081.2L366.3 1083.6M362.2 1085.5L376.5 1084.5M372.4 1072.5L372.4 1090.3M378.5 1079.7L378.5 1089.3M378.5 1082.6L382.6 1079.7M398 1072.5L385.7 1078.3L398 1083.6M385.7 1085.5L398 1085.5M385.7 1088.4L398 1088.4M401.3 1072.5L403.8 1073.9L403.8 1081.2L406.3 1083.1L403.8 1084.5L403.8 1089.3L401.3 1090.3M409.5 1074.6L410.5 1075.8M409.5 1079.7L409.5 1089.3M414.5 1072.5L414.5 1089.3M414.5 1081.2L419.5 1084.5M422.7 1088.4L423.7 1089.1M427.7 1088.4L428.7 1089.1M433.4 1087.4L432.1 1090.3M439.7 1075.4L452.3 1075.4M437.2 1088.4L454.8 1088.4M459.9 1075.4L472.5 1075.4M457.4 1088.4L475 1088.4M480 1075.4L492.7 1075.4M477.5 1088.4L495.2 1088.4M497.7 1072.5L500.2 1073.9L500.2 1081.2L502.7 1083.1L500.2 1084.5L500.2 1089.3L497.7 1090.3M519.1 1089.3L525.9 1072.5M567 1088.4L567.6 1089.1M569.5 1086.4L571.6 1089.3M588.1 1078.3L597.3 1085.5M601.9 1072.5L605.7 1076.8M610.4 1074.6L611.7 1075.8M610.4 1079.7L610.4 1089.3M615.5 1079.7L616.8 1080.9M615.5 1088.4L616.8 1089.1M620.8 1074.6L622.1 1075.8M620.8 1079.7L620.8 1089.3M625.9 1079.7L627.2 1080.9M625.9 1088.4L627.2 1089.1M631.2 1074.6L632.5 1075.8M631.2 1079.7L631.2 1089.3M636.3 1079.7L637.6 1080.9M636.3 1088.4L637.6 1089.1M641.6 1074.6L642.9 1075.8M641.6 1079.7L641.6 1089.3M646.4 1076.8L657.6 1083.1L646.4 1087.4M664 1072.5L660.8 1078.3M670.4 1072.5L667.2 1078.3M673.9 1074.6L674.9 1075.8M673.9 1079.7L673.9 1089.3M677.8 1079.7L678.8 1080.9M677.8 1088.4L678.8 1089.1M681.9 1074.6L682.9 1075.8M681.9 1079.7L681.9 1089.3M685.9 1079.7L686.9 1080.9M685.9 1088.4L686.9 1089.1M690 1074.6L691 1075.8M690 1079.7L690 1089.3M694 1079.7L695 1080.9M694 1088.4L695 1089.1M698.1 1074.6L699.1 1075.8M698.1 1079.7L698.1 1089.3M702 1079.7L703 1080.9M702 1088.4L703 1089.1M706.1 1074.6L707.1 1075.8M706.1 1079.7L706.1 1089.3M710.1 1079.7L711.1 1080.9M710.1 1088.4L711.1 1089.1M714.2 1074.6L715.2 1075.8M714.2 1079.7L714.2 1089.3M718.2 1079.7L719.2 1080.9M718.2 1088.4L719.2 1089.1M722.3 1074.6L723.3 1075.8M722.3 1079.7L722.3 1089.3M726.2 1079.7L727.2 1080.9M726.2 1088.4L727.2 1089.1M730.3 1074.6L731.3 1075.8M730.3 1079.7L730.3 1089.3M734.3 1079.7L735.3 1080.9M734.3 1088.4L735.3 1089.1M738.4 1074.6L739.4 1075.8M738.4 1079.7L738.4 1089.3M742.4 1079.7L743.4 1080.9M742.4 1088.4L743.4 1089.1M746.5 1074.6L747.5 1075.8M746.5 1079.7L746.5 1089.3M750.4 1079.7L751.4 1080.9M750.4 1088.4L751.4 1089.1M754.5 1074.6L755.5 1075.8M754.5 1079.7L754.5 1089.3M758.5 1079.7L759.5 1080.9M758.5 1088.4L759.5 1089.1M762.6 1074.6L763.6 1075.8M762.6 1079.7L762.6 1089.3M766.6 1079.7L767.6 1080.9M766.6 1088.4L767.6 1089.1M771.9 1070.3L771.9 1091.7M776.8 1074.6L777.8 1075.8M776.8 1079.7L776.8 1089.3M780.7 1079.7L781.7 1080.9M780.7 1088.4L781.7 1089.1M784.7 1074.6L785.7 1075.8M784.7 1079.7L784.7 1089.3M788.6 1079.7L789.6 1080.9M788.6 1088.4L789.6 1089.1M792.6 1074.6L793.6 1075.8M792.6 1079.7L792.6 1089.3M796.5 1079.7L797.4 1080.9M796.5 1088.4L797.4 1089.1M800.5 1074.6L801.4 1075.8M800.5 1079.7L800.5 1089.3M804.3 1079.7L805.3 1080.9M804.3 1088.4L805.3 1089.1M808.3 1074.6L809.3 1075.8M808.3 1079.7L808.3 1089.3M812.2 1079.7L813.2 1080.9M812.2 1088.4L813.2 1089.1M816.2 1074.6L817.2 1075.8M816.2 1079.7L816.2 1089.3M820.1 1079.7L821.1 1080.9M820.1 1088.4L821.1 1089.1M824.1 1074.6L825.1 1075.8M824.1 1079.7L824.1 1089.3M828 1079.7L829 1080.9M828 1088.4L829 1089.1M832 1074.6L833 1075.8M832 1079.7L832 1089.3M835.9 1079.7L836.8 1080.9M835.9 1088.4L836.8 1089.1M839.9 1074.6L840.8 1075.8M839.9 1079.7L839.9 1089.3M843.8 1079.7L844.7 1080.9M843.8 1088.4L844.7 1089.1M847.8 1074.6L848.7 1075.8M847.8 1079.7L847.8 1089.3M851.6 1079.7L852.6 1080.9M851.6 1088.4L852.6 1089.1M855.6 1074.6L856.6 1075.8M855.6 1079.7L855.6 1089.3M859.5 1079.7L860.5 1080.9M859.5 1088.4L860.5 1089.1M863.5 1074.6L864.5 1075.8M863.5 1079.7L863.5 1089.3M867.4 1079.7L868.4 1080.9M867.4 1088.4L868.4 1089.1M871.4 1074.6L872.4 1075.8M871.4 1079.7L871.4 1089.3M875.3 1079.7L876.3 1080.9M875.3 1088.4L876.3 1089.1M879.3 1074.6L880.3 1075.8M879.3 1079.7L879.3 1089.3M883.2 1079.7L884.1 1080.9M883.2 1088.4L884.1 1089.1M887.2 1074.6L888.1 1075.8M887.2 1079.7L887.2 1089.3M891.1 1079.7L892 1080.9M891.1 1088.4L892 1089.1M895.1 1074.6L896 1075.8M895.1 1079.7L895.1 1089.3M898.9 1079.7L899.9 1080.9M898.9 1088.4L899.9 1089.1M902.9 1074.6L903.9 1075.8M902.9 1079.7L902.9 1089.3M906.8 1079.7L907.8 1080.9M906.8 1088.4L907.8 1089.1M73.4 1096.9L77.7 1111.4L81.9 1096.9M86.2 1096.9L86.2 1111.4M90.9 1097.6L91.9 1098.8M90.9 1102.7L90.9 1112.3M94.8 1102.7L95.8 1103.9M94.8 1111.4L95.8 1112.1M99 1097.6L100 1098.8M99 1102.7L99 1112.3M102.9 1102.7L103.9 1103.9M102.9 1111.4L103.9 1112.1M107 1097.6L108 1098.8M107 1102.7L107 1112.3M111 1102.7L112 1103.9M111 1111.4L112 1112.1M115.1 1097.6L116.1 1098.8M115.1 1102.7L115.1 1112.3M119.1 1102.7L120.1 1103.9M119.1 1111.4L120.1 1112.1M123.2 1097.6L124.2 1098.8M123.2 1102.7L123.2 1112.3M127.2 1102.7L128.2 1103.9M127.2 1111.4L128.2 1112.1M131.3 1097.6L132.3 1098.8M131.3 1102.7L131.3 1112.3M135.3 1102.7L136.3 1103.9M135.3 1111.4L136.3 1112.1M139.4 1097.6L140.4 1098.8M139.4 1102.7L139.4 1112.3M143.4 1102.7L144.4 1103.9M143.4 1111.4L144.4 1112.1M147.5 1097.6L148.5 1098.8M147.5 1102.7L147.5 1112.3M151.5 1102.7L152.5 1103.9M151.5 1111.4L152.5 1112.1M155.6 1097.6L156.6 1098.8M155.6 1102.7L155.6 1112.3M159.6 1102.7L160.6 1103.9M159.6 1111.4L160.6 1112.1M163.7 1097.6L164.7 1098.8M163.7 1102.7L163.7 1112.3M167.7 1102.7L168.7 1103.9M167.7 1111.4L168.7 1112.1M171.1 1112.3L178.6 1095.5M181.7 1097.6L182.7 1098.8M181.7 1102.7L181.7 1112.3M185.7 1102.7L186.7 1103.9M185.7 1111.4L186.7 1112.1M189.8 1097.6L190.8 1098.8M189.8 1102.7L189.8 1112.3M193.8 1102.7L194.8 1103.9M193.8 1111.4L194.8 1112.1M197.3 1112.3L204.8 1095.5M209.7 1099.8L219.5 1099.8M207.2 1110.4L222 1110.4M224.4 1102.7L233 1102.7M224.4 1107.5L233 1107.5M236.1 1095.5L236.1 1108.5M236.1 1111.4L237.1 1112.1M240.4 1112.3L247.8 1095.5M253.4 1098.4L268.2 1098.4M250.5 1111.4L271.1 1111.4M277 1098.4L291.8 1098.4M274.1 1111.4L294.7 1111.4M297.7 1112.3L306.5 1095.5M309.2 1105.6L316.7 1105.6M319.2 1102.7L327.8 1102.7M319.2 1107.5L327.8 1107.5M330.9 1097.6L331.9 1098.8M330.9 1102.7L330.9 1112.3M334.9 1102.7L335.9 1103.9M334.9 1111.4L335.9 1112.1M339 1097.6L340 1098.8M339 1102.7L339 1112.3M343 1102.7L344 1103.9M343 1111.4L344 1112.1M347 1097.6L348 1098.8M347 1102.7L347 1112.3M351 1102.7L352 1103.9M351 1111.4L352 1112.1M355.1 1097.6L356.1 1098.8M355.1 1102.7L355.1 1112.3M359.1 1102.7L360.1 1103.9M359.1 1111.4L360.1 1112.1M363.2 1097.6L364.2 1098.8M363.2 1102.7L363.2 1112.3M367.1 1102.7L368.1 1103.9M367.1 1111.4L368.1 1112.1M371.2 1097.6L372.2 1098.8M371.2 1102.7L371.2 1112.3M375.2 1102.7L376.2 1103.9M375.2 1111.4L376.2 1112.1M379.3 1097.6L380.3 1098.8M379.3 1102.7L379.3 1112.3M383.2 1102.7L384.2 1103.9M383.2 1111.4L384.2 1112.1M387.3 1097.6L388.3 1098.8M387.3 1102.7L387.3 1112.3M391.3 1102.7L392.3 1103.9M391.3 1111.4L392.3 1112.1M395.4 1097.6L396.4 1098.8M395.4 1102.7L395.4 1112.3M399.4 1102.7L400.4 1103.9M399.4 1111.4L400.4 1112.1M403.5 1097.6L404.4 1098.8M403.5 1102.7L403.5 1112.3M407.4 1102.7L408.4 1103.9M407.4 1111.4L408.4 1112.1M411.5 1097.6L412.5 1098.8M411.5 1102.7L411.5 1112.3M415.5 1102.7L416.5 1103.9M415.5 1111.4L416.5 1112.1M419.6 1097.6L420.6 1098.8M419.6 1102.7L419.6 1112.3M423.5 1102.7L424.5 1103.9M423.5 1111.4L424.5 1112.1M427.6 1097.6L428.6 1098.8M427.6 1102.7L427.6 1112.3M431.6 1102.7L432.6 1103.9M431.6 1111.4L432.6 1112.1M435.7 1097.6L436.7 1098.8M435.7 1102.7L435.7 1112.3M439.7 1102.7L440.6 1103.9M439.7 1111.4L440.6 1112.1M443.7 1097.6L444.7 1098.8M443.7 1102.7L443.7 1112.3M447.7 1102.7L448.7 1103.9M447.7 1111.4L448.7 1112.1M451.8 1097.6L452.8 1098.8M451.8 1102.7L451.8 1112.3M455.8 1102.7L456.8 1103.9M455.8 1111.4L456.8 1112.1M461.8 1098.4L474.2 1098.4M459.2 1111.4L476.8 1111.4M481.8 1098.4L494.2 1098.4M479.2 1111.4L496.8 1111.4M499.2 1095.5L499.2 1112.3L506.8 1112.3M520.5 1110.4L519.3 1113.3M534.5 1101.3L544.9 1108.5M550.1 1095.5L554.4 1099.8M561.2 1097.6L562.5 1098.8M561.2 1102.7L561.2 1112.3M566 1102.7L567.2 1103.9M566 1111.4L567.2 1112.1M571 1097.6L572.2 1098.8M571 1102.7L571 1112.3M575.8 1102.7L577 1103.9M575.8 1111.4L577 1112.1M580.8 1097.6L582 1098.8M580.8 1102.7L580.8 1112.3M585.5 1102.7L586.8 1103.9M585.5 1111.4L586.8 1112.1M590.5 1097.6L591.7 1098.8M590.5 1102.7L590.5 1112.3M595 1099.8L605.5 1106.1L595 1110.4M611.5 1095.5L608.5 1101.3M617.5 1095.5L614.5 1101.3M625.9 1097.6L626.8 1098.8M625.9 1102.7L625.9 1112.3M629.8 1102.7L630.8 1103.9M629.8 1111.4L630.8 1112.1M633.9 1097.6L634.9 1098.8M633.9 1102.7L633.9 1112.3M637.9 1102.7L638.9 1103.9M637.9 1111.4L638.9 1112.1M641.9 1097.6L642.9 1098.8M641.9 1102.7L641.9 1112.3M645.9 1102.7L646.9 1103.9M645.9 1111.4L646.9 1112.1M650 1097.6L651 1098.8M650 1102.7L650 1112.3M654 1102.7L654.9 1103.9M654 1111.4L654.9 1112.1M658 1097.6L659 1098.8M658 1102.7L658 1112.3M662 1102.7L663 1103.9M662 1111.4L663 1112.1M666.1 1097.6L667.1 1098.8M666.1 1102.7L666.1 1112.3M670 1102.7L671 1103.9M670 1111.4L671 1112.1M674.1 1097.6L675.1 1098.8M674.1 1102.7L674.1 1112.3M678.1 1102.7L679.1 1103.9M678.1 1111.4L679.1 1112.1M682.2 1097.6L683.2 1098.8M682.2 1102.7L682.2 1112.3M686.1 1102.7L687.1 1103.9M686.1 1111.4L687.1 1112.1M690.2 1097.6L691.2 1098.8M690.2 1102.7L690.2 1112.3M694.2 1102.7L695.2 1103.9M694.2 1111.4L695.2 1112.1M698.3 1097.6L699.3 1098.8M698.3 1102.7L698.3 1112.3M702.2 1102.7L703.2 1103.9M702.2 1111.4L703.2 1112.1M706.3 1097.6L707.3 1098.8M706.3 1102.7L706.3 1112.3M710.3 1102.7L711.3 1103.9M710.3 1111.4L711.3 1112.1M714.4 1097.6L715.3 1098.8M714.4 1102.7L714.4 1112.3M718.3 1102.7L719.3 1103.9M718.3 1111.4L719.3 1112.1M722.4 1097.6L723.4 1098.8M722.4 1102.7L722.4 1112.3M726.4 1102.7L727.3 1103.9M726.4 1111.4L727.3 1112.1M730.4 1097.6L731.4 1098.8M730.4 1102.7L730.4 1112.3M734.4 1102.7L735.4 1103.9M734.4 1111.4L735.4 1112.1M738.5 1097.6L739.5 1098.8M738.5 1102.7L738.5 1112.3M742.4 1102.7L743.4 1103.9M742.4 1111.4L743.4 1112.1M746.5 1097.6L747.5 1098.8M746.5 1102.7L746.5 1112.3M750.5 1102.7L751.5 1103.9M750.5 1111.4L751.5 1112.1M754.6 1097.6L755.6 1098.8M754.6 1102.7L754.6 1112.3M758.5 1102.7L759.5 1103.9M758.5 1111.4L759.5 1112.1M762.6 1097.6L763.6 1098.8M762.6 1102.7L762.6 1112.3M766.6 1102.7L767.6 1103.9M766.6 1111.4L767.6 1112.1M771.9 1093.3L771.9 1114.7M776.8 1097.6L777.8 1098.8M776.8 1102.7L776.8 1112.3M780.7 1102.7L781.7 1103.9M780.7 1111.4L781.7 1112.1M784.7 1097.6L785.7 1098.8M784.7 1102.7L784.7 1112.3M788.6 1102.7L789.6 1103.9M788.6 1111.4L789.6 1112.1M792.6 1097.6L793.6 1098.8M792.6 1102.7L792.6 1112.3M796.5 1102.7L797.4 1103.9M796.5 1111.4L797.4 1112.1M800.5 1097.6L801.4 1098.8M800.5 1102.7L800.5 1112.3M804.3 1102.7L805.3 1103.9M804.3 1111.4L805.3 1112.1M808.3 1097.6L809.3 1098.8M808.3 1102.7L808.3 1112.3M812.2 1102.7L813.2 1103.9M812.2 1111.4L813.2 1112.1M816.2 1097.6L817.2 1098.8M816.2 1102.7L816.2 1112.3M820.1 1102.7L821.1 1103.9M820.1 1111.4L821.1 1112.1M824.1 1097.6L825.1 1098.8M824.1 1102.7L824.1 1112.3M828 1102.7L829 1103.9M828 1111.4L829 1112.1M832 1097.6L833 1098.8M832 1102.7L832 1112.3M835.9 1102.7L836.8 1103.9M835.9 1111.4L836.8 1112.1M839.9 1097.6L840.8 1098.8M839.9 1102.7L839.9 1112.3M843.8 1102.7L844.7 1103.9M843.8 1111.4L844.7 1112.1M847.8 1097.6L848.7 1098.8M847.8 1102.7L847.8 1112.3M851.6 1102.7L852.6 1103.9M851.6 1111.4L852.6 1112.1M855.6 1097.6L856.6 1098.8M855.6 1102.7L855.6 1112.3M859.5 1102.7L860.5 1103.9M859.5 1111.4L860.5 1112.1M863.5 1097.6L864.5 1098.8M863.5 1102.7L863.5 1112.3M867.4 1102.7L868.4 1103.9M867.4 1111.4L868.4 1112.1M871.4 1097.6L872.4 1098.8M871.4 1102.7L871.4 1112.3M875.3 1102.7L876.3 1103.9M875.3 1111.4L876.3 1112.1M879.3 1097.6L880.3 1098.8M879.3 1102.7L879.3 1112.3M883.2 1102.7L884.1 1103.9M883.2 1111.4L884.1 1112.1M887.2 1097.6L888.1 1098.8M887.2 1102.7L887.2 1112.3M891.1 1102.7L892 1103.9M891.1 1111.4L892 1112.1M895.1 1097.6L896 1098.8M895.1 1102.7L895.1 1112.3M898.9 1102.7L899.9 1103.9M898.9 1111.4L899.9 1112.1M902.9 1097.6L903.9 1098.8M902.9 1102.7L902.9 1112.3M906.8 1102.7L907.8 1103.9M906.8 1111.4L907.8 1112.1M81.5 1119.9L86 1134.4L90.5 1119.9M95 1119.9L95 1134.4M100.3 1120.6L101.5 1121.8M100.3 1125.7L100.3 1135.3M105.7 1120.6L106.9 1121.8M105.7 1125.7L105.7 1135.3M111.1 1120.6L112.3 1121.8M111.1 1125.7L111.1 1135.3M116.4 1120.6L117.7 1121.8M116.4 1125.7L116.4 1135.3M121.8 1120.6L123.1 1121.8M121.8 1125.7L121.8 1135.3M127.2 1120.6L128.4 1121.8M127.2 1125.7L127.2 1135.3M132.6 1120.6L133.8 1121.8M132.6 1125.7L132.6 1135.3M138 1120.6L139.2 1121.8M138 1125.7L138 1135.3M143.4 1120.6L144.6 1121.8M143.4 1125.7L143.4 1135.3M148.3 1125.7L149.5 1126.9M148.3 1134.4L149.5 1135.1M152.6 1135.3L161.8 1118.5M165.6 1120.6L166.9 1121.8M165.6 1125.7L165.6 1135.3M170.6 1125.7L171.8 1126.9M170.6 1134.4L171.8 1135.1M175.6 1120.6L176.9 1121.8M175.6 1125.7L175.6 1135.3M180.6 1125.7L181.8 1126.9M180.6 1134.4L181.8 1135.1M185.6 1120.6L186.9 1121.8M185.6 1125.7L185.6 1135.3M190.2 1135.3L199.5 1118.5M202.5 1125.7L213.3 1125.7M202.5 1130.5L213.3 1130.5M217.9 1133.4L216.4 1136.3M221 1137.2L230.9 1137.2M232.8 1134.4L233.8 1135.1M240.8 1121.4L243.3 1124.3M239.6 1127.2L242.1 1129.6M237.1 1131.5L254.5 1130.5M249.5 1118.5L249.5 1136.3M257 1125.7L257 1135.3M257 1128.6L261.9 1125.7M280.5 1118.5L265.6 1124.3L280.5 1129.6M265.6 1131.5L280.5 1131.5M265.6 1134.4L280.5 1134.4M284.4 1127.2L288.5 1121.4L294 1119.9L299.5 1121.4L303.6 1127.2M306.8 1120.6L307.8 1121.8M306.8 1125.7L306.8 1135.3M310.8 1125.7L311.8 1126.9M310.8 1134.4L311.8 1135.1M314.9 1120.6L315.8 1121.8M314.9 1125.7L314.9 1135.3M318.8 1125.7L319.8 1126.9M318.8 1134.4L319.8 1135.1M322.9 1120.6L323.9 1121.8M322.9 1125.7L322.9 1135.3M326.8 1125.7L327.8 1126.9M326.8 1134.4L327.8 1135.1M330.9 1120.6L331.9 1121.8M330.9 1125.7L330.9 1135.3M334.8 1125.7L335.8 1126.9M334.8 1134.4L335.8 1135.1M338.9 1120.6L339.9 1121.8M338.9 1125.7L338.9 1135.3M342.8 1125.7L343.8 1126.9M342.8 1134.4L343.8 1135.1M346.9 1120.6L347.9 1121.8M346.9 1125.7L346.9 1135.3M350.8 1125.7L351.8 1126.9M350.8 1134.4L351.8 1135.1M354.9 1120.6L355.9 1121.8M354.9 1125.7L354.9 1135.3M358.8 1125.7L359.8 1126.9M358.8 1134.4L359.8 1135.1M362.9 1120.6L363.9 1121.8M362.9 1125.7L362.9 1135.3M366.8 1125.7L367.8 1126.9M366.8 1134.4L367.8 1135.1M370.9 1120.6L371.9 1121.8M370.9 1125.7L370.9 1135.3M374.9 1125.7L375.8 1126.9M374.9 1134.4L375.8 1135.1M378.9 1120.6L379.9 1121.8M378.9 1125.7L378.9 1135.3M382.9 1125.7L383.9 1126.9M382.9 1134.4L383.9 1135.1M386.9 1120.6L387.9 1121.8M386.9 1125.7L386.9 1135.3M390.9 1125.7L391.9 1126.9M390.9 1134.4L391.9 1135.1M394.9 1120.6L395.9 1121.8M394.9 1125.7L394.9 1135.3M398.9 1125.7L399.9 1126.9M398.9 1134.4L399.9 1135.1M402.9 1120.6L403.9 1121.8M402.9 1125.7L402.9 1135.3M406.9 1125.7L407.9 1126.9M406.9 1134.4L407.9 1135.1M411 1120.6L411.9 1121.8M411 1125.7L411 1135.3M414.9 1125.7L415.9 1126.9M414.9 1134.4L415.9 1135.1M419 1120.6L420 1121.8M419 1125.7L419 1135.3M422.9 1125.7L423.9 1126.9M422.9 1134.4L423.9 1135.1M427 1120.6L428 1121.8M427 1125.7L427 1135.3M430.9 1125.7L431.9 1126.9M430.9 1134.4L431.9 1135.1M435 1120.6L436 1121.8M435 1125.7L435 1135.3M438.9 1125.7L439.9 1126.9M438.9 1134.4L439.9 1135.1M442.4 1135.3L449.8 1118.5M454.6 1121.4L466.6 1121.4M452.2 1134.4L468.9 1134.4M473.7 1121.4L485.7 1121.4M471.3 1134.4L488.1 1134.4M492.9 1121.4L504.8 1121.4M490.5 1134.4L507.2 1134.4M509.6 1135.3L516.8 1118.5M519.8 1120.6L520.8 1121.8M519.8 1125.7L519.8 1135.3M523.6 1125.7L524.6 1126.9M523.6 1134.4L524.6 1135.1M527.6 1120.6L528.5 1121.8M527.6 1125.7L527.6 1135.3M531.4 1125.7L532.4 1126.9M531.4 1134.4L532.4 1135.1M535.3 1120.6L536.3 1121.8M535.3 1125.7L535.3 1135.3M539.2 1125.7L540.1 1126.9M539.2 1134.4L540.1 1135.1M543.1 1120.6L544.1 1121.8M543.1 1125.7L543.1 1135.3M546.9 1125.7L547.9 1126.9M546.9 1134.4L547.9 1135.1M550.9 1120.6L551.9 1121.8M550.9 1125.7L550.9 1135.3M554.7 1125.7L555.7 1126.9M554.7 1134.4L555.7 1135.1M558.7 1120.6L559.6 1121.8M558.7 1125.7L558.7 1135.3M562.5 1125.7L563.5 1126.9M562.5 1134.4L563.5 1135.1M566.4 1120.6L567.4 1121.8M566.4 1125.7L566.4 1135.3M570.3 1125.7L571.2 1126.9M570.3 1134.4L571.2 1135.1M573.6 1135.3L580.8 1118.5M583.8 1120.6L584.8 1121.8M583.8 1125.7L583.8 1135.3M587.7 1125.7L588.7 1126.9M587.7 1134.4L588.7 1135.1M591.7 1120.6L592.6 1121.8M591.7 1125.7L591.7 1135.3M595.5 1125.7L596.5 1126.9M595.5 1134.4L596.5 1135.1M599.5 1120.6L600.5 1121.8M599.5 1125.7L599.5 1135.3M603.4 1125.7L604.4 1126.9M603.4 1134.4L604.4 1135.1M607.4 1120.6L608.4 1121.8M607.4 1125.7L607.4 1135.3M611.3 1125.7L612.2 1126.9M611.3 1134.4L612.2 1135.1M615.3 1120.6L616.2 1121.8M615.3 1125.7L615.3 1135.3M619.1 1125.7L620.1 1126.9M619.1 1134.4L620.1 1135.1M623.1 1120.6L624.1 1121.8M623.1 1125.7L623.1 1135.3M627 1125.7L628 1126.9M627 1134.4L628 1135.1M631 1120.6L632 1121.8M631 1125.7L631 1135.3M634.9 1125.7L635.8 1126.9M634.9 1134.4L635.8 1135.1M638.9 1120.6L639.8 1121.8M638.9 1125.7L638.9 1135.3M642.7 1125.7L643.7 1126.9M642.7 1134.4L643.7 1135.1M646.7 1120.6L647.7 1121.8M646.7 1125.7L646.7 1135.3M650.6 1125.7L651.6 1126.9M650.6 1134.4L651.6 1135.1M654.6 1120.6L655.6 1121.8M654.6 1125.7L654.6 1135.3M658.5 1125.7L659.4 1126.9M658.5 1134.4L659.4 1135.1M662.5 1120.6L663.4 1121.8M662.5 1125.7L662.5 1135.3M666.3 1125.7L667.3 1126.9M666.3 1134.4L667.3 1135.1M670.3 1120.6L671.3 1121.8M670.3 1125.7L670.3 1135.3M674.2 1125.7L675.2 1126.9M674.2 1134.4L675.2 1135.1M678.2 1120.6L679.1 1121.8M678.2 1125.7L678.2 1135.3M682 1125.7L683 1126.9M682 1134.4L683 1135.1M686 1120.6L687 1121.8M686 1125.7L686 1135.3M689.9 1125.7L690.9 1126.9M689.9 1134.4L690.9 1135.1M693.9 1120.6L694.9 1121.8M693.9 1125.7L693.9 1135.3M697.8 1125.7L698.7 1126.9M697.8 1134.4L698.7 1135.1M701.8 1120.6L702.7 1121.8M701.8 1125.7L701.8 1135.3M705.6 1125.7L706.6 1126.9M705.6 1134.4L706.6 1135.1M709.6 1120.6L710.6 1121.8M709.6 1125.7L709.6 1135.3M713.5 1125.7L714.5 1126.9M713.5 1134.4L714.5 1135.1M717.5 1120.6L718.5 1121.8M717.5 1125.7L717.5 1135.3M721.4 1125.7L722.3 1126.9M721.4 1134.4L722.3 1135.1M725.4 1120.6L726.3 1121.8M725.4 1125.7L725.4 1135.3M729.2 1125.7L730.2 1126.9M729.2 1134.4L730.2 1135.1M733.2 1120.6L734.2 1121.8M733.2 1125.7L733.2 1135.3M737.1 1125.7L738.1 1126.9M737.1 1134.4L738.1 1135.1M741.1 1120.6L742.1 1121.8M741.1 1125.7L741.1 1135.3M745 1125.7L745.9 1126.9M745 1134.4L745.9 1135.1M749 1120.6L749.9 1121.8M749 1125.7L749 1135.3M752.8 1125.7L753.8 1126.9M752.8 1134.4L753.8 1135.1M759 1122.8L773 1129.1L759 1133.4M781 1118.5L777 1124.3M789 1118.5L785 1124.3M796.8 1128.6L807.8 1128.6M811.4 1125.7L824.2 1125.7M811.4 1130.5L824.2 1130.5M829.1 1121.4L839.5 1121.4M827 1134.4L841.6 1134.4M845.7 1121.4L856.1 1121.4M843.6 1134.4L858.2 1134.4M862.3 1121.4L872.7 1121.4M860.2 1134.4L874.8 1134.4M878.9 1121.4L889.3 1121.4M876.8 1134.4L891.4 1134.4M895.5 1121.4L905.9 1121.4M893.4 1134.4L908 1134.4M87.3 1142.9L91.3 1157.4L95.3 1142.9M99.3 1142.9L99.3 1157.4M103.8 1143.6L104.8 1144.8M103.8 1148.7L103.8 1158.3M107.7 1148.7L108.7 1149.9M107.7 1157.4L108.7 1158.1M111.7 1143.6L112.6 1144.8M111.7 1148.7L111.7 1158.3M115.6 1148.7L116.5 1149.9M115.6 1157.4L116.5 1158.1M119.5 1143.6L120.5 1144.8M119.5 1148.7L119.5 1158.3M123.4 1148.7L124.4 1149.9M123.4 1157.4L124.4 1158.1M127.4 1143.6L128.4 1144.8M127.4 1148.7L127.4 1158.3M131.3 1148.7L132.2 1149.9M131.3 1157.4L132.2 1158.1M135.3 1143.6L136.2 1144.8M135.3 1148.7L135.3 1158.3M139.1 1148.7L140.1 1149.9M139.1 1157.4L140.1 1158.1M143.1 1143.6L144.1 1144.8M143.1 1148.7L143.1 1158.3M147 1148.7L148 1149.9M147 1157.4L148 1158.1M150.4 1158.3L157.7 1141.5M160.7 1143.6L161.6 1144.8M160.7 1148.7L160.7 1158.3M164.6 1148.7L165.5 1149.9M164.6 1157.4L165.5 1158.1M168.5 1143.6L169.5 1144.8M168.5 1148.7L168.5 1158.3M172.4 1148.7L173.4 1149.9M172.4 1157.4L173.4 1158.1M176.4 1143.6L177.4 1144.8M176.4 1148.7L176.4 1158.3M180.3 1148.7L181.2 1149.9M180.3 1157.4L181.2 1158.1M184.3 1143.6L185.2 1144.8M184.3 1148.7L184.3 1158.3M188.1 1148.7L189.1 1149.9M188.1 1157.4L189.1 1158.1M191.5 1158.3L198.8 1141.5M204.2 1158.3L211.3 1141.5M214.2 1143.6L215.1 1144.8M214.2 1148.7L214.2 1158.3M218 1148.7L218.9 1149.9M218 1157.4L218.9 1158.1M221.9 1143.6L222.8 1144.8M221.9 1148.7L221.9 1158.3M225.6 1148.7L226.6 1149.9M225.6 1157.4L226.6 1158.1M229.5 1143.6L230.5 1144.8M229.5 1148.7L229.5 1158.3M233.3 1148.7L234.3 1149.9M233.3 1157.4L234.3 1158.1M237.2 1143.6L238.1 1144.8M237.2 1148.7L237.2 1158.3M240.7 1158.3L247.8 1141.5M250.8 1143.6L251.8 1144.8M250.8 1148.7L250.8 1158.3M254.7 1148.7L255.6 1149.9M254.7 1157.4L255.6 1158.1M258.7 1143.6L259.6 1144.8M258.7 1148.7L258.7 1158.3M262.5 1148.7L263.5 1149.9M262.5 1157.4L263.5 1158.1M266.5 1143.6L267.5 1144.8M266.5 1148.7L266.5 1158.3M270.4 1148.7L271.3 1149.9M270.4 1157.4L271.3 1158.1M274.3 1143.6L275.3 1144.8M274.3 1148.7L274.3 1158.3M278.2 1148.7L279.2 1149.9M278.2 1157.4L279.2 1158.1M282.2 1143.6L283.1 1144.8M282.2 1148.7L282.2 1158.3M286 1148.7L287 1149.9M286 1157.4L287 1158.1M290 1143.6L291 1144.8M290 1148.7L290 1158.3M293.9 1148.7L294.8 1149.9M293.9 1157.4L294.8 1158.1M297.9 1143.6L298.8 1144.8M297.9 1148.7L297.9 1158.3M301.7 1148.7L302.7 1149.9M301.7 1157.4L302.7 1158.1M305.7 1143.6L306.7 1144.8M305.7 1148.7L305.7 1158.3M309.6 1148.7L310.5 1149.9M309.6 1157.4L310.5 1158.1M313.5 1143.6L314.5 1144.8M313.5 1148.7L313.5 1158.3M317.4 1148.7L318.4 1149.9M317.4 1157.4L318.4 1158.1M321.4 1143.6L322.3 1144.8M321.4 1148.7L321.4 1158.3M325.2 1148.7L326.2 1149.9M325.2 1157.4L326.2 1158.1M329.2 1143.6L330.2 1144.8M329.2 1148.7L329.2 1158.3M333.1 1148.7L334 1149.9M333.1 1157.4L334 1158.1M337.1 1143.6L338 1144.8M337.1 1148.7L337.1 1158.3M340.9 1148.7L341.9 1149.9M340.9 1157.4L341.9 1158.1M344.9 1143.6L345.9 1144.8M344.9 1148.7L344.9 1158.3M348.8 1148.7L349.7 1149.9M348.8 1157.4L349.7 1158.1M352.7 1143.6L353.7 1144.8M352.7 1148.7L352.7 1158.3M356.6 1148.7L357.6 1149.9M356.6 1157.4L357.6 1158.1M360.6 1143.6L361.6 1144.8M360.6 1148.7L360.6 1158.3M364.4 1148.7L365.4 1149.9M364.4 1157.4L365.4 1158.1M368.4 1143.6L369.4 1144.8M368.4 1148.7L368.4 1158.3M372.3 1148.7L373.3 1149.9M372.3 1157.4L373.3 1158.1M376.3 1143.6L377.2 1144.8M376.3 1148.7L376.3 1158.3M380.1 1148.7L381.1 1149.9M380.1 1157.4L381.1 1158.1M384.1 1143.6L385.1 1144.8M384.1 1148.7L384.1 1158.3M388 1148.7L388.9 1149.9M388 1157.4L388.9 1158.1M392 1143.6L392.9 1144.8M392 1148.7L392 1158.3M395.8 1148.7L396.8 1149.9M395.8 1157.4L396.8 1158.1M399.8 1143.6L400.8 1144.8M399.8 1148.7L399.8 1158.3M403.7 1148.7L404.6 1149.9M403.7 1157.4L404.6 1158.1M407.6 1143.6L408.6 1144.8M407.6 1148.7L407.6 1158.3M411.5 1148.7L412.5 1149.9M411.5 1157.4L412.5 1158.1M415.5 1143.6L416.4 1144.8M415.5 1148.7L415.5 1158.3M419.3 1148.7L420.3 1149.9M419.3 1157.4L420.3 1158.1M423.3 1143.6L424.3 1144.8M423.3 1148.7L423.3 1158.3M427.2 1148.7L428.1 1149.9M427.2 1157.4L428.1 1158.1M430.6 1158.3L437.8 1141.5M441 1140.7L457.3 1140.7M457.3 1140.7L473.7 1140.7M473.7 1140.7L490 1140.7M492.6 1141.5L490.9 1147.3M496.1 1141.5L494.4 1147.3M500.2 1158.3L507.4 1141.5M510.4 1143.6L511.4 1144.8M510.4 1148.7L510.4 1158.3M514.3 1148.7L515.2 1149.9M514.3 1157.4L515.2 1158.1M518.3 1143.6L519.2 1144.8M518.3 1148.7L518.3 1158.3M522.1 1148.7L523.1 1149.9M522.1 1157.4L523.1 1158.1M526.1 1143.6L527 1144.8M526.1 1148.7L526.1 1158.3M529.9 1148.7L530.9 1149.9M529.9 1157.4L530.9 1158.1M533.9 1143.6L534.9 1144.8M533.9 1148.7L533.9 1158.3M537.7 1148.7L538.7 1149.9M537.7 1157.4L538.7 1158.1M541.7 1143.6L542.7 1144.8M541.7 1148.7L541.7 1158.3M545.6 1148.7L546.5 1149.9M545.6 1157.4L546.5 1158.1M549.5 1143.6L550.5 1144.8M549.5 1148.7L549.5 1158.3M553.4 1148.7L554.3 1149.9M553.4 1157.4L554.3 1158.1M557.4 1143.6L558.3 1144.8M557.4 1148.7L557.4 1158.3M561.2 1148.7L562.2 1149.9M561.2 1157.4L562.2 1158.1M564.6 1158.3L571.8 1141.5M574.8 1143.6L575.8 1144.8M574.8 1148.7L574.8 1158.3M578.7 1148.7L579.7 1149.9M578.7 1157.4L579.7 1158.1M582.7 1143.6L583.7 1144.8M582.7 1148.7L582.7 1158.3M586.6 1148.7L587.6 1149.9M586.6 1157.4L587.6 1158.1M590.6 1143.6L591.6 1144.8M590.6 1148.7L590.6 1158.3M594.5 1148.7L595.5 1149.9M594.5 1157.4L595.5 1158.1M598.5 1143.6L599.5 1144.8M598.5 1148.7L598.5 1158.3M602.4 1148.7L603.3 1149.9M602.4 1157.4L603.3 1158.1M606.4 1143.6L607.3 1144.8M606.4 1148.7L606.4 1158.3M610.3 1148.7L611.2 1149.9M610.3 1157.4L611.2 1158.1M614.3 1143.6L615.2 1144.8M614.3 1148.7L614.3 1158.3M618.1 1148.7L619.1 1149.9M618.1 1157.4L619.1 1158.1M622.2 1143.6L623.1 1144.8M622.2 1148.7L622.2 1158.3M626 1148.7L627 1149.9M626 1157.4L627 1158.1M630 1143.6L631 1144.8M630 1148.7L630 1158.3M633.9 1148.7L634.9 1149.9M633.9 1157.4L634.9 1158.1M637.9 1143.6L638.9 1144.8M637.9 1148.7L637.9 1158.3M641.8 1148.7L642.8 1149.9M641.8 1157.4L642.8 1158.1M645.8 1143.6L646.8 1144.8M645.8 1148.7L645.8 1158.3M649.7 1148.7L650.7 1149.9M649.7 1157.4L650.7 1158.1M653.7 1143.6L654.7 1144.8M653.7 1148.7L653.7 1158.3M657.6 1148.7L658.6 1149.9M657.6 1157.4L658.6 1158.1M661.6 1143.6L662.6 1144.8M661.6 1148.7L661.6 1158.3M665.5 1148.7L666.5 1149.9M665.5 1157.4L666.5 1158.1M669.5 1143.6L670.5 1144.8M669.5 1148.7L669.5 1158.3M673.4 1148.7L674.3 1149.9M673.4 1157.4L674.3 1158.1M677.4 1143.6L678.3 1144.8M677.4 1148.7L677.4 1158.3M681.3 1148.7L682.2 1149.9M681.3 1157.4L682.2 1158.1M685.3 1143.6L686.2 1144.8M685.3 1148.7L685.3 1158.3M689.1 1148.7L690.1 1149.9M689.1 1157.4L690.1 1158.1M693.2 1143.6L694.1 1144.8M693.2 1148.7L693.2 1158.3M697 1148.7L698 1149.9M697 1157.4L698 1158.1M701 1143.6L702 1144.8M701 1148.7L701 1158.3M704.9 1148.7L705.9 1149.9M704.9 1157.4L705.9 1158.1M708.9 1143.6L709.9 1144.8M708.9 1148.7L708.9 1158.3M712.8 1148.7L713.8 1149.9M712.8 1157.4L713.8 1158.1M717.1 1145.8L731.5 1152.1L717.1 1156.4M739.7 1141.5L735.6 1147.3M747.9 1141.5L743.8 1147.3M754.9 1151.6L766.6 1151.6M770.5 1148.7L784.1 1148.7M770.5 1153.5L784.1 1153.5M789.8 1144.4L802.7 1144.4M787.3 1157.4L805.2 1157.4M810.3 1144.4L823.2 1144.4M807.8 1157.4L825.7 1157.4M830.8 1144.4L843.7 1144.4M828.3 1157.4L846.2 1157.4M851.3 1144.4L864.2 1144.4M848.8 1157.4L866.7 1157.4M871.8 1144.4L884.7 1144.4M869.3 1157.4L887.2 1157.4M892.3 1144.4L905.2 1144.4M889.8 1157.4L907.7 1157.4M95.4 1165.9L99.7 1180.4L103.9 1165.9M108.2 1165.9L108.2 1180.4M112.9 1166.6L113.9 1167.8M112.9 1171.7L112.9 1181.3M116.9 1171.7L117.9 1172.9M116.9 1180.4L117.9 1181.1M121 1166.6L122 1167.8M121 1171.7L121 1181.3M125 1171.7L126 1172.9M125 1180.4L126 1181.1M129.2 1166.6L130.2 1167.8M129.2 1171.7L129.2 1181.3M133.2 1171.7L134.2 1172.9M133.2 1180.4L134.2 1181.1M137.3 1166.6L138.3 1167.8M137.3 1171.7L137.3 1181.3M141.3 1171.7L142.3 1172.9M141.3 1180.4L142.3 1181.1M144.8 1181.3L152.3 1164.5M155.4 1166.6L156.4 1167.8M155.4 1171.7L155.4 1181.3M159.5 1171.7L160.5 1172.9M159.5 1180.4L160.5 1181.1M163.6 1166.6L164.6 1167.8M163.6 1171.7L163.6 1181.3M167.6 1171.7L168.6 1172.9M167.6 1180.4L168.6 1181.1M171.7 1166.6L172.7 1167.8M171.7 1171.7L171.7 1181.3M175.7 1171.7L176.7 1172.9M175.7 1180.4L176.7 1181.1M179.2 1181.3L186.7 1164.5M193.1 1181.3L200 1164.5M202.8 1166.6L203.7 1167.8M202.8 1171.7L202.8 1181.3M206.5 1171.7L207.4 1172.9M206.5 1180.4L207.4 1181.1M210.2 1166.6L211.1 1167.8M210.2 1171.7L210.2 1181.3M213.9 1171.7L214.8 1172.9M213.9 1180.4L214.8 1181.1M217.6 1166.6L218.5 1167.8M217.6 1171.7L217.6 1181.3M221.3 1171.7L222.2 1172.9M221.3 1180.4L222.2 1181.1M225 1166.6L225.9 1167.8M225 1171.7L225 1181.3M228.7 1171.7L229.6 1172.9M228.7 1180.4L229.6 1181.1M231.8 1181.3L238.7 1164.5M241.5 1166.6L242.4 1167.8M241.5 1171.7L241.5 1181.3M245.2 1171.7L246.1 1172.9M245.2 1180.4L246.1 1181.1M248.9 1166.6L249.8 1167.8M248.9 1171.7L248.9 1181.3M252.6 1171.7L253.5 1172.9M252.6 1180.4L253.5 1181.1M256.3 1166.6L257.2 1167.8M256.3 1171.7L256.3 1181.3M260 1171.7L260.9 1172.9M260 1180.4L260.9 1181.1M262 1183.2L271.8 1183.2M273.6 1180.4L274.6 1181.1M281.5 1167.4L284 1170.3M280.3 1173.2L282.7 1175.6M277.9 1177.5L294.9 1176.5M290.1 1164.5L290.1 1182.3M297.4 1171.7L297.4 1181.3M297.4 1174.6L302.3 1171.7M320.6 1164.5L305.9 1170.3L320.6 1175.6M305.9 1177.5L320.6 1177.5M305.9 1180.4L320.6 1180.4M327.2 1173.2L330.8 1167.4L335.5 1165.9L340.2 1167.4L343.8 1173.2M345 1163.7L361.1 1163.7M361.1 1163.7L377.2 1163.7M377.2 1163.7L393.3 1163.7M393.3 1163.7L409.4 1163.7M409.4 1163.7L425.6 1163.7M425.6 1163.7L441.7 1163.7M441.7 1163.7L457.8 1163.7M457.8 1163.7L473.9 1163.7M473.9 1163.7L490 1163.7M494.4 1179.4L493.2 1182.3M498.5 1166.6L499.5 1167.8M498.5 1171.7L498.5 1181.3M502.3 1171.7L503.3 1172.9M502.3 1180.4L503.3 1181.1M506.3 1166.6L507.2 1167.8M506.3 1171.7L506.3 1181.3M510.1 1171.7L511 1172.9M510.1 1180.4L511 1181.1M514 1166.6L515 1167.8M514 1171.7L514 1181.3M517.8 1171.7L518.8 1172.9M517.8 1180.4L518.8 1181.1M521.7 1166.6L522.7 1167.8M521.7 1171.7L521.7 1181.3M525.5 1171.7L526.5 1172.9M525.5 1180.4L526.5 1181.1M529.5 1166.6L530.4 1167.8M529.5 1171.7L529.5 1181.3M533.3 1171.7L534.2 1172.9M533.3 1180.4L534.2 1181.1M537.2 1166.6L538.2 1167.8M537.2 1171.7L537.2 1181.3M541 1171.7L542 1172.9M541 1180.4L542 1181.1M544.9 1166.6L545.9 1167.8M544.9 1171.7L544.9 1181.3M548.7 1171.7L549.7 1172.9M548.7 1180.4L549.7 1181.1M552.7 1166.6L553.6 1167.8M552.7 1171.7L552.7 1181.3M556.5 1171.7L557.4 1172.9M556.5 1180.4L557.4 1181.1M559.8 1181.3L566.9 1164.5M569.9 1166.6L570.9 1167.8M569.9 1171.7L569.9 1181.3M573.7 1171.7L574.7 1172.9M573.7 1180.4L574.7 1181.1M577.7 1166.6L578.6 1167.8M577.7 1171.7L577.7 1181.3M581.5 1171.7L582.4 1172.9M581.5 1180.4L582.4 1181.1M585.4 1166.6L586.3 1167.8M585.4 1171.7L585.4 1181.3M589.2 1171.7L590.1 1172.9M589.2 1180.4L590.1 1181.1M593.1 1166.6L594.1 1167.8M593.1 1171.7L593.1 1181.3M596.9 1171.7L597.9 1172.9M596.9 1180.4L597.9 1181.1M600.9 1166.6L601.8 1167.8M600.9 1171.7L600.9 1181.3M604.7 1171.7L605.6 1172.9M604.7 1180.4L605.6 1181.1M608.6 1166.6L609.5 1167.8M608.6 1171.7L608.6 1181.3M612.4 1171.7L613.3 1172.9M612.4 1180.4L613.3 1181.1M616.3 1166.6L617.3 1167.8M616.3 1171.7L616.3 1181.3M620.1 1171.7L621.1 1172.9M620.1 1180.4L621.1 1181.1M624.1 1166.6L625 1167.8M624.1 1171.7L624.1 1181.3M627.9 1171.7L628.8 1172.9M627.9 1180.4L628.8 1181.1M631.9 1166.6L633 1167.8M631.9 1171.7L631.9 1181.3M636.1 1171.7L637.1 1172.9M636.1 1180.4L637.1 1181.1M640.3 1166.6L641.4 1167.8M640.3 1171.7L640.3 1181.3M644.5 1171.7L645.5 1172.9M644.5 1180.4L645.5 1181.1M648.7 1166.6L649.8 1167.8M648.7 1171.7L648.7 1181.3M652.9 1171.7L653.9 1172.9M652.9 1180.4L653.9 1181.1M657.1 1166.6L658.2 1167.8M657.1 1171.7L657.1 1181.3M661.3 1171.7L662.3 1172.9M661.3 1180.4L662.3 1181.1M665.5 1166.6L666.6 1167.8M665.5 1171.7L665.5 1181.3M669.7 1171.7L670.7 1172.9M669.7 1180.4L670.7 1181.1M674.1 1168.8L688.9 1175.1L674.1 1179.4M697.4 1164.5L693.2 1170.3M705.9 1164.5L701.6 1170.3M712 1174.6L724 1174.6M728 1171.7L742 1171.7M728 1176.5L742 1176.5M747.9 1167.4L760.8 1167.4M745.3 1180.4L763.3 1180.4M768.5 1167.4L781.4 1167.4M765.9 1180.4L784 1180.4M789.1 1167.4L802 1167.4M786.5 1180.4L804.6 1180.4M809.7 1167.4L822.6 1167.4M807.2 1180.4L825.2 1180.4M830.4 1167.4L843.3 1167.4M827.8 1180.4L845.8 1180.4M851 1167.4L863.9 1167.4M848.4 1180.4L866.5 1180.4M871.6 1167.4L884.5 1167.4M869 1180.4L887.1 1180.4M892.2 1167.4L905.1 1167.4M889.7 1180.4L907.7 1180.4"/>
<path stroke-width="1.2" d="M224.1 1224.7L239.9 1240.4M473.9 1239.6L479.1 1224.7M230.8 1244.8L229.3 1249.9M234.5 1257.9L233.2 1260.5M239.6 1249.9L247.4 1256.2M378.8 1242.9L378.8 1261.7M462 1259.6L468 1244.8M471.5 1242.9L471.5 1261.7M627.4 1260.5L646.6 1244.8M251.7 1264.8L249.1 1269.9M257.7 1278L255.6 1280.5M263.2 1264.8L279.8 1280.5M376.9 1266.1L373.2 1278L381.8 1277.1M379.3 1274.6L381.8 1278.8M445.2 1280.5L462.5 1264.8M472.9 1262.9L472.9 1281.8M621.4 1264.8L612.6 1275.4M617.4 1269.9L617.4 1279.7M677.9 1279.7L689.1 1264.8M185.1 1284.9L200.4 1300.6M202.5 1291.2L210.2 1291.2M202.5 1295.5L210.2 1295.5M212.4 1293.8L218.9 1293.8M267.7 1284.9L265.1 1290M273.7 1298L271.6 1300.6M279.4 1284.9L298.6 1300.6M339 1301.4L360.6 1301.4M360.6 1301.4L371.4 1301.4M376.8 1286.1L372.8 1298L382.2 1297.2M379.5 1294.6L382.2 1298.9M387.6 1288.7L398.4 1288.7M384.9 1298L401.1 1298M403.8 1291.2L413.2 1291.2M403.8 1295.5L413.2 1295.5M417.3 1298L415.9 1300.6M401.2 1291.2L409.8 1291.2M401.2 1295.5L409.8 1295.5M413.5 1298L412.2 1300.6M417.1 1291.2L425.7 1291.2M417.1 1295.5L425.7 1295.5M428.2 1291.2L436.7 1291.2M428.2 1295.5L436.7 1295.5M439.2 1291.2L447.8 1291.2M439.2 1295.5L447.8 1295.5M450.2 1291.2L458.8 1291.2M450.2 1295.5L458.8 1295.5M461.2 1293.8L468.6 1293.8M473.5 1288.7L483.3 1288.7M471 1298L485.7 1298M491.9 1286.1L488.2 1298L496.8 1297.2M494.3 1294.6L496.8 1298.9M536 1300.6L550.4 1284.9M557.6 1300.6L572 1284.9M587.3 1300.6L605.4 1284.9M608 1299.7L615.7 1284.9M657.1 1298.9L657.7 1299.6M668.5 1284.9L660.4 1295.5M664.8 1290L664.8 1299.7M699.2 1299.7L706.8 1284.9M786.1 1299.7L798.9 1284.9M205.2 1304.9L221.8 1320.6M225.1 1306.2L237.8 1306.2M226.2 1313.9L236.8 1313.9M224.1 1318.9L238.9 1318.9M241 1311.3L248.5 1311.3M241 1315.5L248.5 1315.5M250.6 1313.9L256.9 1313.9M281.7 1306.2L291.4 1308.7M281.7 1312.6L291.4 1314.7M280.4 1316.4L292.6 1319.8M296.3 1311.3L304.8 1311.3M296.3 1315.5L304.8 1315.5M307.2 1311.3L315.8 1311.3M307.2 1315.5L315.8 1315.5M321.2 1320.6L337.8 1304.9M373.8 1306.2L378.8 1308.7M373.8 1312.6L378.8 1314.7M373.2 1316.4L379.4 1319.8M383.7 1306.2L381.8 1313.9M386.8 1306.2L384.9 1313.9M422.6 1304.9L419.8 1310L419.8 1317.2L422.6 1320.6M491.1 1307.5L504.7 1307.5L498.4 1315.5M495.3 1313.9L502.6 1318.9M510 1306.2L506.8 1318.1L514.2 1317.2M512.1 1314.7L514.2 1318.9M516.3 1313.9L522.6 1313.9M537.4 1304.9L525.8 1315.5M532.1 1310L532.1 1319.8M540.5 1313.9L546.8 1313.9M553.2 1306.2L550 1313.9M558.4 1306.2L555.3 1313.9M564.7 1306.2L561.6 1318.1L568.9 1317.2M566.8 1314.7L568.9 1318.9M571.1 1320.6L585.8 1304.9M590 1308.7L598.4 1308.7M587.9 1318.1L600.5 1318.1M602.6 1319.8L608.9 1304.9M635.4 1320.6L654.6 1304.9M646 1319.8L658 1304.9M684.8 1318.9L685.2 1319.6M692.9 1304.9L687.2 1315.5M690.3 1310L690.3 1319.8M224.1 1325L239.9 1340.7M243.2 1326.2L256.7 1326.2M244.4 1333.9L255.5 1333.9M242.1 1339L257.8 1339M261.1 1326.2L274.6 1326.2M262.2 1333.9L273.4 1333.9M260 1339L275.7 1339M279 1326.2L292.4 1326.2M280.1 1333.9L291.3 1333.9M277.9 1339L293.6 1339M295.8 1331.3L303.6 1331.3M295.8 1335.6L303.6 1335.6M308.1 1328.8L317.1 1328.8M305.9 1338.1L319.3 1338.1M324.9 1325L322.6 1330.1L322.6 1337.3L324.9 1340.7M368.8 1326.2L378.9 1328.8M368.8 1332.6L378.9 1334.7M367.5 1336.4L380.1 1339.8M387.7 1326.2L383.9 1338.1L392.7 1337.3M390.2 1334.7L392.7 1339M416.2 1338.1L415.1 1340.7M500.3 1326.2L514 1326.2M501.4 1333.9L512.9 1333.9M499.1 1339L515.2 1339M524.3 1330.1L531.2 1336.4M535.8 1326.2L549.5 1326.2M536.9 1333.9L548.4 1333.9M534.6 1339L550.7 1339M555.2 1328.8L564.4 1328.8M552.9 1338.1L566.7 1338.1M571.3 1328.8L580.4 1328.8M569 1338.1L582.7 1338.1M585 1339.8L591.9 1325M613.1 1340.7L628.9 1325M633.8 1326.2L644.8 1326.2M634.8 1333.9L643.9 1333.9M632.9 1339L645.8 1339M647.6 1339.8L653.1 1325M665.1 1340.7L680.9 1325M683.2 1339.8L690.8 1325M744.5 1339.8L759.5 1325M249.9 1348.8L256.3 1354.4L249.9 1358.2M260 1348.8L267.4 1348.8M258.2 1358.2L269.2 1358.2M271 1351.4L277.5 1351.4M271 1355.6L277.5 1355.6M283 1346.3L280.2 1354M287.6 1346.3L284.8 1354M293.1 1345L291.2 1350.1L291.2 1357.3L293.1 1360.7M310 1347.6L323 1347.6L317 1355.6M314 1354L321 1359M328 1346.3L325 1358.2L332 1357.3M330 1354.8L332 1359M373.7 1346.3L370.3 1354M379.3 1346.3L375.9 1354M382.7 1351.4L390.7 1351.4M382.7 1355.6L390.7 1355.6M392.9 1351.4L400.9 1351.4M392.9 1355.6L400.9 1355.6M494.5 1345L492.3 1350.1L492.3 1357.3L494.5 1360.7M498 1346.3L511.6 1346.3M499.1 1354L510.5 1354M496.8 1359L512.7 1359M515 1351.4L523 1351.4M515 1355.6L523 1355.6M538.9 1345L526.4 1355.6M533.2 1350.1L533.2 1359.9M543.5 1346.3L557.1 1346.3M544.6 1354L556 1354M542.3 1359L558.2 1359M561.6 1346.3L575.3 1346.3M562.8 1354L574.2 1354M560.5 1359L576.4 1359M582.1 1346.3L578.7 1358.2L586.7 1357.3M584.4 1354.8L586.7 1359M588.9 1360.7L604.9 1345M625 1361.5L632.4 1361.5M634.2 1346.3L645.3 1346.3M635.2 1354L644.4 1354M633.3 1359L646.3 1359M648.1 1351.4L654.6 1351.4M648.1 1355.6L654.6 1355.6M656.4 1354L662 1354M667.5 1346.3L664.8 1354M672.2 1346.3L669.4 1354M12.6 1370.2L17.4 1376.5M251.6 1366.3L258.5 1368.9M251.6 1372.7L258.5 1374.8M250.7 1376.5L259.4 1379.9M262 1379.9L267.1 1365.1M318.8 1367.6L329.6 1367.6L324.6 1375.7M322.2 1374L328 1379.1M332.9 1368.9L339.6 1368.9M331.3 1378.2L341.2 1378.2M342.9 1371.4L348.7 1371.4M342.9 1375.7L348.7 1375.7M360.3 1365.1L351.2 1375.7M356.2 1370.2L356.2 1379.9M402.2 1370.2L405.8 1376.5M499 1379.9L504.8 1365.1M507.7 1366.3L519.3 1366.3M508.6 1374L518.3 1374M506.7 1379.1L520.3 1379.1M522.2 1371.4L529 1371.4M522.2 1375.7L529 1375.7M530.9 1371.4L537.7 1371.4M530.9 1375.7L537.7 1375.7M540.6 1366.3L552.2 1366.3M541.6 1374L551.2 1374M539.6 1379.1L553.2 1379.1M556.1 1366.3L567.7 1366.3M557.1 1374L566.7 1374M555.1 1379.1L568.7 1379.1M570.6 1371.4L577.4 1371.4M570.6 1375.7L577.4 1375.7M579.3 1367.6L591.9 1367.6L586.1 1375.7M583.2 1374L590 1379.1M596.8 1366.3L593.8 1378.2L600.6 1377.4M598.7 1374.8L600.6 1379.1M601.6 1381.6L609.3 1381.6M610.3 1374L616.1 1374M620 1368.9L627.7 1368.9M618.1 1378.2L629.7 1378.2M631.6 1374L637.4 1374M643.2 1366.3L640.3 1374M648.1 1366.3L645.2 1374M99 1390.2L105 1396.6M245.3 1385.1L247.9 1386.4L247.9 1392.8L250.4 1394.5L247.9 1395.7L247.9 1400L245.3 1400.8M255.6 1388.9L265.8 1388.9M253 1398.3L268.4 1398.3M278.9 1385.1L277.4 1390.2M288.9 1398.3L287.7 1400.8M293.4 1387L294.5 1388.1M293.4 1391.5L293.4 1400M338.1 1386.4L335 1394.1M343.2 1386.4L340.1 1394.1M346.2 1394.1L352.4 1394.1M356.4 1388.9L364.6 1388.9M354.4 1398.3L366.6 1398.3M371.7 1386.4L368.6 1398.3L375.8 1397.4M373.7 1394.9L375.8 1399.1M382.9 1397.4L386 1400M425.6 1385.1L423.4 1386.4L423.4 1392.8L421.1 1394.5L423.4 1395.7L423.4 1400L425.6 1400.8M453.2 1390.2L459.9 1396.6M498.3 1386.4L496.6 1394.1L489.7 1400M510.3 1386.4L508.6 1394.1L501.7 1400M575.5 1385.1L574.1 1390.2M594.5 1390.2L599.2 1396.6M601.5 1387.7L611.5 1387.7L606.8 1395.7M604.5 1394.1L609.9 1399.1M614.5 1388.9L620.7 1388.9M613 1398.3L622.2 1398.3M189.2 1410.3L195.9 1416.6M199.3 1405.2L214.9 1420.9M248.3 1410.3L255.3 1416.6M261.2 1409L270.5 1409M258.8 1418.3L272.8 1418.3M275.2 1414.1L282.2 1414.1M292.7 1405.2L292.7 1410.3L284.5 1420M292.7 1410.3L300.8 1420M323.9 1420L329.6 1405.2M335.4 1406.4L332.5 1414.1M340.1 1406.4L337.2 1414.1M353.1 1405.2L368.9 1420.9M371.1 1405.2L386.9 1420.9M420.3 1406.4L416.3 1418.3L425.5 1417.5M422.9 1414.9L425.5 1419.2M434.7 1420.9L453.1 1405.2M457.7 1403.3L457.7 1422.1M520.2 1410.3L526.9 1416.6M597.1 1420L603.7 1405.2M608.1 1409L616.8 1409M605.9 1418.3L619 1418.3M624.5 1406.4L621.2 1418.3L628.9 1417.5M626.7 1414.9L628.9 1419.2M698 1421.7L711.1 1421.7M712.8 1414.1L722.6 1414.1M725.9 1411.5L737.4 1411.5M725.9 1415.8L737.4 1415.8M740.7 1411.5L752.2 1411.5M740.7 1415.8L752.2 1415.8M755.5 1406.4L765.4 1406.4L758.8 1420M221.5 1426.5L218.2 1434.2M226.9 1426.5L223.6 1434.2M230.2 1431.6L237.8 1431.6M230.2 1435.8L237.8 1435.8M240 1434.2L246.6 1434.2M249.8 1426.5L262.9 1426.5M250.9 1434.2L261.9 1434.2M248.8 1439.2L264 1439.2M267.3 1426.5L280.4 1426.5M268.4 1434.2L279.3 1434.2M266.2 1439.2L281.5 1439.2M288.1 1427.8L283.7 1438.4M292.4 1427.8L297.9 1438.4M301.2 1426.5L314.3 1426.5M302.3 1434.2L313.2 1434.2M300.1 1439.2L315.4 1439.2M321.9 1425.2L319.7 1426.5L319.7 1432.9L317.5 1434.6L319.7 1435.8L319.7 1440.1L321.9 1440.9M376 1426.5L372.4 1434.2M382 1426.5L378.4 1434.2M385.6 1434.2L392.8 1434.2M421 1429L428 1434.6L421 1438.4M432 1429L440 1429M430 1438.4L442 1438.4M444 1440.1L450 1425.2M490.4 1426.5L487.1 1438.4L494.9 1437.5M492.7 1435L494.9 1439.2M530 1425.2L532 1430.3L532 1437.5L530 1440.9M592.2 1438.4L591.1 1440.9M608 1429L616 1429M606 1438.4L618 1438.4M622 1429L630 1429M620 1438.4L632 1438.4M634 1434.2L640 1434.2M642 1431.6L649 1431.6M642 1435.8L649 1435.8M651 1431.6L658 1431.6M651 1435.8L658 1435.8M662 1429L670 1429M660 1438.4L672 1438.4M675 1426.5L687 1426.5M676 1434.2L686 1434.2M674 1439.2L688 1439.2M691 1426.5L703 1426.5M692 1434.2L702 1434.2M690 1439.2L704 1439.2M707 1426.5L719 1426.5M708 1434.2L718 1434.2M706 1439.2L720 1439.2M45 1454.2L65 1454.2M206.6 1445.3L195.9 1460.1L208.5 1460.1M210.4 1447.8L222 1447.8L219.1 1455L212.4 1460.1M250.1 1445.3L252.3 1446.5L252.3 1452.9L254.6 1454.6L252.3 1455.9L252.3 1460.1L250.1 1461M259 1449.1L268 1449.1M256.8 1458.4L270.2 1458.4M285.8 1445.3L273.5 1455.9M280.2 1450.4L280.2 1460.1M290.3 1446.5L303.7 1446.5M291.4 1454.2L302.5 1454.2M289.2 1459.3L304.8 1459.3M307 1451.6L314.8 1451.6M307 1455.9L314.8 1455.9M317 1451.6L324.8 1451.6M317 1455.9L324.8 1455.9M330.4 1446.5L327.1 1458.4L334.9 1457.6M332.7 1455L334.9 1459.3M361.6 1445.3L350.9 1460.1L363.5 1460.1M365.4 1447.8L377 1447.8L374.1 1455L367.4 1460.1M426.5 1445.3L423.9 1446.5L423.9 1452.9L421.3 1454.6L423.9 1455.9L423.9 1460.1L426.5 1461M431.8 1449.1L442.2 1449.1M429.2 1458.4L444.8 1458.4M452.7 1445.3L450.1 1446.5L450.1 1452.9L447.5 1454.6L450.1 1455.9L450.1 1460.1L452.7 1461M465.8 1451.6L469.7 1454.2L469.7 1458.4L465.8 1460.1L461.8 1458.4L461.8 1454.2L465.8 1451.6M551 1451.6L554.8 1454.2L554.8 1458.4L551 1460.1L547.2 1458.4L547.2 1454.2L551 1451.6M601.1 1460.1L607.7 1445.3M611 1446.5L624.3 1446.5M612.1 1454.2L623.2 1454.2M609.9 1459.3L625.4 1459.3M628.7 1446.5L642 1446.5M629.8 1454.2L640.9 1454.2M627.6 1459.3L643.1 1459.3M647.5 1449.1L656.3 1449.1M645.3 1458.4L658.5 1458.4M668.5 1449.1L660.7 1454.6L668.5 1458.4M669.6 1461.8L678.4 1461.8M679.5 1454.2L686.1 1454.2M688.3 1451.6L696.1 1451.6M688.3 1455.9L696.1 1455.9M698.3 1446.5L704.9 1446.5L700.5 1460.1M797.3 1461L815.8 1445.3M819.8 1450.4L827.7 1456.7M831.7 1445.3L835 1449.1M175 1481.8L183.4 1481.8M185.6 1478.5L184.5 1481M189.8 1478.5L188.7 1481M194 1478.5L192.9 1481M198.2 1478.5L197.2 1481M202.4 1478.5L201.4 1481M206.7 1478.5L205.6 1481M210.9 1478.5L209.8 1481M214.4 1471.7L224.6 1471.7M214.4 1475.9L224.6 1475.9M227.4 1471.7L237.6 1471.7M227.4 1475.9L237.6 1475.9M250 1465.3L248 1465.3L248 1481L250 1481M254 1469.1L262 1469.1M252 1478.5L264 1478.5M266 1477.6L269 1480.2M286.4 1466.6L283.2 1474.3M291.9 1466.6L288.6 1474.3M295.2 1474.3L301.7 1474.3M316.9 1465.3L305 1475.9M311.5 1470.4L311.5 1480.2M323.5 1469.1L320.2 1477.6M325.6 1469.1L328.9 1477.6M334.2 1465.3L350.8 1481M347 1481.8L367 1481.8M424.5 1471.7L427.9 1474.3L427.9 1478.5L424.5 1480.2L421.1 1478.5L421.1 1474.3L424.5 1471.7M496.1 1465.3L510.9 1481M577.4 1481L596.2 1465.3M603 1469.1L599 1477.6M605.7 1469.1L609.8 1477.6M613.8 1466.6L630 1466.6M615.1 1474.3L628.6 1474.3M612.5 1479.3L631.4 1479.3M634.1 1471.7L643.5 1471.7M634.1 1475.9L643.5 1475.9M646.2 1471.7L655.6 1471.7M646.2 1475.9L655.6 1475.9M659 1464.7L676.5 1464.7M676.5 1464.7L694 1464.7M803 1481.8L823 1481.8M99.1 1498.5L98 1501.1M103.3 1498.5L102.2 1501.1M107.4 1498.5L106.4 1501.1M111.6 1498.5L110.5 1501.1M115.8 1498.5L114.7 1501.1M119.9 1498.5L118.9 1501.1M123.1 1494.3L129.3 1494.3M131.4 1491.7L138.7 1491.7M131.4 1496L138.7 1496M142.9 1489.2L151.2 1489.2M140.8 1498.5L153.3 1498.5M156.4 1486.6L168.9 1486.6M157.5 1494.3L167.9 1494.3M155.4 1499.4L170 1499.4M252.7 1485.4L251.2 1486.6L251.2 1493L249.7 1494.7L251.2 1496L251.2 1500.2L252.7 1501.1M255.6 1489.2L261.4 1489.2M254.1 1498.5L262.9 1498.5M264.3 1485.4L265.8 1486.6L265.8 1493L267.3 1494.7L265.8 1496L265.8 1500.2L264.3 1501.1M308.1 1486.6L306.3 1494.3L298.9 1500.2M337.1 1500.2L343.9 1485.4M347.2 1486.6L360.8 1486.6M348.4 1494.3L359.6 1494.3M346.1 1499.4L361.9 1499.4M364.1 1500.2L370.9 1485.4M383 1500.2L395 1485.4M515.2 1498.5L514.1 1501.1M524.8 1498.5L523.8 1501.1M530.2 1485.4L547.2 1501.1M550.8 1486.6L565.3 1486.6M552 1494.3L564.1 1494.3M549.6 1499.4L566.5 1499.4M568.9 1491.7L577.4 1491.7M568.9 1496L577.4 1496M579.8 1494.3L587.1 1494.3M590.7 1490.5L598 1496.8M602.8 1486.6L617.4 1486.6M604.1 1494.3L616.2 1494.3M601.6 1499.4L618.6 1499.4M622.2 1485.4L636.7 1490.5L622.2 1495.1M622.2 1496.8L636.7 1496.8M622.2 1499.4L636.7 1499.4M646.4 1491.7L641.6 1491.7L640.4 1495.1L646.4 1496.8L645.2 1500.2L640.4 1500.2M651.3 1496.8L653.7 1497.7L652.5 1500.2L650.1 1499.4L651.3 1496.8M660.9 1497.7L664.6 1500.2M27.4 1514.4L35.6 1514.4M38.4 1511.8L48 1511.8M38.4 1516L48 1516M50.8 1511.8L60.4 1511.8M50.8 1516L60.4 1516M65.9 1509.2L76.9 1509.2M63.1 1518.6L79.6 1518.6M82.8 1506.7L93.5 1506.7M83.7 1514.4L92.6 1514.4M81.9 1519.4L94.4 1519.4M97.1 1506.7L107.9 1506.7M98 1514.4L107 1514.4M96.2 1519.4L108.8 1519.4M111.5 1506.7L122.2 1506.7M112.4 1514.4L121.3 1514.4M110.6 1519.4L123.1 1519.4M125.8 1506.7L136.5 1506.7M126.7 1514.4L135.6 1514.4M124.9 1519.4L137.4 1519.4M140.1 1506.7L150.9 1506.7M141 1514.4L150 1514.4M139.2 1519.4L151.8 1519.4M154.5 1506.7L165.2 1506.7M155.4 1514.4L164.3 1514.4M153.6 1519.4L166.1 1519.4M168.8 1506.7L179.5 1506.7M169.7 1514.4L178.6 1514.4M167.9 1519.4L180.4 1519.4M183.1 1506.7L193.9 1506.7M184 1514.4L193 1514.4M182.2 1519.4L194.8 1519.4M197.5 1506.7L208.2 1506.7M198.4 1514.4L207.3 1514.4M196.6 1519.4L209.1 1519.4M211.3 1511.8L220.3 1511.8M211.3 1516L220.3 1516M222.8 1511.8L231.8 1511.8M222.8 1516L231.8 1516M235.7 1518.6L234.4 1521.1M240.8 1506.7L256.2 1506.7M242.1 1514.4L254.9 1514.4M239.5 1519.4L257.5 1519.4M263.9 1506.7L260 1518.6L269 1517.7M266.5 1515.2L269 1519.4M271.6 1517.7L275.4 1520.3M281 1521.9L300 1521.9M301.1 1514.4L307.5 1514.4M309.7 1511.8L317.2 1511.8M309.7 1516L317.2 1516M332.3 1505.4L320.4 1516M326.9 1510.5L326.9 1520.3M335.5 1520.3L341.9 1505.4M353 1519.4L359.3 1506.7L365.6 1519.4M367.7 1520.3L374 1505.4M466.5 1514.4L475.3 1514.4M478.2 1511.8L488.5 1511.8M478.2 1516L488.5 1516M491.4 1511.8L501.7 1511.8M491.4 1516L501.7 1516M505.3 1519.4L506.5 1520.1M603.2 1505.4L605.7 1506.7L605.7 1513.1L608.1 1514.8L605.7 1516L605.7 1520.3L603.2 1521.1M611.8 1506.7L626.5 1506.7M613 1514.4L625.3 1514.4M610.6 1519.4L627.8 1519.4M631.4 1506.7L646.2 1506.7M632.7 1514.4L644.9 1514.4M630.2 1519.4L647.4 1519.4M651.1 1506.7L665.8 1506.7M652.3 1514.4L664.6 1514.4M649.8 1519.4L667 1519.4M669.5 1511.8L678.1 1511.8M669.5 1516L678.1 1516M680.5 1514.4L687.9 1514.4M690.9 1519.4L691.9 1520.1M260.1 1530.6L266.3 1536.9M271.5 1529.3L279.9 1529.3M269.5 1538.6L282 1538.6M285.1 1525.5L297.6 1530.6L285.1 1535.2M285.1 1536.9L297.6 1536.9M285.1 1539.5L297.6 1539.5M305.9 1531.8L301.8 1531.8L300.7 1535.2L305.9 1536.9L304.9 1540.3L300.7 1540.3M310.1 1536.9L312.2 1537.8L311.1 1540.3L309 1539.5L310.1 1536.9M330.9 1525.5L319.5 1536.1M325.7 1530.6L325.7 1540.3M368.7 1525.5L368.7 1536.9M368.7 1539.5L369.6 1540.2M411 1525.5L400 1540.3L413 1540.3M415 1540.3L421 1525.5M504.2 1530.6L510.8 1536.9M515.2 1530.6L521.8 1536.9M602.2 1525.5L591.9 1536.1M597.5 1530.6L597.5 1540.3M608.8 1528L605.1 1538.6M612.6 1528L617.3 1538.6M621.1 1529.3L628.6 1529.3M619.2 1538.6L630.5 1538.6M632.4 1540.3L638.1 1525.5M653 1524.8L672 1524.8M673.4 1531.8L683.2 1531.8M673.4 1536.1L683.2 1536.1M686 1531.8L695.9 1531.8M686 1536.1L695.9 1536.1M698.7 1534.4L707.1 1534.4M709.9 1531.8L719.7 1531.8M709.9 1536.1L719.7 1536.1M722.6 1534.4L731 1534.4M734.5 1539.5L735.6 1540.2M265.7 1545.5L264.2 1546.8L264.2 1553.2L262.7 1554.9L264.2 1556.1L264.2 1560.4L265.7 1561.2M268.6 1549.3L274.4 1549.3M267.1 1558.7L275.9 1558.7M280.3 1545.5L278.8 1546.8L278.8 1553.2L277.3 1554.9L278.8 1556.1L278.8 1560.4L280.3 1561.2M331.6 1545.5L329.4 1546.8L329.4 1553.2L327.1 1554.9L329.4 1556.1L329.4 1560.4L331.6 1561.2M369.1 1557.8L372.5 1560.4M499.6 1546.8L496.2 1554.5M505.2 1546.8L501.8 1554.5M518 1545.5L519.9 1546.8L519.9 1553.2L521.8 1554.9L519.9 1556.1L519.9 1560.4L518 1561.2M525.7 1549.3L533.5 1549.3M523.8 1558.7L535.4 1558.7M540.2 1546.8L537.3 1558.7L544.1 1557.8M542.2 1555.3L544.1 1559.5M549.9 1562L565.4 1562M577.1 1546.8L575.1 1554.5L567.4 1560.4M595.1 1560.4L601.7 1545.5M606.1 1549.3L614.9 1549.3M603.9 1558.7L617.1 1558.7M619.3 1560.4L625.9 1545.5M723.8 1546.8L720.3 1554.5M729.6 1546.8L726.1 1554.5M735.4 1549.3L744.7 1549.3M733.1 1558.7L747 1558.7M749.3 1551.9L757.5 1551.9M749.3 1556.1L757.5 1556.1M759.8 1551.9L767.9 1551.9M759.8 1556.1L767.9 1556.1M770.2 1554.5L777.2 1554.5M780.1 1559.5L781 1560.2M239.2 1577L241.3 1577.9L240.2 1580.4L238.1 1579.6L239.2 1577M253 1571.9L248.7 1571.9L247.7 1575.3L253 1577L251.9 1580.4L247.7 1580.4M268.9 1565.6L256.2 1570.7L268.9 1575.3M256.2 1577L268.9 1577M256.2 1579.6L268.9 1579.6M278.4 1565.6L273.1 1578.7L285.9 1577.9M281.6 1574.5L285.9 1579.6M325 1565.6L328 1570.7L321 1580.4M328 1570.7L335 1580.4M387.4 1577.9L391.4 1580.4M394.2 1582.1L415.9 1582.1M432.3 1566.8L429.6 1574.5L418.7 1580.4M522.2 1566.8L519.5 1574.5L508.7 1580.4M531.6 1566.8L527.6 1574.5M538.4 1566.8L534.3 1574.5M542.4 1574.5L550.5 1574.5M558.6 1566.8L554.6 1574.5M565.3 1566.8L561.3 1574.5M569.4 1580.4L577.5 1565.6M580.2 1571.9L589.6 1571.9M580.2 1576.2L589.6 1576.2M595 1569.4L605.8 1569.4M592.3 1578.7L608.5 1578.7M615.3 1566.8L611.2 1578.7L620.7 1577.9M618 1575.3L620.7 1579.6M775.6 1566.8L772.3 1574.5M781.3 1566.8L777.9 1574.5M786.9 1569.4L795.9 1569.4M784.7 1578.7L798.2 1578.7M800.4 1571.9L808.3 1571.9M800.4 1576.2L808.3 1576.2M810.6 1574.5L817.4 1574.5M820.2 1579.6L821.1 1580.3M236.1 1601.3L250.9 1585.6M255.6 1589.4L265.3 1589.4M253.2 1598.8L267.7 1598.8M270.1 1592L278.6 1592M270.1 1596.2L278.6 1596.2M283.4 1586.9L294.3 1586.9M281 1592L296.7 1592M289.5 1592L289.5 1596.2L284.6 1600.5M299.1 1592L307.6 1592M299.1 1596.2L307.6 1596.2M312.4 1589.4L322.1 1589.4M310 1598.8L324.5 1598.8M328.2 1586.9L342.7 1586.9M329.4 1594.6L341.5 1594.6M327 1599.6L343.9 1599.6M348.7 1589.4L358.4 1589.4M346.3 1598.8L360.8 1598.8M363.2 1592L371.7 1592M363.2 1596.2L371.7 1596.2M374.1 1592L382.6 1592M374.1 1596.2L382.6 1596.2M399.5 1585.6L386.2 1596.2M393.4 1590.7L393.4 1600.5M404.3 1590.7L411.6 1597.1M467.2 1600.5L480.8 1585.6M502.9 1586.9L499.2 1598.8L507.8 1597.9M505.3 1595.4L507.8 1599.6M543.2 1601.3L559.3 1585.6M561.7 1601.3L577.8 1585.6M835.1 1605.7L837.9 1609.5M215.1 1621.4L230.9 1605.7M235.1 1621.4L249.9 1605.7M265.1 1621.4L280.9 1605.7M299 1620.5L311 1605.7M319.1 1609.5L329.9 1609.5M316.4 1618.8L332.6 1618.8M335.3 1612L344.8 1612M335.3 1616.3L344.8 1616.3M347.5 1612L357 1612M347.5 1616.3L357 1616.3M375.9 1605.7L361 1616.3M369.2 1610.8L369.2 1620.5M381.3 1606.9L397.6 1606.9M382.7 1614.6L396.2 1614.6M380 1619.7L398.9 1619.7M404.4 1609.5L415.2 1609.5M401.6 1618.8L417.9 1618.8M420.6 1612L430.1 1612M420.6 1616.3L430.1 1616.3M434.1 1614.6L450.4 1614.6M455.8 1618.8L454.4 1621.4M476.1 1605.7L461.2 1616.3M469.3 1610.8L469.3 1620.5M495.1 1606.9L492.4 1614.6L481.5 1620.5M499.1 1605.7L501.8 1610.8L501.8 1618L499.1 1621.4M505.9 1612L515.4 1612M505.9 1616.3L515.4 1616.3M520.8 1609.5L531.6 1609.5M518.1 1618.8L534.3 1618.8M538.4 1606.9L554.6 1606.9M539.7 1614.6L553.3 1614.6M537 1619.7L556 1619.7M558.7 1621.4L577.6 1605.7M125.2 1638.9L124.1 1641.4M155 1642.2L171 1642.2M174 1637.2L176 1638L175 1640.6L173 1639.7L174 1637.2M187 1632.1L183 1632.1L182 1635.5L187 1637.2L186 1640.6L182 1640.6M202 1625.7L190 1630.8L202 1635.5M190 1637.2L202 1637.2M190 1639.7L202 1639.7M204 1642.2L212 1642.2M224 1627L222 1634.7L214 1640.6M245.2 1641.4L262.8 1625.7M289.2 1625.7L279.7 1636.3M284.9 1630.8L284.9 1640.6M293.6 1629.5L300.5 1629.5M291.8 1638.9L302.2 1638.9M303.9 1640.6L309.1 1625.7M324.6 1627L319.6 1638.9L331.2 1638M327.9 1635.5L331.2 1639.7M334.5 1640.6L344.4 1625.7M382.1 1625.7L384.2 1627L384.2 1633.4L386.3 1635.1L384.2 1636.3L384.2 1640.6L382.1 1641.4M390.5 1629.5L398.9 1629.5M388.4 1638.9L401 1638.9M403.1 1625.7L405.7 1629.5M414.6 1630.8L421 1637.2M425.2 1627L437.8 1627M426.2 1634.7L436.7 1634.7M424.1 1639.7L438.8 1639.7M440.9 1632.1L448.3 1632.1M440.9 1636.3L448.3 1636.3M452.5 1629.5L460.9 1629.5M450.4 1638.9L463 1638.9M465.1 1632.1L472.5 1632.1M465.1 1636.3L472.5 1636.3M487.2 1625.7L475.6 1636.3M481.9 1630.8L481.9 1640.6M491.4 1630.8L497.7 1637.2M503 1627L511.4 1629.5M503 1633.4L511.4 1635.5M501.9 1637.2L512.4 1640.6M515.6 1625.7L517.7 1627L517.7 1633.4L519.8 1635.1L517.7 1636.3L517.7 1640.6L515.6 1641.4M522.9 1630.8L529.3 1637.2M533.5 1627L546.1 1627M534.5 1634.7L545 1634.7M532.4 1639.7L547.1 1639.7M549.2 1625.7L563.9 1641.4M678.6 1625.7L669.6 1640.6L680.3 1640.6M681.9 1625.7L683.5 1627L683.5 1633.4L685.2 1635.1L683.5 1636.3L683.5 1640.6L681.9 1641.4M224.3 1661.5L242.7 1645.8M249.3 1649.6L258.3 1649.6M247.1 1658.9L260.5 1658.9M262.7 1660.6L269.4 1645.8M271.7 1645.8L273.9 1647L273.9 1653.4L276.1 1655.1L273.9 1656.4L273.9 1660.6L271.7 1661.5M279.5 1647L292.8 1647M280.6 1654.7L291.7 1654.7M278.3 1659.8L294 1659.8M296.2 1660.6L302.9 1645.8M348.2 1658.9L347.1 1661.5M382.3 1645.8L384.8 1647L384.8 1653.4L387.3 1655.1L384.8 1656.4L384.8 1660.6L382.3 1661.5M392.4 1649.6L402.5 1649.6M389.8 1658.9L405 1658.9M429 1645.8L415.1 1656.4M422.7 1650.9L422.7 1660.6M434.1 1650.9L441.6 1657.2M445.4 1660.6L453 1645.8M455.5 1660.6L463.1 1645.8M473.2 1650.9L480.8 1657.2M485.9 1650.9L493.5 1657.2M508.6 1645.8L506.1 1647L506.1 1653.4L503.6 1655.1L506.1 1656.4L506.1 1660.6L508.6 1661.5M513.7 1649.6L523.8 1649.6M511.1 1658.9L526.3 1658.9M528.8 1645.8L531.4 1647L531.4 1653.4L533.9 1655.1L531.4 1656.4L531.4 1660.6L528.8 1661.5M542.7 1645.8L560.4 1661.5M564.8 1643.9L564.8 1662.7M721.2 1658.1L724.7 1660.6M728.3 1645.8L731.2 1649.6M136.5 1665.8L125.9 1680.7L138.4 1680.7M140.3 1680.7L146 1665.8M206.1 1681.5L221.9 1665.8M224.1 1674.8L230.9 1674.8M246.7 1665.8L234.3 1676.4M241.1 1670.9L241.1 1680.7M279.2 1663.9L279.2 1682.8M285.2 1680.7L295.3 1665.8M382.2 1665.8L384.6 1667.1L384.6 1673.5L386.9 1675.2L384.6 1676.4L384.6 1680.7L382.2 1681.5M391.7 1669.6L401.2 1669.6M389.3 1679L403.6 1679M411.9 1680.7L419 1665.8M421.4 1680.7L428.5 1665.8M438.6 1663.9L438.6 1682.8M445.2 1669.6L454.7 1669.6M442.8 1679L457 1679M461.2 1663.9L461.2 1682.8M471.3 1665.8L473.7 1667.1L473.7 1673.5L476 1675.2L473.7 1676.4L473.7 1680.7L471.3 1681.5M480.8 1669.6L490.3 1669.6M478.4 1679L492.7 1679M497.4 1669.6L506.9 1669.6M495.1 1679L509.3 1679M511.7 1680.7L518.8 1665.8M702.1 1678.1L705.5 1680.7M186.2 1701.6L203.8 1685.9M376.4 1700.7L384.5 1685.9M389.9 1689.7L400.7 1689.7M387.2 1699L403.4 1699M406.1 1700.7L414.3 1685.9M417 1700.7L425.1 1685.9M435.2 1699.9L436.3 1700.6M442 1684L442 1702.8M449.4 1689.7L460.3 1689.7M446.7 1699L463 1699M467.7 1684L467.7 1702.8M479.2 1688.4L496.8 1688.4L488.7 1696.5M484.6 1694.8L494.1 1699.9M499.5 1700.7L507.6 1685.9M366.3 1720.8L374.1 1705.9M379.3 1709.7L389.7 1709.7M376.7 1719.1L392.3 1719.1M394.9 1720.8L402.7 1705.9M434.3 1705.9L434.3 1717.4M434.3 1719.9L435.5 1720.6M448.2 1705.9L448.2 1717.4M448.2 1719.9L449.4 1720.6M504.8 1704L504.8 1722.9M356.6 1740.8L366 1726M377 1740.8L386.4 1726M503.7 1726L503.7 1737.4M503.7 1740L504.6 1740.7M345 1760.9L357 1746"/>
<path stroke-width="1.3" d="M453.5 1831.7L474.5 1810.6M478.9 1829.4L479.6 1830.3M483.7 1829.4L484.4 1830.3M488.5 1829.4L489.2 1830.3M494.2 1829.4L495 1830.3M499 1829.4L499.8 1830.3M503.8 1829.4L504.6 1830.3M509.5 1829.4L510.3 1830.3M514.3 1829.4L515.1 1830.3M519.1 1829.4L519.9 1830.3M524.9 1829.4L525.6 1830.3M529.7 1829.4L530.4 1830.3M534.5 1829.4L535.2 1830.3M540.2 1829.4L541 1830.3M545 1829.4L545.8 1830.3M549.8 1829.4L550.6 1830.3M555.5 1829.4L556.3 1830.3M560.3 1829.4L561.1 1830.3M565.1 1829.4L565.9 1830.3M570.9 1829.4L571.6 1830.3M575.7 1829.4L576.4 1830.3M580.5 1829.4L581.2 1830.3M586.2 1829.4L587 1830.3M591 1829.4L591.8 1830.3M595.8 1829.4L596.6 1830.3M601.5 1829.4L602.3 1830.3M606.3 1829.4L607.1 1830.3M611.1 1829.4L611.9 1830.3M618.4 1810.6L638.6 1831.7M429.5 1858.7L450.5 1837.6M453.1 1856.4L454 1857.3M458.4 1856.4L459.2 1857.3M463.6 1856.4L464.5 1857.3M469.9 1856.4L470.8 1857.3M475.2 1856.4L476 1857.3M480.4 1856.4L481.3 1857.3M486.8 1856.4L487.6 1857.3M492 1856.4L492.8 1857.3M497.2 1856.4L498.1 1857.3M503.6 1856.4L504.4 1857.3M508.8 1856.4L509.6 1857.3M514.1 1856.4L514.9 1857.3M520.4 1856.4L521.2 1857.3M525.6 1856.4L526.4 1857.3M530.9 1856.4L531.7 1857.3M535.4 1858.7L554.6 1837.6M556 1836.7L574.3 1836.7M574.3 1836.7L592.7 1836.7M592.7 1836.7L611 1836.7M612.4 1837.6L632.6 1858.7M636.1 1856.4L637.2 1857.3M641.6 1856.4L642.7 1857.3M403.5 1885.7L424.5 1864.6M429.2 1883.4L430 1884.3M434.5 1883.4L435.4 1884.3M439.8 1883.4L440.7 1884.3M446.2 1883.4L447 1884.3M451.5 1883.4L452.4 1884.3M456.8 1883.4L457.7 1884.3M463.2 1883.4L464 1884.3M468.5 1883.4L469.4 1884.3M473.8 1883.4L474.7 1884.3M480.2 1883.4L481 1884.3M485.5 1883.4L486.4 1884.3M490.8 1883.4L491.7 1884.3M497.2 1883.4L498 1884.3M502.5 1883.4L503.4 1884.3M507.8 1883.4L508.7 1884.3M514.2 1883.4L515 1884.3M519.5 1883.4L520.4 1884.3M524.8 1883.4L525.7 1884.3M537.2 1883.4L538.5 1884.3M647.4 1871.5L651.6 1880M407.1 1910.4L407.9 1911.3M412.1 1910.4L413 1911.3M417.2 1910.4L418 1911.3M423.3 1910.4L424.2 1911.3M428.4 1910.4L429.2 1911.3M433.5 1910.4L434.3 1911.3M439.6 1910.4L440.4 1911.3M444.7 1910.4L445.5 1911.3M449.8 1910.4L450.6 1911.3M455.9 1910.4L456.7 1911.3M461 1910.4L461.8 1911.3M466.1 1910.4L466.9 1911.3M472.2 1910.4L473 1911.3M477.3 1910.4L478.1 1911.3M482.4 1910.4L483.2 1911.3M488.5 1910.4L489.3 1911.3M493.6 1910.4L494.4 1911.3M498.7 1910.4L499.5 1911.3M504.8 1910.4L505.6 1911.3M509.9 1910.4L510.7 1911.3M514.9 1910.4L515.8 1911.3M519.2 1911.5L526.8 1891.6M658.8 1889L658.8 1914.4M406.8 1916L406.8 1941.4M408.9 1937.4L409.6 1938.3M413.7 1937.4L414.4 1938.3M418.5 1937.4L419.2 1938.3M424.2 1937.4L425 1938.3M429 1937.4L429.8 1938.3M433.8 1937.4L434.6 1938.3M439.5 1937.4L440.3 1938.3M444.3 1937.4L445.1 1938.3M449.1 1937.4L449.9 1938.3M453.4 1927.2L461.9 1938.5M461.9 1927.2L453.4 1938.5M464.8 1930.6L473.2 1930.6M476.1 1927.2L484.6 1938.5M484.6 1927.2L476.1 1938.5M489.9 1937.4L490.9 1938.3M496.4 1937.4L497.4 1938.3M502.9 1937.4L503.9 1938.3M509.4 1936.3L508.1 1939.7M573.3 1936.3L572.2 1939.7M575.7 1917.7L594.5 1917.7M594.5 1917.7L613.3 1917.7M615.6 1925.5L622.7 1934M658.4 1925.5L662.6 1934M406.8 1943L406.8 1968.4M408.7 1964.4L409.4 1965.3M413.2 1964.4L413.9 1965.3M417.6 1964.4L418.4 1965.3M423 1964.4L423.7 1965.3M427.5 1964.4L428.2 1965.3M432 1964.4L432.7 1965.3M437.4 1964.4L438.1 1965.3M441.8 1964.4L442.5 1965.3M446.3 1964.4L447 1965.3M457.8 1943L457.8 1968.4M475.1 1945.6L475.1 1950.7M467.5 1958.7L467.5 1950.7L481.5 1950.7L481.5 1958.7L473.9 1965.5M496.4 1952.5L500.6 1961M597.2 1945.6L593.3 1954.2M595.9 1949L601.2 1949M605.1 1945.6L602.5 1954.2M603.8 1949L610.4 1949M598.6 1954.2L594.6 1961M597.2 1958.7L597.2 1966.7M601.2 1958.7L611.7 1958.7M607.8 1954.2L607.8 1965.5L605.1 1965.5M602.5 1961L603.8 1963.3M627.9 1945.6L626.3 1952.5M652.4 1947.3L656 1950.7M651.2 1955.9L654.8 1958.7M652.4 1965.5L666.8 1952.5M399.9 1974.3L397.7 1984.6L389.1 1992.5M407.8 1991.4L408.5 1992.3M412.3 1991.4L413.1 1992.3M416.9 1991.4L417.6 1992.3M422.4 1991.4L423.2 1992.3M427 1991.4L427.7 1992.3M431.6 1991.4L432.3 1992.3M437.1 1991.4L437.8 1992.3M441.7 1991.4L442.4 1992.3M446.3 1991.4L447 1992.3M457.8 1979.5L463.2 1988M472 1994.8L486 1994.8M537.8 1972.6L539.2 1974.3L539.2 1982.9L540.8 1985.2L539.2 1986.9L539.2 1992.5L537.8 1993.7M542.2 1972.6L543.8 1974.3L543.8 1982.9L545.2 1985.2L543.8 1986.9L543.8 1992.5L542.2 1993.7M604 1992.5L622 1972.6M657.4 1979.5L661.6 1988"/>
<path stroke-width="1.3" d="M1034.3 338.4L1030.2 344.3L1030.2 352.7L1034.3 356.7M1037.1 339.9L1042.6 339.9L1042.6 345.8L1037.1 345.8M1037.1 345.8L1037.1 350.8L1042.6 350.8L1042.6 355.7L1039.8 355.7M1046.8 338.4L1055.1 338.4L1055.1 344.3L1046.8 344.3L1046.8 338.4M1050.9 338.4L1048.1 342.9M1045.4 347.3L1056.5 347.3L1056.5 352.7L1045.4 352.7L1045.4 347.3M1050.9 345.8L1050.9 355.7M1055.1 353.7L1056.5 355.7M1060.6 338.4L1067.5 338.4L1067.5 342.9L1060.6 342.9L1060.6 338.4M1059.2 344.3L1068.9 344.3M1063.4 344.3L1063.4 348.8M1070.3 338.4L1070.3 348.8L1078.6 348.8M1071.7 341.4L1078.6 341.4M1071.7 344.3L1078.6 344.3M1059.2 350.8L1078.6 350.8M1068.9 349.8L1068.9 351.8M1062 351.8L1068.9 356.7M1075.8 351.8L1068.9 356.7M1063.4 354.7L1059.2 356.7M1073.1 354.7L1078.6 356.7M1085.5 338.4L1085.5 341.4M1081.4 341.4L1092.4 341.4M1084.1 342.9L1085.5 345.8M1089.7 342.9L1088.3 345.8M1081.4 347.3L1092.4 347.3M1082.8 350.8L1091.1 350.8L1091.1 355.7L1082.8 355.7L1082.8 350.8M1095.2 338.4L1095.2 356.7M1095.2 339.9L1100.7 339.9L1098 347.3L1100.7 350.8L1096.6 352.7M1103.5 338.4L1103.5 356.7M1103.5 339.9L1109.1 339.9L1106.3 347.3L1109.1 350.8L1104.9 352.7M1113.2 338.4L1114.6 341.4M1120.1 338.4L1118.7 341.4M1111.8 342.9L1122.9 342.9M1113.2 345.8L1121.5 345.8M1117.4 345.8L1111.8 350.8M1117.4 347.3L1117.4 355.7L1114.6 355.7M1117.4 349.8L1111.8 354.7M1117.4 349.8L1122.9 354.7M1127 339.9L1143.7 339.9M1128.4 348.8L1142.3 348.8M1125.7 354.7L1145 354.7M1147.8 339.9L1154.7 339.9L1154.7 345.8L1147.8 345.8L1147.8 339.9M1147.8 349.8L1156.1 349.8M1152 349.8L1150.6 354.7L1156.1 355.7M1161.7 338.4L1161.7 342.9L1167.2 342.9M1157.5 344.3L1157.5 350.8L1167.2 350.8M1158.9 347.3L1165.8 347.3M1160.3 350.8L1157.5 356.7M1163 350.8L1163 355.7L1167.2 355.7M1174.1 348.8L1185.2 348.8M1192.1 342.9L1201.8 342.9M1196.3 338.4L1196.3 348.8M1192.1 348.8L1201.8 348.8M1196.3 349.8L1192.1 355.7L1201.8 353.7M1199 352.7L1201.8 355.7M1203.2 344.3L1211.5 344.3L1211.5 355.7L1208.7 355.7M1207.3 338.4L1207.3 349.8L1203.2 356.7M1214.3 344.3L1219.8 344.3M1217 338.4L1217 355.7L1215.6 354.7M1214.3 352.7L1219.8 349.8M1226.7 338.4L1226.7 341.4M1221.2 341.4L1233.6 341.4M1222.6 344.3L1232.2 344.3L1232.2 349.8L1222.6 349.8L1222.6 344.3M1226.7 349.8L1226.7 355.7L1225.3 355.7M1223.9 351.8L1221.2 354.7M1230.9 351.8L1233.6 354.7M1237.8 338.4L1237.8 349.8L1254.4 349.8L1254.4 338.4M1241.9 341.4L1250.2 347.3M1250.2 341.4L1241.9 347.3M1243.3 349.8L1241.9 353.7L1236.4 356.7M1248.9 349.8L1248.9 355.7L1255.8 355.7M1268.2 338.4L1265.5 339.9M1261.3 339.9L1275.2 339.9L1275.2 349.8L1261.3 349.8L1261.3 339.9M1261.3 344.3L1275.2 344.3M1261.3 347.3L1275.2 347.3M1261.3 349.8L1261.3 352.7L1277.9 352.7L1276.5 356.7L1273.8 356.7M1262.7 354.7L1261.3 355.7M1266.9 354.7L1266.9 355.7M1271 354.7L1271 355.7M1280.7 338.4L1284.8 344.3L1284.8 352.7L1280.7 356.7"/>
<path stroke-width="2.0" d="M1068.3 963.9L1073.4 963.9L1073.4 971.2L1068.3 971.2L1068.3 963.9M1076 959.5L1086.2 959.5L1086.2 963.9L1076 963.9M1076 959.5L1076 973.2L1074.7 976.1M1077.2 966.9L1086.2 966.9M1081.1 966.9L1078.5 970.3L1084.9 970.3M1083.7 969.3L1084.9 971.2M1081.1 970.3L1081.1 975.1M1078.5 972.2L1083.7 972.2M1077.2 975.1L1086.2 975.1M1088.8 963.9L1093.9 963.9L1093.9 971.2L1088.8 971.2L1088.8 963.9M1095.2 963.9L1099 963.9M1097.8 958.1L1097.8 975.1L1096.5 974.1M1095.2 971.2L1099 969.3M1102.9 958.1L1102.9 961M1100.3 962.5L1106.7 962.5M1101.6 965.4L1102.9 972.2M1105.4 965.4L1104.2 972.2M1100.3 974.1L1106.7 974.1M1109.3 963.9L1114.4 963.9L1114.4 971.2L1109.3 971.2L1109.3 963.9M1117 959.5L1127.2 959.5L1127.2 963.9L1117 963.9M1117 959.5L1117 973.2L1115.7 976.1M1118.2 966.9L1127.2 966.9M1122.1 966.9L1119.5 970.3L1125.9 970.3M1124.7 969.3L1125.9 971.2M1122.1 970.3L1122.1 975.1M1119.5 972.2L1124.7 972.2M1118.2 975.1L1127.2 975.1M1129.8 963.9L1134.9 963.9L1134.9 971.2L1129.8 971.2L1129.8 963.9M1136.2 963.9L1140 963.9M1138.8 958.1L1138.8 975.1L1137.5 974.1M1136.2 971.2L1140 969.3M1143.9 958.1L1143.9 961M1141.3 962.5L1147.7 962.5M1142.6 965.4L1143.9 972.2M1146.4 965.4L1145.2 972.2M1141.3 974.1L1147.7 974.1"/>
<path stroke-width="1.2" d="M1160.2 958.1L1160.2 971.2M1160.2 974.1L1161.2 974.9M1180.6 958.1L1180.6 971.2M1180.6 974.1L1181.6 974.9M1201 958.1L1201 971.2M1201 974.1L1202 974.9M1221.4 958.1L1221.4 971.2M1221.4 974.1L1222.4 974.9M1241.8 958.1L1241.8 971.2M1241.8 974.1L1242.8 974.9"/>
<path stroke-width="1.25" d="M914.8 1486.1L911.4 1490.9L911.4 1497.7L914.8 1500.9M918.1 1486.1L931.6 1486.1L931.6 1489.8L918.1 1489.8L918.1 1486.1M922.6 1486.1L922.6 1489.8M927.1 1486.1L927.1 1489.8M924.9 1490.9L918.1 1495.3M921.5 1493.3L921.5 1500.9M924.9 1492.1L924.9 1500.9M926 1495.3L931.6 1493.3M928.2 1495.3L928.2 1500.9M929.4 1496.9L932.8 1500.9M942.9 1486.1L942.9 1490.9L935 1500.1M942.9 1490.9L950.8 1500.1M954.1 1487.3L959.8 1486.1M954.1 1489.8L959.8 1489.8L959.8 1494.5L954.1 1494.5L954.1 1489.8M954.1 1494.5L953 1500.9M967.6 1486.1L962 1488.5L962 1496.1L960.9 1500.9M962 1492.1L968.8 1492.1M965.4 1492.1L965.4 1500.9M971 1489.8L986.8 1489.8M978.9 1486.1L972.1 1497.7M975.5 1494.5L975.5 1500.9M977.8 1495.3L986.8 1495.3M982.2 1492.1L982.2 1500.1M977.8 1500.1L986.8 1500.1M996.9 1484.9L996.9 1487.3M990.1 1490.9L990.1 1488.5L1003.6 1488.5L1003.6 1490.9M992.4 1493.3L1001.4 1493.3M989 1496.9L1004.8 1496.9M996.9 1493.3L996.9 1500.9L994.6 1500.1M1014.9 1484.9L1014.9 1487.3M1008.1 1490.9L1008.1 1488.5L1021.6 1488.5L1021.6 1490.9M1014.9 1490.9L1014.9 1500.1M1009.2 1494.5L1020.5 1494.5L1020.5 1500.1L1009.2 1500.1L1009.2 1494.5M1009.2 1496.9L1020.5 1496.9M1025 1488.5L1040.8 1488.5M1029.5 1486.1L1029.5 1495.3M1036.2 1486.1L1036.2 1495.3M1029.5 1490.9L1036.2 1490.9M1029.5 1493.3L1036.2 1493.3M1025 1495.3L1040.8 1495.3M1029.5 1496.1L1026.1 1497.7M1036.2 1496.1L1039.6 1497.7M1028.4 1497.7L1037.4 1497.7M1032.9 1496.1L1032.9 1500.1M1026.1 1500.1L1039.6 1500.1M1043 1492.1L1047.5 1492.1M1045.2 1487.3L1045.2 1498.5M1043 1499.3L1048.6 1496.9M1049.8 1492.1L1057.6 1489.8L1057.6 1495.3L1056.5 1495.3M1052 1487.3L1052 1497.7M1054.2 1486.1L1054.2 1499.3L1058.8 1499.3L1058.8 1497.7M1063.2 1498.5L1062.1 1500.9M1072.2 1486.1L1075.6 1490.9L1075.6 1497.7L1072.2 1500.9M914.9 1527.8L911.4 1532.6L911.4 1539.3L914.9 1542.5M919.5 1529L919.5 1540.1L917.2 1541.7M921.8 1533.8L924.1 1537M930.9 1527.8L928.6 1537L921.8 1542.5M928.6 1537.8L933.2 1542.5M936.7 1529L947 1529L945.8 1533.8L950.4 1533.8L943.5 1539.3L936.7 1542.5M940.1 1529L940.1 1536.2L935.5 1541.7M942.4 1537L951.6 1542.5M953.9 1532.6L958.4 1532.6M956.2 1527.8L956.2 1542.5M956.2 1533.8L953.9 1539.3M956.2 1535L958.4 1537.8M960.7 1530.2L961.9 1533.8M963 1529L961.9 1532.6M964.2 1529L965.3 1532.6M959.6 1536.2L969.9 1535M966.5 1527.8L967.6 1537L969.9 1541.7M968.8 1529L969.9 1531.4M961.9 1537.8L960.7 1541.7M964.2 1537.8L966.5 1540.1M980.2 1526.6L980.2 1529M973.4 1529L988.3 1529M974.5 1529L974.5 1537.8L972.2 1542.5M976.8 1532.6L987.1 1532.6M977.9 1535L986 1535L986 1538.5L977.9 1538.5L977.9 1535M977.9 1537L986 1537M975.6 1540.1L988.3 1540.1M981.4 1531.4L981.4 1542.5M991.7 1527.8L997.4 1527.8L997.4 1535L991.7 1535L991.7 1527.8M991.7 1531.4L997.4 1531.4M999.7 1527.8L1005.5 1527.8L1005.5 1535L999.7 1535L999.7 1527.8M999.7 1531.4L1005.5 1531.4M991.7 1535L991.7 1542.5M1005.5 1535L1005.5 1542.5L1003.2 1542.5M995.1 1537.8L1002 1537.8M994 1540.1L1003.2 1540.1M996.3 1537.8L995.1 1542.5M1000.9 1537.8L1000.9 1542.5M1012.3 1527.8L1010 1536.2L1015.8 1537.8M1008.9 1532.6L1015.8 1532.6M1014.6 1532.6L1008.9 1541.7M1020.4 1527.8L1018.1 1533.8L1024.9 1533.8M1023.8 1531.4L1024.9 1535M1018.1 1537L1024.9 1537L1024.9 1541.7L1018.1 1541.7L1018.1 1537M1041 1527.8L1029.5 1530.2M1029.5 1531.4L1030.7 1533.8M1034.1 1531.4L1035.3 1533.8M1039.9 1531.4L1037.6 1535M1028.4 1537L1028.4 1535L1042.1 1535L1042.1 1537M1030.7 1537.8L1039.9 1537.8L1029.5 1542.5M1031.8 1538.5L1043.3 1542.5M1045.6 1529L1054.8 1529M1050.2 1529L1046.7 1535L1054.8 1535M1052.5 1532.6L1054.8 1536.2M1045.6 1537.8L1054.8 1537.8M1050.2 1535L1050.2 1540.9M1045.6 1541.7L1054.8 1540.9M1057.1 1530.2L1057.1 1539.3M1060.5 1527.8L1060.5 1541.7L1058.2 1541.7M1065.1 1529L1068.5 1532.6M1068.5 1527.8L1063.9 1537M1068.5 1533.8L1063.9 1541.7M1072 1527.8L1077.7 1527.8L1075.4 1531.4M1070.8 1532.6L1080 1532.6M1075.4 1530.2L1075.4 1536.2L1073.1 1536.2M1072 1537.8L1078.8 1537.8L1078.8 1541.7L1072 1541.7L1072 1537.8M1074.2 1537.8L1074.2 1541.7M1076.5 1537.8L1076.5 1541.7M1069.7 1541.7L1080 1541.7M1082.3 1529L1090.3 1529M1085.7 1529L1082.3 1536.2M1084.6 1532.6L1090.3 1532.6L1088 1537M1088 1533.8L1084.6 1537M1092.6 1529L1092.6 1536.2M1097.2 1527.8L1097.2 1537L1094.9 1537M1083.4 1540.1L1082.3 1542.5M1088 1540.1L1088 1541.7M1092.6 1540.1L1092.6 1541.7M1097.2 1540.1L1098.3 1542.5M1105.2 1527.8L1102.9 1530.2M1101.8 1530.2L1107.5 1530.2L1107.5 1541.7L1101.8 1541.7L1101.8 1530.2M1101.8 1537L1107.5 1537M1112.1 1527.8L1109.8 1533.8M1110.9 1531.4L1116.7 1531.4L1116.7 1541.7L1114.4 1541.7M1112.1 1536.2L1113.2 1538.5M1120.1 1531.4L1121.3 1535M1124.7 1531.4L1123.6 1535M1122.4 1527.8L1122.4 1537L1119 1542.5M1122.4 1537L1125.8 1541.7M1129.3 1527.8L1127 1532.6M1128.1 1531.4L1135 1531.4L1135 1541.7L1133.9 1541.7M1128.1 1535L1132.7 1535L1132.7 1538.5L1128.1 1538.5L1128.1 1541.7L1135 1541.7M1137.3 1529L1145.3 1529M1138.5 1530.2L1144.2 1530.2L1144.2 1533.8L1138.5 1533.8L1138.5 1530.2M1140.8 1527.8L1140.8 1537M1137.3 1536.2L1145.3 1536.2M1147.6 1527.8L1147.6 1531.4L1152.2 1531.4M1146.5 1533.8L1153.4 1533.8L1148.8 1537M1149.9 1533.8L1153.4 1537M1139.6 1538.5L1151.1 1538.5M1138.5 1540.1L1152.2 1540.1M1145.3 1537.8L1145.3 1542.5L1143 1542.5M1157.9 1540.1L1156.8 1542.5M1167.1 1527.8L1170.6 1532.6L1170.6 1539.3L1167.1 1542.5M914.9 1566.5L911.4 1571.3L911.4 1578.1L914.9 1581.3M920.6 1566.5L917.2 1571.3M920.6 1571.3L917.2 1575.7M919.5 1573.7L919.5 1581.3M924 1567.7L932.1 1567.7L932.1 1574.9L924 1574.9L924 1567.7M924 1571.3L932.1 1571.3M924 1574.9L924 1580.5L927.5 1578.9M926.3 1575.7L933.2 1581.3M932.1 1575.7L928.6 1577.3M935.5 1567.7L951.5 1567.7M944.7 1567.7L936.6 1577.3M943.5 1572.5L943.5 1581.3M945.8 1574.9L950.4 1578.1M953.8 1570.1L959.6 1570.1M957.3 1570.1L957.3 1578.9M953.8 1579.7L960.7 1578.1M961.9 1567.7L969.9 1567.7M964.2 1567.7L963 1574.9L969.9 1574.9L968.7 1580.5L966.4 1580.5M976.8 1566.5L974.5 1568.9M973.3 1568.9L979 1568.9L979 1580.5L973.3 1580.5L973.3 1568.9M973.3 1575.7L979 1575.7M983.6 1566.5L981.3 1572.5M982.5 1570.1L988.2 1570.1L988.2 1580.5L985.9 1580.5M983.6 1574.9L984.8 1577.3M992.8 1578.9L991.7 1581.3M1002 1574.9L1018 1574.9M1010 1566.5L1010 1581.3M1005.4 1568.9L1006.6 1572.5M1014.6 1568.9L1013.4 1572.5M1010 1574.9L1003.1 1580.5M1010 1574.9L1016.9 1580.5M1029.5 1565.3L1027.2 1566.5M1022.6 1567.7L1034.1 1567.7L1034.1 1575.7L1022.6 1575.7L1022.6 1567.7M1028.3 1568.9L1028.3 1575.7M1024.9 1570.1L1031.8 1574.9M1031.8 1570.1L1024.9 1574.9M1020.3 1577.3L1036.3 1577.3M1028.3 1575.7L1021.5 1581.3M1028.3 1577.3L1035.2 1581.3M1038.6 1568.9L1044.4 1568.9M1038.6 1574.9L1044.4 1574.9M1040.9 1568.9L1040.9 1578.9M1038.6 1579.7L1044.4 1578.1M1045.5 1571.3L1050.1 1571.3M1047.8 1566.5L1047.8 1581.3M1047.8 1572.5L1045.5 1578.1M1047.8 1572.5L1050.1 1576.5M1050.1 1571.3L1054.7 1571.3M1052.4 1566.5L1052.4 1581.3M1052.4 1572.5L1050.1 1578.1M1052.4 1572.5L1054.7 1577.3M1058.1 1567.7L1060.4 1568.9M1057 1572.5L1059.3 1573.7M1057 1580.5L1060.4 1576.5M1063.9 1566.5L1071.9 1566.5L1071.9 1572.5L1063.9 1572.5L1063.9 1566.5M1063.9 1568.9L1071.9 1568.9M1062.7 1575.7L1073 1575.7M1067.3 1573.7L1067.3 1580.5M1063.9 1578.1L1071.9 1578.1M1062.7 1580.5L1073 1580.5M1076.5 1567.7L1076.5 1575.7L1081 1575.7M1078.7 1568.9L1081 1568.9M1078.7 1572.5L1081 1572.5M1090.2 1567.7L1090.2 1575.7L1085.6 1575.7M1085.6 1568.9L1087.9 1568.9M1085.6 1572.5L1087.9 1572.5M1083.3 1567.7L1083.3 1575.7M1075.3 1577.3L1091.4 1577.3M1079.9 1578.1L1076.5 1581.3M1086.8 1578.1L1090.2 1581.3M1098.2 1566.5L1094.8 1571.3M1105.1 1566.5L1108.5 1571.3M1097.1 1573.7L1107.4 1581.3M1106.3 1573.7L1094.8 1581.3M1115.4 1567.7L1125.7 1567.7L1124.6 1580.5L1122.3 1580.5M1115.4 1567.7L1114.3 1578.9M1112 1574.9L1128 1574.9M1112 1578.9L1128 1578.9M1118.9 1570.1L1120 1572.5M1118.9 1576.5L1120 1578.1M1130.3 1567.7L1146.4 1567.7M1138.3 1567.7L1138.3 1572.5M1131.5 1572.5L1131.5 1581.3M1131.5 1572.5L1145.2 1572.5L1145.2 1581.3L1142.9 1581.3M1134.9 1573.7L1134.9 1579.7M1141.8 1573.7L1141.8 1579.7M1134.9 1575.7L1136 1578.1M1141.8 1575.7L1142.9 1578.1M1156.7 1566.5L1156.7 1571.3L1148.7 1580.5M1156.7 1571.3L1164.7 1580.5M1168.1 1567.7L1173.9 1566.5M1168.1 1570.1L1173.9 1570.1L1173.9 1574.9L1168.1 1574.9L1168.1 1570.1M1168.1 1574.9L1167 1581.3M1181.9 1566.5L1176.2 1568.9L1176.2 1576.5L1175 1581.3M1176.2 1572.5L1183 1572.5M1179.6 1572.5L1179.6 1581.3M1185.3 1570.1L1201.4 1570.1M1193.3 1566.5L1186.5 1578.1M1189.9 1574.9L1189.9 1581.3M1192.2 1575.7L1201.4 1575.7M1196.8 1572.5L1196.8 1580.5M1192.2 1580.5L1201.4 1580.5M1208.2 1566.5L1206 1568.9M1204.8 1568.9L1210.5 1568.9L1210.5 1580.5L1204.8 1580.5L1204.8 1568.9M1204.8 1575.7L1210.5 1575.7M1215.1 1566.5L1212.8 1572.5M1214 1570.1L1219.7 1570.1L1219.7 1580.5L1217.4 1580.5M1215.1 1574.9L1216.3 1577.3M1222 1572.5L1226.6 1572.5M1224.3 1567.7L1224.3 1578.9M1222 1579.7L1227.7 1577.3M1228.9 1572.5L1236.9 1570.1L1236.9 1575.7L1235.7 1575.7M1231.2 1567.7L1231.2 1578.1M1233.5 1566.5L1233.5 1579.7L1238 1579.7L1238 1578.1M1248.4 1566.5L1248.4 1568.9M1240.3 1570.1L1256.4 1570.1M1246.1 1570.1L1244.9 1577.3L1241.5 1581.3M1246.1 1574.9L1254.1 1574.9L1252.9 1580.5L1249.5 1580.5M1261 1578.9L1259.8 1581.3M1270.1 1566.5L1273.6 1571.3L1273.6 1578.1L1270.1 1581.3M914.9 1607.3L911.4 1612.1L911.4 1618.9L914.9 1622.1M920.6 1607.3L920.6 1609.8M917.2 1611L922.9 1611L918.3 1617.3M920.6 1614.5L920.6 1622.1M921.7 1617.3L922.9 1618.9M925.2 1611L925.2 1616.5L924 1621.3M925.2 1611L933.2 1611L932 1614.5M929.7 1607.3L929.7 1616.5M925.2 1616.5L932 1616.5L926.3 1622.1M927.5 1618.1L933.2 1622.1M936.6 1609.8L937.8 1613.3M941.2 1609.8L940 1613.3M938.9 1607.3L938.9 1616.5L935.5 1622.1M938.9 1617.3L941.2 1621.3M943.5 1607.3L950.4 1607.3L950.4 1613.3L943.5 1613.3L943.5 1607.3M943.5 1609.8L950.4 1609.8M942.3 1615.8L951.5 1615.8M944.6 1614.5L944.6 1617.3M949.2 1614.5L949.2 1617.3M942.3 1618.1L951.5 1618.1M946.9 1618.1L943.5 1621.3M946.9 1618.1L950.4 1621.3M946.9 1618.9L946.9 1622.1M954.9 1611L956.1 1614.5M959.5 1611L958.4 1614.5M957.2 1607.3L957.2 1616.5L953.8 1622.1M957.2 1616.5L960.7 1621.3M964.1 1607.3L961.8 1613.3M962.9 1611L969.8 1611M964.1 1611L964.1 1622.1M964.1 1615.8L968.7 1615.8M964.1 1618.9L969.8 1618.9M973.2 1608.5L975.5 1609.8M972.1 1613.3L974.4 1614.5M972.1 1621.3L975.5 1617.3M979 1611L979 1616.5L977.8 1621.3M979 1611L988.1 1611L987 1614.5M983.5 1607.3L983.5 1616.5M979 1616.5L987 1616.5L980.1 1622.1M981.3 1618.1L988.1 1622.1M991.6 1608.5L1001.9 1608.5L1000.7 1613.3L1005.3 1613.3L998.4 1618.9L991.6 1622.1M995 1608.5L995 1615.8L990.4 1621.3M997.3 1616.5L1006.4 1622.1M1011 1619.7L1009.9 1622.1M1021.3 1608.5L1035.1 1608.5M1022.5 1615.8L1033.9 1615.8M1020.2 1620.5L1036.2 1620.5M1046.5 1607.3L1046.5 1612.1L1038.5 1621.3M1046.5 1612.1L1054.5 1621.3M1060.2 1607.3L1060.2 1609.8M1056.8 1611L1062.5 1611L1057.9 1617.3M1060.2 1614.5L1060.2 1622.1M1061.4 1617.3L1062.5 1618.9M1064.8 1611L1064.8 1616.5L1063.7 1621.3M1064.8 1611L1072.8 1611L1071.7 1614.5M1069.4 1607.3L1069.4 1616.5M1064.8 1616.5L1071.7 1616.5L1066 1622.1M1067.1 1618.1L1072.8 1622.1M1075.1 1613.3L1083.1 1612.1M1077.4 1607.3L1077.4 1618.9L1083.1 1618.1M1084.3 1609.8L1091.1 1609.8L1091.1 1621.3L1088.9 1621.3M1087.7 1609.8L1086.6 1618.1L1083.1 1622.1M1098 1606.1L1098 1608.5M1093.4 1611L1093.4 1608.5L1103.7 1608.5L1103.7 1611M1094.6 1612.1L1102.6 1612.1M1095.7 1614.5L1101.4 1614.5M1093.4 1616.5L1103.7 1616.5M1098 1611L1098 1617.3M1094.6 1618.1L1101.4 1618.1L1101.4 1621.3L1094.6 1621.3L1094.6 1618.1M1106 1609.8L1106 1618.9M1109.5 1607.3L1109.5 1621.3L1107.2 1621.3M1112.9 1608.5L1126.6 1608.5L1119.8 1615.8M1119.8 1614.5L1119.8 1621.3L1117.5 1621.3M1131.2 1607.3L1136.9 1607.3L1136.9 1614.5L1131.2 1614.5L1131.2 1607.3M1131.2 1611L1136.9 1611M1139.2 1607.3L1144.9 1607.3L1144.9 1614.5L1139.2 1614.5L1139.2 1607.3M1139.2 1611L1144.9 1611M1131.2 1614.5L1131.2 1622.1M1144.9 1614.5L1144.9 1622.1L1142.6 1622.1M1134.6 1617.3L1141.5 1617.3M1133.5 1619.7L1142.6 1619.7M1135.8 1617.3L1134.6 1622.1M1140.4 1617.3L1140.4 1622.1M1148.4 1609.8L1164.4 1609.8M1156.4 1607.3L1156.4 1622.1M1150.7 1612.1L1154.1 1617.3M1153 1612.1L1150.7 1616.5M1158.7 1612.1L1162.1 1617.3M1161 1612.1L1158.7 1616.5M1148.4 1617.3L1164.4 1617.3M1156.4 1617.3L1149.5 1622.1M1156.4 1617.3L1163.3 1622.1M1169 1618.1L1171.3 1618.9L1170.1 1621.3L1167.8 1620.5L1169 1618.1M1178.1 1607.3L1181.6 1612.1L1181.6 1618.9L1178.1 1622.1"/>
</g></svg>
</body></html>
